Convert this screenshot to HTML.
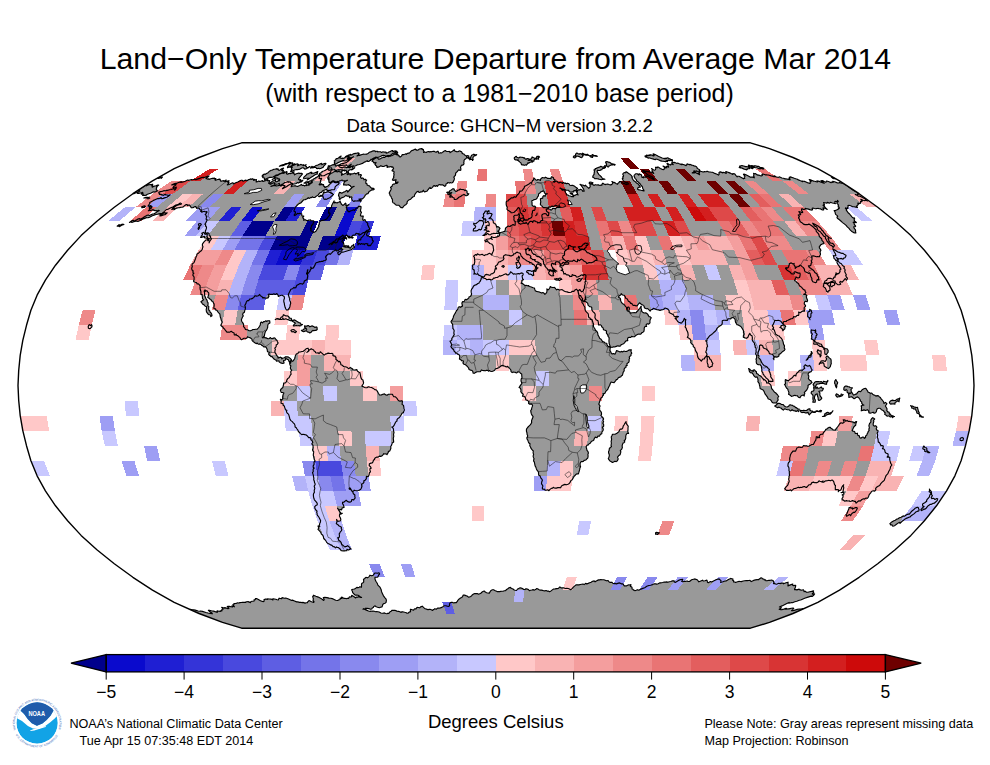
<!DOCTYPE html>
<html><head><meta charset="utf-8"><title>Land-Only Temperature Departure from Average Mar 2014</title>
<style>
html,body{margin:0;padding:0;background:#fff}
body{width:990px;height:765px;position:relative;overflow:hidden;font-family:"Liberation Sans",sans-serif;color:#000}
.t{position:absolute;white-space:nowrap;line-height:1}
.c{left:0;width:990px;text-align:center}
.cl{position:absolute;top:684.2px;width:60px;text-align:center;font-size:17.5px;line-height:1;white-space:nowrap}
</style></head><body>
<svg width="990" height="765" viewBox="0 0 990 765" style="position:absolute;left:0;top:0">
<rect width="990" height="765" fill="#fff"/>
<defs><clipPath id="c"><path d="M241.6,628.2 222.5,622.4 199,613.5 174.2,602.4 152.5,590.2 132.9,577.3 114.3,563.8 96.9,549.8 81.1,535.4 67.6,520.7 55.5,505.8 45.4,490.8 37.1,475.8 30.9,460.7 26.5,445.7 22.8,430.6 20.2,415.6 18.7,400.5 18,385.5 18.7,370.5 20.2,355.4 22.8,340.4 26.5,325.3 30.9,310.3 37.1,295.2 45.4,280.2 55.5,265.2 67.6,250.3 81.1,235.6 96.9,221.2 114.3,207.2 132.9,193.7 152.5,180.8 174.2,168.6 199,157.5 222.5,148.6 241.6,142.8 750.4,142.8 769.5,148.6 793,157.5 817.8,168.6 839.5,180.8 859.1,193.7 877.7,207.2 895.1,221.2 910.9,235.6 924.4,250.3 936.5,265.2 946.6,280.2 954.9,295.2 961.1,310.3 965.5,325.3 969.2,340.4 971.8,355.4 973.3,370.5 974,385.5 973.3,400.5 971.8,415.6 969.2,430.6 965.5,445.7 961.1,460.7 954.9,475.8 946.6,490.8 936.5,505.8 924.4,520.7 910.9,535.4 895.1,549.8 877.7,563.8 859.1,577.3 839.5,590.2 817.8,602.4 793,613.5 769.5,622.4 750.4,628.2Z"/></clipPath></defs>
<g clip-path="url(#c)">
<path d="M159,192.1 160.5,191.6 161.5,191.5 162.8,191.1 164.4,190.5 164.6,190.8 165.1,191 166.5,190.4 167.3,190.4 169.5,189.7 171.1,189.5 172.9,189 174.4,188.8 174.9,189.4 174.7,190.3 175.3,189.4 176.1,188.4 175.7,188.1 176.4,187.1 174.5,187.8 173.1,188.2 173.1,187.6 173.7,186.6 175.2,185.6 176.1,184.6 176,184.2 175.4,184.1 173.3,184.7 171.6,185 173.1,184.3 174.7,183.6 175.9,183.3 176.8,183.3 178.5,182.5 179.9,182.1 181.3,181.7 180.8,182.5 182.2,182.1 183.1,182 185.2,181.2 187.7,180 188.2,180.4 189.9,180 191.5,179.6 192.3,179.8 193.8,179.5 195,179.4 195.9,179.6 198,178.9 199.7,178.4 201.8,177.5 203.3,177.4 204.3,177.5 206.8,176.5 208.9,175.8 208.8,176.3 207.6,177.2 206,178.3 206.2,178.7 206.7,178.8 207.2,178.9 207.6,179.1 208.7,178.8 208.9,179.4 210.8,178.7 212.4,178.2 213,178.4 214.5,178.1 214.8,178.6 215.9,178.6 214.9,179.8 215.5,180.3 217.7,179.5 219.4,179.1 220.2,179.4 220.2,180.2 220.9,180.6 220.7,181.2 221.3,181.3 222.2,181 223.4,180.5 223.7,181.3 226.2,180.1 224.9,181.5 225.7,181.8 227.6,181 229,180.7 227.7,182.2 229.1,182.1 228.5,183.4 227.3,184.9 229.1,184.5 231.5,183.3 232.7,182.8 233.2,183 233.4,183.4 233.4,183.9 235.7,182.8 237.8,182 239.7,180.9 241.4,180.2 242.3,180.3 242.6,180.8 243.1,181.2 244.8,180.4 246.1,180.1 246,180.8 247,180.7 248.7,179.5 249.6,179.4 250.9,178.9 251.1,179.4 252.8,178.7 252.9,179.2 253.2,179.5 254.3,179.4 253.7,180.4 255.2,179.8 256.4,179.5 256.4,180.1 256.1,180.8 256.4,181.2 256.1,182 257.3,181.7 258.9,180.9 259.3,181.4 260,181.5 261.3,181 262.6,180.6 262.7,181.3 263.6,181.3 265.5,180.6 267.8,179.4 267.5,180.1 267.3,180.8 268.1,180.7 268.9,180.6 269.9,180.9 269,182.3 268.7,183.4 269.8,183.6 270.1,184.1 271,184.1 272.5,183.2 273.8,182.8 274.7,182.8 274.9,183.4 274.5,184.3 273.9,185.4 272.4,185.9 270.9,186.4 272.5,186 274.2,185.5 275.4,185.6 276.3,185.9 277.7,185.7 279.2,185.4 280.5,185.3 281,186.1 282.9,184.9 283.5,185.5 284.4,185.5 285.1,185.9 283.6,187.3 282.5,188.7 284.4,187.8 286.4,186.8 288.4,185.2 290.4,184.3 292.2,183.6 292.2,184.8 291.3,185.9 291.2,186.6 292.3,186.2 293.2,186 294.5,185.8 295.6,185.8 296.3,186.3 297.3,186.4 298.4,186.1 299.7,185.5 301.4,184.4 301.8,185.1 302.4,185.4 303.5,185.2 304,185.6 304.6,185.9 305.6,185.3 306.7,184.6 306.5,185.6 307.9,184.9 308.4,185.1 309.2,185.1 310,183.6 311.7,182 312.9,180.5 312.9,179.5 314,178.7 315,178.3 316,177.5 317,177.1 318.9,175.8 320,175.8 319.3,177.3 319,178.5 320.1,178.6 321.6,178.3 321.3,179.4 320.4,180.8 320.8,181.2 320.4,182 320.3,183.1 319.1,184.6 320.1,184.9 321.8,183.8 322,184.9 323.5,184.5 323.7,185.4 323.8,186.4 324.9,186.5 324.8,187.7 326.4,186.8 328.1,185.9 329.7,184.2 331.5,182.5 333.1,181.6 334.4,181.3 335.3,181.6 336.3,181.9 337.3,181.4 338,181.5 337.9,182.2 338,182.8 339.3,182.9 338.1,184.6 336.4,185.5 335,187.2 335,188.2 334.2,189.7 332.9,189.8 331.7,189.7 330.1,190.4 328.9,190.3 327.7,190.5 326.9,190.2 326.6,189.3 325.3,189.7 324.2,190.3 323.3,190.4 322.2,191.3 321.4,192.4 320.3,192.5 319.1,193.6 318.3,194.9 317,195.8 315.9,196.4 315,197.4 314.2,197.5 313.4,197.5 312.8,197.3 312.6,196.8 311.5,197.6 310.8,197.4 309,198.4 308.3,197.7 306.7,199 305.1,199.6 303.6,199.8 302.1,201.5 300.7,203 299.1,203.6 298.1,204.4 297.1,205.4 296.2,206.4 295.2,207.2 294.8,208.8 294,210.5 294.2,211.7 295.5,211.8 295.4,213.2 294.1,215 294.8,215.6 296.3,214.5 297.6,213.3 298.5,213.7 299.8,213.4 300.8,213.5 301.7,213.8 301.8,214.8 301.8,215.8 302.7,216.1 303.8,216.1 302.7,217.8 303.6,218.4 303.9,219.1 303.5,220.2 304.5,219.9 305.4,219.8 306.5,220.5 308,220.4 308.9,220.1 309.7,220 310.6,219.9 310.8,220.7 312.2,220.8 313.7,220.9 314,221.8 313.2,223.2 312.8,224.5 311.5,225.5 311.5,226.4 311,227.4 310.5,228.6 311.3,228.9 310.5,230.2 311.1,230.9 311.9,231 312.2,231.8 313,232.1 313.7,232.5 314.8,231.9 315.9,231.3 316.8,229.8 317.7,228.4 318.2,227.3 318.9,226.2 318.5,225.3 319.4,224.1 319.3,223.1 319.3,222.1 320.7,220.8 322.2,220.4 323.5,220.2 324.9,219.8 326.7,218.9 328.1,217 329.2,215.6 330,214.2 329.8,212.9 328.4,213.2 328.7,211.9 328.6,210.8 329,209.8 329.8,208.8 330.7,208 331.6,207.2 331.5,206 332.2,204.5 333.1,202.7 334.2,200.9 334,202.1 334.3,202.9 335.5,202.4 336.3,202.7 337.1,202.9 338.2,202.3 339.2,202 340.3,201.2 340.1,202.3 340.7,202.8 341.2,203.4 341.3,204.3 342.2,204.8 342.8,205.5 344.2,204.5 345.5,203.1 346.1,204.1 345.9,205.6 347.4,205.2 349,204.5 347.3,205.9 346.2,207.7 346.9,208.7 347.2,210 347.7,210.4 347.8,211.2 348.5,211.3 348.9,211.9 350.4,211 351.9,210.5 353.5,209.8 354.5,210.5 355.3,209.3 356.3,208.1 357.6,207.9 358.5,206.4 359.7,206.1 361,206.5 361,208.1 360.6,209.8 360.5,211.4 361.5,212.2 360.7,214.1 360.4,215.8 361.7,216.1 363.3,216 362.9,217.9 362.7,219.4 363.3,220.4 364.9,219.6 365.5,220.8 366.1,221.8 366.9,222.6 367.5,223 367.8,223.8 367.6,224.8 368,225.5 368.5,226.4 368.8,227.4 369.5,228.1 369.7,229.2 368.8,229.7 367.9,230.2 366.9,230.4 366,231.3 364.6,232.4 363.1,232.6 361.7,233.7 360.3,234.7 359,235.1 359.1,233.5 358,234 357.2,233.6 356.1,233.3 355.2,234.8 354.2,235.2 353.3,235 351.8,236.4 350.1,237.4 349,236.7 347.7,236.1 346.8,235 345.1,236.1 343.6,236.1 342.9,235 341.4,236.5 339.7,237.6 338.1,239 336.6,238.9 335.7,239.8 335.5,240.9 334.6,241 333.6,241.5 332.5,242.4 331.4,243.3 330.2,243.8 329,244.7 330.7,243.4 331.7,244.5 333,243 334.5,242.3 335.8,242.9 337.5,241.9 337.7,240.8 338.5,239.9 339.4,238.9 340.3,239.1 342,238.8 343.6,237.5 345.2,237.6 346.5,237.9 346.6,239.1 345.6,238.4 344.2,238.5 343,239.9 341.8,241.5 342.3,242.1 343.1,242.3 343.4,243.1 343.8,243.8 343.9,245.2 343.6,246.7 344.8,246.9 345.8,247.3 347.1,247.1 348.3,247.1 349.2,247.8 350.3,248.2 351,247.1 351.7,245.9 352.8,245.4 353.8,244.4 353.8,246.1 354.5,247.3 353.6,247.9 352.8,248.5 351.9,249.2 351,249.7 349.4,250.3 347.7,250.7 346.1,251.2 344.4,251.8 342.9,252.1 341.5,252 340.4,253.8 338.7,254.7 338,253.9 337.7,252.7 339,251.7 340.3,251.2 341.6,250.7 342.8,249.4 342,248.9 341.2,248.3 340,248.8 339,250 337.7,250.8 336.4,250.9 335.8,249.7 334.4,250.8 333.2,251.2 332.3,252.4 331.2,253.3 330.2,254.4 329.4,253.7 328.1,254.1 326.6,255.4 325.5,257.1 326.1,258.3 326.3,259.8 324.9,260.5 323.6,260.7 322.6,261.5 321.6,261.3 320.6,261.7 319.7,261.6 317.9,262.2 316.1,262.8 315.3,264 315,265.1 314.4,266.1 313.4,267.9 311.7,268.5 310.9,268 310.7,267 311.2,267.8 311,269.1 310.2,270 309.9,271.2 308.8,272.5 307.7,273.9 307.6,272.8 307.3,271.9 307.3,270.8 307.9,269.7 307.5,271.6 306.5,273.6 307.3,274.5 307.8,275.9 307.4,277.8 307.1,279.6 305.7,280.2 304.3,281.1 303.9,282.8 302.6,284.1 301.4,283.7 300.1,283.5 298.5,284.4 296.9,285.3 296.3,286.4 295.8,287.7 294.7,287.9 293.9,287.4 292.5,288.8 290.9,289.2 289.9,291.2 289,293.1 288.3,294.5 288.6,295.8 289,296.7 289.2,297.7 289.8,298.5 289.6,299.7 290,300.9 290.5,302 290.7,303.4 290.2,304.8 289.9,306.7 289.1,308.5 287.8,310 286.5,310 285.7,308.7 285.1,307.3 284.8,306.1 284.5,304.8 284.3,303.3 283.8,301.8 283.8,300 284.5,298.2 284.2,296.6 283,295.8 282.3,295.3 281.3,295.2 279.8,295.8 278.3,296.4 278.1,295.3 277.6,294.5 276.9,293.6 275.7,294.3 274.7,294.3 273.9,293.8 272.9,294.3 271.9,294.3 271,294.3 270.1,294.4 269.2,294 268.2,294.6 269,296.1 268,297.9 266.2,298.3 264.6,297.9 263.8,297.6 262.7,297.9 262.3,297.1 261.7,296.4 260.4,295.8 259.7,294.4 258.3,295.8 256.6,296.1 255.1,295.7 253.8,297.3 252.6,298.4 251.2,298.9 249.7,299 248.7,300.6 247.7,300.6 246.8,301.2 246.2,302.3 246,303.3 245.4,304.4 244.8,305.5 245.2,306.5 245.4,307.6 245.3,309.1 244.7,310.6 244.4,312.3 243,313.3 242.6,314.8 243.3,315.9 242.5,317 241.9,318.4 241.4,319.7 241.6,321 242.2,322 242.8,322.9 243.4,323.9 243.7,325.2 243.5,326.7 244.5,327.4 245,328.4 245.5,329.4 246.5,329.7 247.6,329.8 248.4,330.4 249.3,330.7 250.5,330.8 251.7,330.2 252.9,329.5 254.2,329.5 255.8,329.2 257.3,329.2 258.3,328 259.2,326.8 260.3,325 260.5,322.9 261.4,322 262.6,322.9 263.6,321.5 264.7,321.6 265.8,320.8 266.7,321.4 267.7,320.8 268.7,320.7 269.7,320.8 269.8,321.8 269.9,322.9 269,323.4 268.2,324.1 267.8,325.1 267.7,326.2 267.7,327.3 267.3,328.4 266.8,329.4 266.3,330.4 265.4,331.5 265,332.8 264.6,334.3 264.4,335.8 263.5,336.7 262.6,337.6 263.5,337.3 264.5,337.2 265.3,337.8 266.2,337.8 267.1,338.4 268.1,338.8 269.3,338.5 270.2,337.6 271.1,338.2 272,338.6 273.1,338.4 274.1,337.8 275,338.2 275.6,339 276.2,339.8 277,340.4 277.4,341.7 278.1,342.9 277.4,344.3 276.1,344.9 276.3,346 275.8,347.1 274.8,348.2 275.4,349.4 274.9,350.9 274.9,352.4 275.9,353.8 276.6,355.4 277.8,356.5 278.6,358.1 279.5,357.5 280.5,357.1 281.5,357.8 281.7,359 282.9,358 284.4,357.8 285.6,356.8 287.1,356.8 288.6,357.1 289.9,358.1 290.7,358.9 291.4,359.6 290.8,360.7 290.9,361.9 290.6,363.1 289.7,363.8 289.7,362.5 289,361.4 288.3,359.6 286.9,359.1 285.7,358.4 285.2,360.3 283.5,360.5 283.7,361.8 284.1,362.9 282.8,363.5 281.5,363.1 280.2,362.6 279.2,362 279,360.8 277.8,361 276.6,361.1 275.9,360.1 274.8,359.6 274,359.1 273.4,358.2 272.7,357.6 272.3,356.6 271,356.6 270.4,355.8 269.5,355.4 268.6,354 269.4,352.4 268.5,352 267.5,351.7 267.3,350.5 267.2,349.4 266.5,347.9 265.4,346.7 263.8,346.9 262.8,345.8 261.8,345.4 261.1,344.5 260.1,344.2 259,344.3 258,344 257.3,343.1 256.1,343.6 255.2,343.1 254.2,342.3 253.2,341.6 252.2,340.6 251.9,339.1 250.8,338.3 249.7,337.6 248.5,337.3 247.5,336.7 246.9,337.9 245.9,338.5 244.9,338.2 243.9,338.3 242.7,339 241.5,339.7 240.5,338.9 240,337.6 238.8,336.6 237.5,335.5 236.4,335.3 236.2,334.1 235.4,335 234.3,334.9 234.1,333 232.5,332.3 231.2,331.3 229.5,332.2 228.2,332 226.9,332.2 226.1,331.1 225.3,330.1 224.4,328.9 223.3,328 223,327 222.1,326.6 221.5,326 220.8,325.3 221.6,323.5 222.2,322 221.5,320.8 221.1,319.6 220.8,318.2 220.3,317.1 220.1,315.7 219.8,313.9 218.7,312.8 217.7,311.6 216.9,310.3 215.8,310.1 215.6,308.9 214.5,308.8 213.8,308.2 214,306.6 214.2,305.1 214.1,303.9 213.5,303.1 213.2,302 212.3,301.5 211.5,300.7 210.9,299.6 209.8,299.1 209.1,298.2 207.8,297.6 208.3,295.7 208.8,294.2 208.7,292.8 207.7,291.8 206.8,290.7 205.3,291.3 205.1,289.8 204.1,291.1 204.5,292.2 204.6,293.8 204.6,295.5 205.2,296.8 205.8,298.2 206.2,299.1 206.8,299.8 207.2,300.8 207.3,301.8 208,302.7 208.1,304.1 207.7,305.7 208.8,306.4 208.7,307.7 208.6,309 208.9,310.2 209.8,310.9 210,312 210.8,312.7 211.7,314 212,315.7 210.8,316.6 210.7,315.5 210.1,314.8 208.8,314.6 207.8,313.7 207,312.7 206.4,311.5 206.2,309.7 206.6,307.9 206.4,306.6 205.4,306.3 204.7,305.6 204,304.8 203,304.4 202.2,303.6 201.8,302.6 200.9,301.8 202.2,300.8 203.5,299.7 202.5,298.5 202.4,296.7 202.1,295.7 202.2,294.5 201,294.4 200.9,293.1 200.9,291.3 200.3,289.8 200.1,288.8 200,287.7 200.2,285.9 199.4,284.8 198.4,283.8 197,283.9 196.6,282.6 195.1,282.3 193.7,281.7 193.6,280.7 194.1,279.6 194.1,278.3 194.1,277 193.5,276.2 192.9,275.4 193,274.2 193.9,273.2 193.1,272.9 192.9,272.1 193.2,270.9 192.3,270.6 192.1,269.7 191.7,268.9 191.8,267.8 192.3,266.7 192,265.4 192.2,264 194,262.6 194.7,260.7 195.5,258.7 196.1,256.8 196.8,255.4 197,254.1 198.5,253.2 199.8,251.8 201.3,250.8 202.3,249.3 202.5,248.1 203,246.7 202.4,245.6 202.4,244.1 203.8,242.2 205.5,240.3 207,239.7 208.7,238.7 208.5,240 209,240.9 209.3,241.7 209.1,242.9 209.9,241 211.3,239.1 211.3,238.2 210.5,237.9 210.4,237.1 210.6,236 209.8,235.9 209.1,235.6 209.1,234.3 208.9,233.2 207.7,232.9 206.1,233.3 205.4,232.5 205.3,231.3 205.9,229.8 206.4,228.4 206.5,227.3 206.2,226.6 205.4,226.1 205.8,224.9 204.9,224.3 205.9,222.6 206.7,221.1 207.2,219.8 206.2,219.5 206.2,218.4 206.5,217.5 206.8,216.5 206.1,216.3 206.1,215.6 205.8,214.9 205.2,214.6 206.2,213.4 207,212.2 206.9,211.5 205.7,211.9 205.1,211.7 204.6,211.4 203.4,211.5 201.7,212.2 201.7,211.3 200.7,211.4 201.7,210 200.6,210 199.9,209.6 199.6,209 199.4,208.3 198.7,208 197.7,208.1 196.5,208.3 196.5,207.5 195.9,207.2 195.9,206.6 195.2,206.5 194,207.1 192.8,207.6 191.3,207.8 190.9,206.9 190.3,206.5 190,205.8 189.8,205.1 188.7,205 187.3,205.6 187.2,205 187,204.5 186.2,204.5 184.5,205.7 183.3,206.9 182.2,207.1 181.1,207.2 179.6,207.6 178.4,207.8 176.5,208.1 174,209.7 173.9,209.2 174.3,208.3 172.8,209.1 171.7,209.4 173.7,207.5 176.2,205.8 178.2,204.4 180.3,203 181.1,203.4 181.5,203.9 180.2,204.5 179,204.8 177.6,205.3 177.8,204.5 175.8,205 173.2,206.7 170.8,207.7 168.3,209.1 167.2,209.5 166.5,209.4 165.4,210.4 164.4,211.4 162.2,213.2 160.4,213.6 159,213.9 157.5,214.2 155.9,214.5 154,215.3 152.3,215.8 150.1,217 149,217.4 147.9,217.7 147.1,217.7 146.4,217.6 144.1,218.6 141.6,219.8 139.6,220.8 137.9,221.4 136.9,221.2 135.7,221.2 133.8,221.8 131.8,222.5 131.3,221.8 129.4,222.4 131.4,221.1 133.3,220.2 133.7,220.9 135.2,220.6 137.3,219.4 139.4,218.5 139.8,219.3 142,218.4 144.4,216.8 146.8,215.4 148.7,215 149.4,215.6 151,214.8 152.7,214 153.8,214 155.8,212.8 157.5,211.4 159.3,210.5 158.6,210.4 157.7,210.6 156.7,210.7 156.1,210.5 155,210.7 154.6,210.4 154,210.2 153.2,210.3 153.1,209.4 150.8,210.5 149.7,210.5 148.3,210.8 149.7,209.3 151.8,207.8 150.7,208 149.3,208.4 149.4,207.8 149.3,207.2 151.4,206.2 152,206.7 150.9,206.5 150.9,205.5 149.7,205.9 148.5,206.2 148,206 148.7,205 149.8,203.5 149.7,202.6 151.6,201.4 153.4,200.4 155,199.7 156.6,199 158.3,198.4 158.9,198.7 161.2,197.6 161,198.5 161.8,198.7 163.2,198.4 165.2,197.6 166.8,197.2 168.7,196 170.2,194.8 168.8,195.2 167.9,195.3 167.3,195 166.4,195 165.8,195 165.8,194.4 164.7,194.6 163.1,195.6 162.8,194.9 161.4,195 161.4,194.5 160.9,194.2 159.8,194.5 159.4,194.2 159.5,193.6 159.1,193.2 158.7,192.9Z M371.9,161.3 372.6,160.3 373.9,159.3 375.1,158.4 376.3,157.8 377.2,157.7 377.6,158 378,158.4 378.4,158.7 378.4,159.2 379.1,159.2 379.9,158.9 380.6,158.8 381.6,157.9 382.4,157.8 383.2,157.5 383.8,157.5 384.7,157.4 385.8,156.5 386.8,155.8 387.7,155.6 388.4,155.5 389,155.6 389.8,155.5 390.6,155.2 391.8,154.1 393.1,153.2 394.1,153.1 395.5,152.3 395.8,152.9 396.7,152.9 397,153.4 396.2,154.6 396.9,154.8 397.9,154.5 398.2,155.1 398.2,155.8 399.1,155.7 399.3,156.3 399.6,156.8 400.1,157.1 400.9,156.6 401.7,155.9 401.8,155.3 402.3,154.6 403.3,154.6 404.7,154.2 406,153.7 406.3,154.4 407.5,153.4 408.7,153.1 409.6,152.9 410.3,152 410.9,151.3 411.7,150.6 412.4,150.4 413.2,150.3 413.9,149.7 414.8,149.3 415.6,149.1 415.5,149.8 416.2,149.7 416.5,150.1 417.1,150.1 417.8,150.2 418.6,149.6 419.5,149 420.1,148.9 420.8,148.8 421.5,148.5 422,148.6 422.4,148.9 422.1,149.5 422.9,149.4 423.4,149.5 423.5,149.9 423.4,150.4 423.4,151 423.9,151.1 423.9,151.7 423.5,152.5 424.6,151.9 425.1,152.2 425.8,152.2 426.2,152.4 427,151.9 427.7,151.8 428.5,151.5 429,151.7 429.5,151.9 430.2,151.6 430.7,151.8 431.3,151.8 432,151.5 432.7,151.4 433.4,151.2 433.9,151.4 434.5,151.4 434.9,151.7 435.5,152 436.1,152.3 437,151.6 437.9,151.2 438.3,151.6 438.4,152.3 438.6,152.8 438.9,153.3 439.7,153 440.5,152.7 441,153 441.8,152.9 442.5,152.4 443.2,151.8 444,151.2 444.7,150.8 445.7,150.6 446,151.3 446.7,151.5 447.5,151.5 448.4,151.5 449.3,151.4 450,151.8 450,152.7 451.1,151.9 452.3,151.3 453.4,150.6 454.2,149.5 454.4,150.5 455,151.1 455.9,151.4 456.8,151.8 457.4,151.7 458,151.6 458.6,151.5 459.1,150.9 459.7,151 460.3,151 460.5,151.4 461.1,151.5 461.5,151.8 461.8,152.2 462.1,152.6 462.1,153.2 462.5,153.5 462.9,153.8 463.4,153.9 464,154 464.4,154.8 465.1,155.3 466,155.5 466.4,156.4 467,155.9 467.7,155.5 468.1,156 468.8,155.9 468.7,156.6 469,157.2 469.1,157.8 469.3,158.5 470.4,158 471,156.6 471.6,155.3 472.7,154.8 473.8,154.2 474.7,154.6 475.6,155 476.7,154.6 476.1,155.3 475.3,155.6 474.3,155.4 473.8,156.6 473,157.3 472.8,158.4 473.2,159.4 472.6,160.5 472.3,159.5 471.4,159.5 470.7,159 469.8,159.8 469.5,159 468.8,158.7 468.3,158.2 468,157.5 467.2,157.9 466.8,157.4 466.3,158.1 465.8,158.7 464.7,159.4 463.9,160.7 464.1,161.4 463.7,162.4 464,163.1 463.9,164 462.9,165.1 461.8,165 461,166.1 460.5,167.5 460.9,168.7 460.8,170.3 460,170.4 459.4,170 458.7,169.9 458,170.6 457.4,171.4 456.8,172 456.1,172.6 455.6,173.4 455.6,174.4 455.3,175.5 454.6,176.2 453.8,177.1 454.4,178.2 454.2,179.8 453.6,180.9 453.1,182 452.2,182.8 451.2,183 450.4,182.6 449.5,183.1 448.7,182.7 447.9,182.5 447,183.5 446,184 445.8,185.5 444.8,186.4 444,185.8 443.3,185.3 442.6,184.8 441.6,184.8 440.5,184.9 439.5,184.5 438.3,185.1 437.4,186.3 436.5,185.5 435.3,186.4 434.6,185.6 433.5,185.9 432.5,187.3 431.3,188.4 430.3,188.4 430.1,187.4 429.2,188.1 428.6,189.2 427.7,190.2 426.8,191.3 425.8,191.5 424.7,191.9 423.8,191.3 423.3,190.2 422.3,191.8 420.9,191.8 420.1,192.3 419.3,192.3 418.6,192.1 418.3,191.3 417.4,191.6 416.6,192 416,192.9 415.3,193.7 414.5,195.1 414.3,196.5 413.1,196.8 412,197.7 410.7,199.2 409.2,199.8 408.4,200.4 407.6,201.1 407,202.2 407.2,203.1 406.1,204.4 404.8,205.2 403.6,206.3 402.7,207.8 401.9,207.5 401,207.6 400.4,207 399.8,206.4 399,205.3 397.6,205.2 396.2,205.1 395.2,204.5 394.5,203.3 393.3,203 392.5,202 392.5,200.4 392.3,199.2 391.7,198.4 391.3,197.4 391,196.4 390.1,195.6 389.8,194.2 389.4,193.7 389.2,193 389.7,192 390.2,191.1 390.9,189.8 391.3,188.6 390.8,188.1 390.5,187.2 391.4,186.8 392.2,186 392.4,184.9 393.3,184.1 394.4,184.1 395.7,183.1 396.8,183.5 398.1,182 396.9,182.2 395.6,182.5 395.6,181.2 396.1,179.7 395.1,179.8 394,180.4 393.1,180.3 392.4,180 393.1,178.5 393.9,177.1 393.6,176.4 394,175.3 394.1,174.4 393.7,173.9 394.1,172.3 393.8,171.2 393.3,171 392.6,171.1 392,170.8 392.5,169.8 393.6,168.6 393.2,168 393.2,167.2 392.6,166.9 391.8,167.1 391.3,166.9 390.9,166.5 390,166.8 389.3,166.8 388.7,166.8 387.8,167.3 387.1,167.4 386.9,166.9 387.5,165.9 387.1,165.6 386.7,165.3 385.3,165.7 383.7,166.5 382.6,166.4 381.7,166.1 380.8,165.7 379.2,166.9 378.2,167.1 376.9,167.5 376.8,166.7 376.5,166 375.9,165.6 375.4,165.1 375.4,164.5 374.9,164.4 375.3,163.6 376.2,162.7 375.2,162.6 373.9,162.9 373.6,162.3 373.2,161.8 372.7,161.4Z M446.8,192.4 448,192.1 449.2,192 450,190.5 451.3,190 452,189.4 452.8,188.8 453.5,188.8 454.2,189.1 454.3,190.1 455,190.5 455.4,191.1 456,191.6 457.1,191 458,190.1 459.2,190 460.2,189 461.1,189.5 462.2,189.5 463.2,189.6 464.2,189.7 464.8,190.7 465.8,190.1 466.4,190.6 467.1,191.1 466.9,192.1 467.3,193 467.9,193.8 468.8,193.7 468.2,194.7 467.3,195.4 466.4,195.7 465.5,195.6 464.7,194.8 463.8,194.4 462.8,195.1 461.7,195.6 460.9,196.4 459.9,196.7 458.9,197.2 458.1,198 457,199 455.7,199.5 455,199.5 454.3,199.5 454.2,198.5 454,197.7 452.8,197.5 452,196.4 450.8,197.2 449.6,196.9 450.5,195.9 451.4,195 450.4,194.8 449.3,194.9 448.5,194.2 447.5,194 448.5,194.6 449.7,193.6 450.8,193.5 451.8,192.6 450.5,192.7 449.3,192.5 447.9,193.1Z M291.4,359.6 291.7,360.7 292.4,361.4 293.3,360.7 294,359.7 294.6,358.7 295,357.5 295.4,355.5 296.5,353.9 297.9,353.6 298.5,352.1 300.2,352 301.9,351.5 303.2,351.4 304.2,350.5 305.2,349.7 306.1,348.8 307,348.5 308,348.2 308.6,349.4 309,350.7 307.9,351.5 306.9,352.4 308.2,351.5 308.7,349.9 310.1,349.6 311.3,348.8 312.3,349.5 313.5,349.7 314,350.9 315.1,351.5 315.7,352.7 316.9,353 318.1,352.8 319,353.6 319.7,352.8 320.3,351.8 321.1,352.5 321.9,353.1 323,354.2 324.2,355.1 325.4,354.1 326.9,353.6 328.2,353.1 329.6,353.4 330.9,353.5 332.2,353.3 333,354.1 332.9,355.4 333.7,355.9 334.7,356 336,357.5 335.9,359.6 336.9,360.1 337.8,360.8 338.6,361.8 339.8,361.4 340.6,363 340.9,364.7 342.4,365.3 343.6,366.5 345.3,366.8 346.9,367.3 347.7,367.9 348.5,368.6 349.5,368.2 350.2,367.4 351.8,368.4 353.2,369.8 355,370 356.8,369.5 357.2,370.7 357.9,371.6 358.9,372.2 359.9,372.6 360.3,374.3 360.6,376.1 361,377.9 361.9,379.5 363,380.1 363.2,381.5 363.6,382.7 363.2,384 362.4,385 361.9,386.1 363.2,386.6 364.4,387.5 365.8,387.7 367.2,387.6 368.5,386.8 369.9,387.3 371.6,387.5 373.3,388.4 374.8,389.6 376.5,390 377.5,391.6 378.4,393.3 379.5,395 381.4,394.9 382.9,394.3 384.5,393.9 385.7,394.9 387.1,395.2 388.4,394.3 389.8,394.2 391.1,394.2 392.4,394.2 393,395.5 393.8,396.6 395.2,396.7 396.2,397.7 397.2,398.7 397.9,399.9 398.8,400.8 400,401.3 401.2,400.7 402.4,401.1 402.3,402.8 402.1,404.4 403.5,405.4 403.8,407.2 403.9,408.6 404.4,410 403.8,411.2 403.4,412.6 402,413.2 401.3,414.7 400.5,415.9 399.6,417.1 398.8,418.1 397.8,418.6 397,419.6 397,421 396.1,421.6 395.4,422.5 395,423.6 394.5,424.6 394,425.4 393.5,426.3 392.7,426.7 391.8,427 392.5,427.7 393.3,428.5 393.5,429.5 393.5,430.6 394,432.5 393.5,434.4 393.8,436.3 393.3,438.2 393.5,440.1 393.7,442.1 392.2,443.1 391.6,445.1 390.7,446.5 390.9,448.2 390.3,449.7 389.7,451.1 388.4,451.3 388.2,452.7 387.5,453.6 387,454.7 386.1,453.8 385,454 383.8,453.7 383.1,454.7 382.1,455.8 380.8,456.4 379.3,456.1 378.1,457.1 376.9,457 375.9,457.5 374.8,458.2 374.5,459.5 373.4,460.3 373,461.8 372.2,462.9 370.9,463.1 369.4,463.7 369.2,465.6 370.5,466.7 371.2,468.3 369.9,468.7 370,470.3 370.5,471.9 369.4,472.8 369.1,474.6 368.5,476.3 367.5,476.6 366.4,476.3 366.3,477.5 366.4,478.8 365.6,479.5 365,480.4 363.8,480.9 363.9,482.4 362.9,483.5 361.6,484.3 362,486.2 361.5,487.8 361,488.8 360.3,489.6 359.4,490.1 358.5,490.5 356.9,490.8 355.3,490.5 354.2,490.2 353.6,491 352.9,491.3 352,491.4 351.7,490.3 350.9,489.5 350.4,488.3 349.5,487.8 349.1,488.7 350.1,489.5 351.1,489.8 351.9,490.8 352.7,491.7 353.4,493.7 354.9,495 354.8,496.5 355.2,498.1 354.3,498.9 353.7,500.1 352.6,499.5 351.6,499.9 351.5,501.2 350.7,501.9 349.6,502.1 348.4,501.9 347.3,501.2 346.2,500.3 345.3,500.9 344.5,501.4 343.8,502.3 342.6,502.2 342.5,503.6 343.4,504.8 343.7,506.1 344.2,507.3 343.2,507.6 342.3,507.8 341.9,508.8 341.6,509.9 340.5,509.5 339.6,509.9 338.4,509.5 337.6,508.2 338.6,509.9 339.5,511.5 340.8,513 342.4,513.3 341.6,513.5 341,514.1 340,513.9 339.5,514.8 339.5,516.3 340.3,517.8 340.8,519.3 340.6,520.7 339.6,521 338.7,521.3 337.4,520.9 336.6,519.4 336.8,520.6 337,521.8 336.6,522.7 336.3,523.7 337.7,524.4 338.8,525.8 340.2,526.5 341.5,527.2 341.2,528.2 341.8,529.5 341.4,530.9 340.4,531.6 339.9,532.9 339.2,533.9 339.5,535.8 339.2,537.3 338.4,537.6 337.5,537.7 338.5,538.9 338.4,540 339.8,540.9 341.1,542.3 341.6,544.1 342.4,545.1 343.3,545.6 344.2,546.4 345.1,546.9 345.7,546.5 346.5,546.5 347.1,546.1 347.7,545.7 348.6,546.7 349.6,547 350,548.2 351.1,548.9 349.8,549.3 348.7,550.1 347,549.2 346.8,550.7 345.7,550.7 344.6,550.9 343.8,550.9 343,551 342,550.7 341.2,550.6 339.9,548.8 338.2,547.5 337.4,547.5 336.4,546.9 336,547.4 335.4,547.8 334.2,546.6 333.1,546.7 332,545.4 330.7,544.9 329.7,544.3 328.6,543.7 327.5,543.2 326.5,542.1 326,541 325.3,540 324.4,539.3 323.7,538.3 323.4,536.8 322.8,535.3 321.4,534.1 320.8,532.5 319.5,530.8 318,529.3 318.8,528 318,526 318.9,526 319.8,526.5 319.2,525.3 319.6,524.5 319.8,523.2 320.4,522.2 320.6,520.6 319.7,518.7 318.8,517 317.5,515.4 317,514.2 317.1,513.2 316.6,512 317.1,511.2 315.8,510 314.9,508.4 314.7,506.7 315.6,505.8 316.2,505.3 317,505 317.3,504.2 317.1,503.1 315.8,501.4 314.4,499.8 313.9,498.5 313.6,497.1 313.4,495.7 313.4,494.4 313.7,493.3 314.4,492.3 314.2,490.3 314.8,488.6 314.6,487.5 314.2,486.4 314.5,485.5 315.1,484.8 315.1,483.7 314.5,482.5 314.4,481.4 313.9,480.3 313.7,479.1 313.9,478.1 313.5,476.9 313.5,475.8 313,474.2 312.5,472.6 313.3,471.5 313.1,469.8 313.5,468.6 314.3,468.1 313.2,467.3 313.2,465.9 314.1,464.3 314,462.2 315.1,461 314.2,459.3 313.9,457.7 313.5,456.2 313.3,455.1 313.4,453.9 313.6,452.9 313.7,451.7 312.8,450.8 312.6,449.5 312.9,448.4 313.1,447.2 313,445.3 311.8,443.9 312.8,442.5 312.1,440.6 310.9,439.8 310.9,438.3 309.8,437.5 308.7,437.6 307.5,436.2 306.3,435 304.7,434.6 303.1,434.3 301.7,434.6 300.5,433.6 299.5,432.5 298.4,431.5 297.9,430.1 297,429 296.3,427.8 295.1,427 295,425.4 294.4,423.9 293.3,422.8 292.3,421.6 290.9,420.6 289.9,419.1 289.5,417.3 289,415.6 288.5,414.1 287.3,413.2 286.4,411.8 286.9,410.2 285.5,409.9 285.1,408.5 284.6,407.2 284.3,406 283.1,405.3 283.1,403.9 282.1,403.5 281,403.3 281.2,401.2 280.4,399.3 281.8,400 282.8,398.6 282.7,397.2 282.9,395.7 283.2,394.3 283.9,393 282.6,392.5 281.2,392.4 280.8,391.4 280.4,390.3 280.9,389.2 281.7,388.5 282.9,387.3 283.3,385.5 283.7,384.3 283.6,383.1 285.3,383 286.5,381.6 286.8,380.1 287.7,378.6 289,377.7 289.5,376.7 290,375.8 290.5,374.9 291.2,374.1 290.8,372.8 290.8,371.5 291.7,370.1 290.5,368.9 290.4,367.4 290.9,365.9 290.1,365.1 289.7,363.8 289.7,362.6 289.9,361.4 290.9,360.7Z M374.2,189.2 373.3,189.9 372.5,190 371.7,190 370.9,190.4 370,191 369,191.6 368.6,192.7 367.9,193.7 366.7,193.9 365.4,195.1 364.6,196.6 363.5,197.9 362.2,199 361.1,198.9 359.9,199.4 359,199 359.3,199.8 359.8,200.5 361.2,200.2 360.8,201.7 360.6,200.9 359.8,200.8 358.9,200.9 358.1,200.9 357.4,200.9 356.5,201 355.7,201 355,200.9 353.7,201.4 353,200.9 352.4,200.4 351.9,199.7 351.6,198.7 351.9,197.3 351,196.8 349.5,197.7 349.4,196.9 349.4,196.2 348.7,196 347.8,196.3 346.7,195.9 345.8,195.3 344.3,196.7 342.8,197.4 341.2,198 339.7,199.6 339.2,198.7 339.4,197.4 339,196.4 338.5,195.6 338.8,194 339.5,192.4 340.5,192.5 341.1,193.1 342.3,192.9 343.7,192.1 345.2,191.5 346.7,190.4 347.5,191 347.7,192.1 349.1,190.5 350.5,189 351.5,188.2 352.3,187.3 353.3,186.5 354.1,186.4 352.6,187.1 351.3,187.2 350.7,186.4 350.3,185.5 349.2,185.4 348.8,184.5 347.3,185 346.1,185.1 345,184.8 343.6,185 343.7,183.7 344.4,182 346,180.9 347.5,180.3 346.3,180.6 345.2,180.8 344.4,180.7 343.2,181 342.8,180.4 342,180 340.6,180.7 339.5,180.8 338.4,181.9 337.2,182.4 336,182.8 335.2,182.7 334.5,182.5 334,182.2 333.6,181.7 333.8,180.8 332.9,180.8 331.7,181.4 330.3,182.6 329.4,182.4 328.8,182.1 329,181.1 328.7,180.6 329.1,179.5 328.1,179.4 329.2,177.9 327.9,178.5 327.7,177.8 328.5,176.2 329.5,174.6 330.5,173.8 331.6,173 332.6,172.7 333.7,171.9 335.2,171.3 335.8,171.6 336.9,171.5 337.4,171.9 338.9,171.2 339.5,171.6 340.2,171.9 341.4,171.5 342.9,170.8 344.4,170 344.5,170.9 346.1,170.3 346.4,170.9 346.5,171.7 347.7,171.5 348.5,171.7 348.2,172.5 348.6,172.8 347.8,173.7 347.1,174.6 348.5,174.2 350.1,173.6 350.4,174.1 350.1,175 351.4,173.8 352.2,173.9 353.3,173.8 354.7,173.1 355.2,173.6 355.9,173.9 357.5,172.9 358.9,172.6 358.7,173.7 358.5,174.9 359.5,174.8 360.6,174.6 361.4,175.1 360.5,176.6 360.7,177.7 361.4,178.4 362.4,177.9 362.9,178.2 363.4,178.3 363.7,178.8 364,179.8 365.4,179.2 365.8,179.9 366.7,180 366.1,180.9 365.8,181.8 365.9,182.5 365.7,183.3 366.3,183.5 367,183.8 367,184.6 367.3,185.3 368.1,185.4 368.6,185.7 369.4,185.8 369.8,186.4 370.4,187.3 371.2,187.9 372,188 371.9,189 372.9,188.3 373.6,188.4Z M270.1,182.8 270.5,183.3 270.6,183.9 272,183.5 273.5,182.8 274.7,182.9 274.6,184.1 275.7,184.2 276.8,184.3 278,184 279.4,183.3 278.9,184.3 279.5,184.6 279.8,185.1 280.4,185.2 281.8,184.4 282.9,184.1 284.8,182.5 286.3,182.2 288.1,181.5 288.3,182.3 290,181.7 290.4,182.4 291.1,182.7 291.1,183.6 292.5,183.4 292.9,184.3 294.3,184 295.7,183.8 297.7,182.5 298.4,183.1 300,182.2 301.2,182 302.1,181.2 302.8,180.3 301.4,180.8 300,181.4 299.9,180.7 300.7,179.5 299.7,179.7 299.1,179.6 298.5,179.4 298.5,178.8 299.3,177.9 299.8,177.1 301.3,175.4 302.5,173.9 301.8,173.4 300.8,173.3 299.3,173.5 298.9,172.9 297.8,173.4 297,173.5 295.8,174 294.6,174.9 294.6,174.4 294.5,173.9 294,173.8 293.5,173.6 293,173.2 294.2,171.9 292.6,172.6 291,173.4 290,173.6 289.6,173.4 288.7,173.6 287.5,174.1 286.6,173.9 286.4,173.3 287.1,172.2 286.8,171.6 284.9,172.6 283.1,173.4 282.4,173 280.7,173.6 279,174.6 277.5,175.5 277.4,174.9 276.2,175.1 274.7,176.1 273.3,176.8 274.3,176.6 274.4,177.1 274.3,177.7 275.3,177.5 273.7,178.8 272.2,179.5 273.5,178.8 274.7,178.4 276.1,177.8 276.5,178.1 277.3,178.1 278,178.2 277.7,179 278.1,179.3 279.3,178.9 279.7,179.4 279.6,180.1 279.2,181 278.7,180.5 276.8,181.8 276,181.7 275.5,181.3 275.6,180.4 276,179.3 274,180.6 272.5,181 271.4,182.2Z M262,176.1 263.3,175.9 262.7,177 262.8,177.7 263.7,177.8 264.4,178 264.3,178.6 264.6,179.1 264.4,179.8 265.9,179 267.4,178.2 268.5,177.9 269.9,177.3 271.1,177.4 272.4,177.3 274.2,176.7 276.3,175.8 277.6,175.2 278.8,174.3 280.1,173.6 281.1,173.3 282.3,172.8 282.7,173.1 284,172.5 284.3,172.9 284.7,171.8 283,172.3 282.7,171.7 283.5,170.5 282.9,170.2 281.6,170.4 282.6,169.3 283.6,168.1 281.6,168.8 279.4,170.4 278.7,170.2 278.1,169.8 278.3,169.1 277.7,168.9 276.7,169.1 276.4,168.7 275,169.2 273.9,169.3 272.3,170.1 271.2,170.3 269.1,171.5 268.1,172.7 266.5,173.5 265,174.5 264.8,174 263.2,174.6Z M288.7,167.2 289.5,167.2 291.3,166.4 290.7,167.3 292.2,166.8 292.3,167.3 291.6,168.1 291.4,168.8 291.3,169.3 292,169.6 291,170.8 290.6,171.7 291.8,171.5 293.6,170.5 295.2,169.8 296.5,169.5 297.3,169.6 298.6,169.4 300,169.1 302.3,167.7 303.5,167.7 303.7,168.3 304.5,168.5 304.7,169.2 306.5,168.6 308.2,167.7 309.9,166.5 308.3,167.2 307.1,167.5 306.5,167.3 306.5,166.6 305.9,166.4 305.7,166 305.4,165.6 306.1,164.7 304.6,165.2 303.1,165.7 303.6,164.7 302.2,165 301.7,164.7 301.1,164.4 299.5,165 297.6,165.8 297.9,165.1 298.4,164.3 297.6,164.2 297.4,163.8 296,164.2 294.2,165.1 293.1,165.3 292.4,165.1 290.6,166.4Z M338.5,165.4 339.6,165.4 340.7,165.3 341.6,165.5 343.1,165.2 344.1,165.2 345.2,165.2 346.7,164.9 347,165.6 347.5,166.1 348,166.6 349.6,165.2 351.3,164.2 350.4,165.2 350.1,166 349.7,166.9 349.3,167.8 350.4,167.3 351.4,166.3 352.2,166.1 352.9,166.1 353.7,165.9 353.9,166.3 354.6,166.2 355.6,165.8 357.1,164.9 358.2,164.8 359.4,164.5 360.8,164 362.4,163.4 364.2,162.2 365.7,161.6 367.4,160.7 367.4,161.2 367.8,161.4 368.4,161.5 369.3,161.1 370.8,160.1 370.8,159.3 371.5,159.6 372.9,158.5 374,157.9 374.8,157.8 376,157 376.6,157.2 376.7,157.7 377.7,157.3 378.5,157.2 379.4,156.9 380.4,156.5 381.4,155.9 382.4,155.5 383.3,155.2 383.3,155.9 384.4,155.5 385,155.6 385.3,155.9 385.6,156.2 386,156.5 386.9,156.3 387.4,156.5 388,156.5 388.6,156.6 389.6,156.2 390.2,156.3 391.2,155.8 392.1,155.6 393.1,155.1 394.1,154.3 394.9,154.1 395.7,153.9 396.8,153.1 397.6,153.1 397.7,152.5 397.2,152.3 397.1,151.9 397,151.5 396.6,151.1 395.4,151.6 395.3,151.2 395.2,150.7 394.1,151.3 393,151.6 392.7,151.2 392.9,150.5 392.2,150.6 391.1,151.1 390.2,151.5 389.3,151.8 387.7,152.7 386.2,153.2 386.3,152.3 385.4,152.1 384.5,152.1 383.8,152 383,151.8 381.5,152.5 381,152.1 380.7,151.7 379.8,151.7 378.8,151.7 377.7,151.9 377.6,151.2 376.7,151.2 375.4,151.7 375.3,151 374.5,150.8 373.3,150.9 371.8,151.4 370.7,152 370.1,151.9 369,152.5 368.4,153.2 367.5,153.8 366.5,154.3 366.1,154.1 365.4,154.2 364.5,154.2 363.5,154.1 362.2,154.5 360.8,154.9 359.4,155.5 359.4,154.9 358.3,155.4 357,156 358,155.2 358.7,154.4 358.5,154 359.2,153.3 358.3,153.2 358.1,152.7 356.7,153.2 355.4,153.4 354.1,153.6 352.2,154.6 350.6,155.1 350.6,154.4 349.2,155 347.7,156 346.7,156.1 345.5,156.5 346.7,156.4 347,156.9 348.5,156.6 349.3,156.8 348.4,157.7 348.9,157.8 349.6,157.7 350.2,157.7 350.4,158 349.8,158.7 351,158.2 351.3,158.5 349.7,159.9 348.1,161.3 346.2,162.6 344.7,163 343.1,163.6 342.2,163.5 340.6,164Z M331.7,169.3 332.3,169.5 332.5,169.9 333.1,170 334.3,169.4 334.7,169.7 335.1,170 335.4,170.3 334.7,171.3 335.6,171 336.6,170.5 337.7,170 338.6,169.7 338.9,170.1 339.7,169.9 340.5,169.8 340.9,170 342.1,169.9 342.8,170.2 341.3,171.6 341.1,172.7 341.7,172.9 342.2,173.3 341.6,174.4 341.6,175.3 342.9,174.4 344,174.1 345.1,173.6 346.3,173 347.6,171.8 348.7,170.5 350.1,169.7 351.3,169.6 351.6,169.9 352.8,169.2 353.8,168.5 354.7,167.7 353.8,168 352.8,168.5 352.6,168 352.7,167.4 352.7,166.4 351.4,166.5 350.3,167 349.8,166.8 348.6,167.5 347.9,167.4 347.1,167.5 346.3,167.6 346,167.3 345.6,167 344.6,167.2 344.3,166.9 343.3,167.2 342.1,167.9 341.8,167.5 340.9,167.7 340.8,167.2 340.1,167.2 339.5,166.9 339,166.5 339,165.8 339.1,165 338,165.1 336.3,165.9 335.3,165.9 335.2,165.1 335.2,164.6 334.6,164.3 333.2,164.9 332.6,164.7 331.1,165.4 329.4,166.4 329.4,165.7 328.3,165.8 328.3,166.4 327.9,167.2 327.9,167.8 327.5,168.7 328.9,167.9 329.6,168.1 330.5,168 331.4,167.9 331.8,168.5Z M334.5,161.3 334.9,161.8 334.3,162.9 334.4,163.5 334.7,164 336.1,163.9 338.1,162.6 339.6,162 341.3,161.3 342.4,160.9 343.4,160.6 343.9,160.7 344.4,160.9 345,161 346.1,160.6 347.2,160.1 348.4,159.6 350,158.7 350.9,157.6 351.6,157.9 353.4,156.7 352.4,157.4 351.3,158.1 350.3,158.5 349.2,159.1 349.2,158.6 348.4,158.8 347.6,158.9 347.2,158.8 348.2,158 348.9,157.2 348.8,156.9 348.2,156.8 348.9,155.8 348.8,155.1 347.6,155.6 346.7,155.8 346.2,156.5 344.9,157.5 343.8,158.2 342.7,158.6 342.9,158 341.7,158.4 340.8,158.3 340.1,158 339.7,157.9 339.6,157.5 340.8,156.7 341.1,156.1 339.5,157 338.5,158 337,158.7 336.3,158.5 335.8,159.3 335.8,159.7 334.2,160.9Z M318.4,175.6 319.3,175.2 320.4,174.6 321,174.7 321.2,175.1 321.4,176 322.8,175.8 323.6,175.7 324.2,175.7 325.3,175.1 326.3,174.5 328.2,173.6 329.6,173.4 330.5,172.1 331,171 331.6,169.8 330.6,169.7 328.9,170.4 328.7,169.7 328,169.3 327.4,168.9 325.5,170.2 323.7,171 322.8,171.3 321.6,172.1 320.6,172.9 319.5,173.4 319.6,174.2Z M304.4,176.6 303.4,178 303.9,178.7 305.1,178.5 306.5,178.2 307.3,178.2 308.2,178.1 307.9,179 307.1,180 309.1,178.7 311.2,177.3 312.9,176.3 314.6,175 316.3,174.2 317.6,173.9 317.1,173.6 317.1,173 317.6,172.1 317.8,171.5 316.6,172.1 315.5,172.5 314.3,173 313.3,173.3 312.8,173 311.5,173.5 311.1,173.1 311.6,172.2 310.6,172.4 309.2,173.2 307.8,174 307.1,173.9 306.1,175.2Z M304.1,183.1 305,183 305.7,183.1 306.6,183.3 308.1,182.1 308.8,182.2 308.4,183.2 309.3,183.3 308.8,184.3 310.4,183.9 312.3,182.5 312,181.8 311.5,181.3 311,181 311.7,180 310.7,180.7 309.7,181 308.5,181.7 307.7,181.8 307,181.7 306.2,181.8 305.1,182.5Z M318.6,196.4 319.7,196.1 320.9,195.3 321.1,196.1 322,196.2 323.1,196 323,197 323.4,197.5 323.5,198.2 323.9,198.8 324.3,199.3 325.4,199 326,199.4 327,199 328.1,198.4 329.1,198 330.2,197.4 331.8,195.9 333.5,194.5 332.7,194 332.3,193.3 330.9,193.3 331.1,192 329.7,192.5 328.9,192 328.1,191.6 326.6,192.1 325.6,192.4 324.8,192.6 324.4,192 323.8,191.8 323.3,193.3 322.8,194.8 321.6,195.4 320.5,196.2 319.3,196.7Z M310.6,168.2 312.8,167 312.7,168 314,167.5 314.9,167.5 315.8,167.5 316.3,167.9 316.5,168.5 317.2,168.6 318.7,168.3 319.6,168.7 321.2,168.2 323.2,167.2 323.7,166.2 325,164.9 326,163.6 325.2,163.4 323.8,163.7 321.8,164.7 321.8,164 321.6,163.3 319.8,164.1 317.8,165.1 317,165.2 316.1,165.5 314.9,166.2 313.9,166.7 312.4,166.9 312,166.3 310.8,167.4Z M279.4,166.3 280.5,166 281.7,165.6 282.2,165.8 283.5,165.4 284.9,164.8 286.5,164.1 288.1,163.2 289.7,162.3 290.2,162.5 290.5,162.7 290.4,163.2 289.3,164.2 289.1,164.7 288.8,165.3 288.1,166.1 287.6,166.8 287.5,167.3 287.5,167.7 288.7,167.3 289.9,166.8 292.3,165.7 294.5,164.9 295,164.2 294.8,163.9 294.4,163.8 293.2,164.3 292.2,164.1 292.7,163.1 292.1,162.8 290.4,163.4 290,162.9 288.1,163.6 287.2,163.5 286.1,163.6 284.2,164.3 282.6,164.7 281.1,165.2Z M357.1,242.6 358.1,243.4 357.8,245 359.3,243.4 360.3,244.4 361.5,243.6 362.4,244.1 363.6,243.8 364.3,244.7 365.1,243.7 366.2,243.6 367,243.8 367.9,243.8 367.6,245.3 368.6,245.8 369.6,245.4 370.6,245.6 371.4,244 372.6,242.6 373.4,241 372.3,240.3 372.3,239 372,237.9 371.2,236.8 369.7,236.8 368.7,235.9 367.3,235.9 366.5,234.9 367,233.2 368.1,231.9 369.5,231.3 368.6,231.3 367.6,231.8 366.8,231.7 365.9,231.8 364.9,233.1 364.5,234.6 363.4,235.6 362.4,236.8 361,238.1 360.7,239.9 359.4,239.8 358,240.6 358.1,241.7Z M201.8,233.3 202.3,233.9 202.5,234.7 201.3,236.1 200.6,237.4 201.6,237.5 203,236.7 204.5,236.3 204.2,237.6 205.5,238 206.8,238.3 207.9,239 207.8,240.6 208.9,239.6 209.4,238.5 207.9,238.5 207.6,237.2 206.8,236.4 207.4,234.7 206.7,234 205.2,234.3 204.5,233.7 204.2,232.7 203.3,232.4Z M198.7,223.8 198.4,224.8 198.9,225.4 199.2,226 199.2,226.9 199.6,227.8 198.5,229.5 198.1,228.7 198.5,227.5 199.9,226.1 201.3,224.6 200.9,223.9 200.2,223.5Z M160.1,214.7 160,215.9 161.5,215.7 163.5,214.9 164.9,214.7 166.1,213.7 167.2,212.8 165.2,213.5 165.1,212.5 163.8,213.1 162.4,214 161,214.7Z M143.8,198 145.6,197.7 146.8,197.9 147.1,198.6 148.3,198.8 149.8,198 148.9,197.9 149,197.3 147.7,197.5 147.4,197.2 146,197.2Z M141.7,206.7 141.7,207.3 142,207.8 143.4,207.4 144.3,207.5 145.4,206.4 144.9,205.9 143.6,206.1Z M347.2,235.9 348.1,237.1 349.1,238.1 350.1,237.5 351,237.2 351.7,237.6 352.2,238.2 353.1,237.6 352.2,237.1 350.9,237.6 349.9,237.2 349.4,236.2 348.1,236.6Z M344.2,245.6 345.7,245.7 347.1,245.9 347.8,247.3 349.3,247.3 348.7,246.8 348.6,245.9 347.4,246.1 346.3,246 345.2,245.9Z M275.3,319.6 276.5,318.9 277.8,318.5 279,319 280.3,318.7 281.1,317.2 282.7,316.6 283.4,314.7 284.6,315.3 285.9,316 287.1,315.8 288.1,316.3 289,317 289.5,318.1 291.2,318.2 291.6,320 293,320.4 294.5,319.9 295.6,320.6 296.7,321.3 297.8,321.9 298.9,322.6 300.1,322.7 300.5,324 301.5,324.2 302.5,324.6 301.5,324.7 300.9,325.8 299.9,325.9 299,325.6 297.6,325.8 296.2,325.5 294.7,325.8 293.3,325.8 294.2,324.3 295.4,323.2 294.5,322.6 293.6,321.9 292.7,321.4 291.8,320.8 290.5,320.6 289.2,320.3 288,319.6 286.8,319.3 285.8,318.8 284.8,319.1 283.5,319.4 283,318.1 282.1,319.5 280.7,319.5 279.4,319.4 278.2,319.3 276.8,318.7Z M301.4,330.3 302.4,331.3 303.6,331.7 305,331.1 306.3,330.7 307.4,331.9 308.8,332.2 309.8,333 311.1,332.3 311.9,331.2 312.9,330.4 314,330.7 315.1,330.3 316.2,330.3 317.2,329.5 317.1,328.4 317,327.3 316,326.9 315,327.4 313.6,326.5 312.1,325.9 311,326.2 309.9,326.8 309.1,326.1 308.2,325.6 307.2,325.9 306.3,326.3 305.4,326.1 304.5,325.9 304.8,327.6 306.1,328.3 306.7,329.5 305.7,328.3 304.1,328.9 302.9,330Z M290.9,330.4 291.4,331.3 292,332 293,331.5 293.9,331.9 295.2,332.7 296.5,331.6 295.4,331.1 294.6,330 293.4,329.6 292,329.8Z M88.4,328.3 89.3,328.6 90.3,328.5 91.1,327.7 91.9,326.8 92,325.6 91.6,324.6 90.4,325.6 89.5,324.6 88.7,325.3 88.2,326.4 88.3,327.3Z M117.1,226.1 119,224.7 120,224.9 119.4,225.9 119.3,226.7 121.7,225.3 123.9,224.4 122.5,224.8 122.4,224.1 120.9,225.1 119.4,226.1 118.3,226.1Z M481.3,277.8 482.8,277.5 484.1,278.3 485.6,278.6 486.9,279.8 488.5,279.3 489.9,279.3 491.2,280 492.6,279.5 493.5,278.1 494.8,278.1 496,277.5 497,277.5 498,277.1 498.9,276.4 499.7,275.7 500.7,276.1 501.7,275.6 502.6,275.3 503.5,274.8 504.7,274.3 505.9,273.8 507,274.8 508.4,274.8 509.8,273.6 510.6,271.8 512.1,272.9 513.4,274.2 514.6,273.8 515.9,274.2 517.1,273.7 518.3,273.6 519.5,273.9 520.5,273.3 522,272.9 523.3,273.9 522.9,275.1 522.1,276 522.4,277.8 522.7,278.9 523.5,279.6 522.5,279.9 521.9,280.9 521.9,282.3 521.1,283.2 522.5,283.6 523.7,284.4 525,285.6 526.1,285.3 527.2,285.8 528.4,285.5 529.3,286.5 530.6,286.7 531.9,287.2 533.1,287.7 534.4,288 534.8,289.4 535.3,290.7 536.6,291.4 537.9,291.7 539.2,291.9 540.5,292.5 541.7,293.1 542.9,292.5 544,293.2 544.9,294.3 546,293.4 546.8,292.2 547,290.6 546.9,288.9 548.1,289.9 549.2,288.8 549.8,287.7 550.3,286.5 551.2,287.2 552.3,287.4 553.3,287.5 554.4,287.4 555.5,288.5 556.5,289.8 557.9,289.2 559.4,290.1 560.7,289.7 562.1,289.6 563.3,290.5 564.5,291.3 565.8,291.7 567.1,291.9 568.4,292.4 569.7,292.5 571.1,292.2 572.2,291.3 573.5,291.4 574.6,290.7 575.3,289.7 576.4,289.2 577.3,290.1 578,291.3 578.6,293.3 579,295.4 579,296.9 579.6,298.2 580.8,299.7 581.9,301.2 582,302.6 582.9,303.6 583.8,305.5 584.9,307.3 584.9,309.1 585.5,310.8 586.6,312.1 587.9,313.3 588.4,314.7 588.4,316.3 588.9,317.5 590,318 590.6,319.5 591.9,319.3 592.3,320.8 592.9,322.3 593.2,323.3 593.6,324.4 593.4,325.4 593.4,326.5 594.2,327.8 595,329 595.5,330.5 596.8,331.3 597.7,333.1 598,335.1 599,336.7 599.8,338.6 600.9,339.1 601.8,340.3 602.5,341.6 603.9,341.9 605.1,343 606.7,343.2 607,344.9 608,346.4 609.3,346.6 610.2,347.6 610.1,349.1 609.8,350.6 610.6,351.3 610.9,352.3 611.3,353.4 612.3,353.9 613.6,353.6 614.9,354.2 615.8,352.4 616.6,350.6 618.4,351.3 620.1,352.1 621.4,351.4 622.8,351.9 624,351 625.4,351.5 627,351.4 628.3,350.4 629.8,349.9 631.4,349.8 630.9,350.9 631.2,352 631.8,353.2 631,354.2 631,355.5 630,356.2 629.2,357.1 629.6,358.4 629,359.6 629.2,360.9 628.8,362.2 627.9,362.9 626.8,363.9 627.2,365.4 626,365.9 625.9,367.4 624.7,368 624.1,369.3 624.2,370.8 623.3,372 623,373 622.7,374.1 622.4,375.3 621.4,375.7 620.9,376.8 619.9,377.1 618.9,377.4 618.1,378 617.5,379.2 616.3,379.5 615.8,380.7 614.9,381.6 614.1,382.6 612.8,382.5 611.1,382 610.2,383.8 609.7,385.3 608.9,386.7 608.3,387.9 607.9,389.1 607.1,390.1 606.2,390.9 605.5,391.9 605.1,393.1 604.1,393.7 603,393.6 603.5,395 602.5,396 602.2,397.3 601.1,397.8 600.5,399.2 600,400.5 599.4,402.4 598.8,404.2 599.5,405.1 600.1,406 599.5,407.2 599.6,408.6 599.6,410.1 600.5,411.1 601.2,412 601.5,413.2 601.5,414.5 600.9,415.6 601.9,416.7 603,417.7 603.6,419.1 602.9,420.4 603.6,421.8 602.8,423.1 603.6,424.4 603.7,426 602.4,427.5 603.3,429.1 603,430.6 601.9,432 601.8,433.8 600.3,434.4 599.6,436.1 597.9,436 597,437.7 595.3,437.1 594.2,438.8 593.8,440 592.8,440.8 591.7,441.2 590.9,442.1 590.2,443.2 589.1,443.7 588.3,445 587.1,445.1 586.1,446.8 586.6,448.7 587,450.4 588,451.7 588.4,453 587.9,454.4 588.1,455.8 588,457.1 587.6,458.2 586.8,458.9 586.2,459.8 585.2,460.1 584.1,460.4 583.3,461.5 582.3,461.6 581.2,461.6 580.5,462.5 580.1,463.4 580.1,465.2 580.6,466.8 579.9,468 579.7,469.4 579.3,470.8 578.9,472.2 578.4,473.8 577,473.8 575.9,474.4 575.1,475.5 574.1,476.2 573.5,477.5 572.8,478.6 572.2,479.7 570.9,480.6 570.2,482.2 569.3,483.5 568,484.2 566.4,484.8 564.8,484.4 563.1,485.1 561.5,485.9 560.6,487.8 559.2,487.6 557.8,487.6 556.4,488.1 555,488.1 554.1,487.8 553.2,487.3 552.4,488.3 551.3,488.4 550,489.4 548.9,490.7 547.7,489.8 546.1,490.2 545.1,490.1 544.4,489.2 543.4,489.3 542.4,488.9 542.4,487.4 542.9,486.1 542.3,484.9 541.5,483.9 541.7,482 542.4,480.3 541.9,479.1 541,478.3 540.5,477.1 540.1,475.8 538.9,475.4 538.5,474.1 538.6,472.8 538.2,471.6 537.2,470.4 536.4,468.9 535.9,467.3 535.1,465.9 534.7,463.8 534.3,461.8 533.6,461 533.7,459.8 534.1,458.7 533.5,457.7 533.1,456.1 533.6,454.4 533.1,452.8 533.3,451 532.2,449.9 531.2,448.7 530.6,447.2 529.8,445.8 530,443.8 528.7,442.7 528.2,441.4 527.8,440.1 527,439 526.9,437.6 527.6,436.6 527.6,435.3 527,434.3 527,433 526.4,431.1 526.5,429.1 527.6,427.5 528.9,426.1 530.2,424.9 531.3,423.4 531.7,422.2 531.5,420.9 531.9,419.7 532.4,418.6 533.1,416.7 532,415.2 531.3,413.7 530.9,412 530.7,410.5 531.6,409.4 531.7,408.1 532.2,406.9 532.6,405.1 531.3,403.9 529.9,404.3 528.6,403.6 528.8,401.8 527.8,400.5 526.8,400.1 525.7,399.7 525.6,398.4 525.2,397.2 524,396.2 522.5,396.1 523.3,394.2 521.7,393 520.8,391.7 521,390 520.5,388.3 519.1,387.6 520.1,385.9 521.2,384.3 521.9,383.3 521.5,382.2 521,381.1 521.1,380 521.2,378.8 522,378 521.8,376 521.7,374.1 520.4,373.3 519.6,372 518,371.7 517.3,372.4 516.4,372.9 515.5,372.4 514.6,372.3 513.3,372.1 512.2,372.6 511.1,371.6 510.9,370.1 510.1,369 509.3,368 508.3,367.4 507.7,366.4 506.3,367 505,366.2 503.7,365.9 502.4,365.4 501.1,365.9 500,366.8 498.7,367.7 497.1,368.4 495.5,368.8 494.7,370.3 493.3,371 491.9,371.5 490.4,371.2 489.4,370.6 488.5,371.2 487.7,370.4 486.7,370.2 485.4,370.8 484,370.6 482.7,370.5 481.4,369.9 480.5,371.6 478.7,371.7 477.1,371.8 475.6,372.4 474.5,373.3 473.1,373.1 472.9,371.7 472.1,370.5 470.6,370.1 469.1,369.5 468.5,367.8 467.4,366.5 466.5,365.6 465.5,364.7 464,364.3 462.9,362.9 463.5,361.8 463,360.7 461.8,360.8 461.1,359.9 459.4,359 459.8,356.9 459.5,355.6 458.9,354.4 457.6,354.3 456.9,353 455.7,353.1 455,351.9 454.1,351.2 453.8,350 452.9,349 452,348.2 450.9,346.6 451.7,344.9 451.2,343.4 450.6,342.3 450,341.3 451,340.6 451.9,339.8 451.8,338.4 452.7,337.3 453.4,335.9 454.3,334.6 453.8,333 454.1,331.3 454.1,330.2 453.5,329.2 452.8,328.3 452.9,327.1 452.7,326 452.7,324.8 452.3,323.8 451.6,322.9 451,321.7 451.6,320.5 452.5,319.7 452.8,318.4 453.3,317.4 453.5,316.2 454,315.2 454.5,314.2 455.2,313.4 455.5,312.3 456.1,311.5 456.5,310.5 457.3,309.9 457.8,308.9 458.1,307.8 458.6,307 459.7,306.7 460.7,307.3 461.5,306.4 462.5,306.1 462.3,304.9 461.9,303.7 462.1,302.4 462.9,301.5 464.5,301.2 465.1,299.3 466.5,299.8 467.9,298.8 468.7,298.1 469.1,296.9 470.1,296.5 471,295.8 471.6,294 471.2,292.4 471.1,290.7 471.7,289.1 472.7,287.9 473.4,286.3 474.6,285.3 475.7,284.9 476.9,284.4 477.8,283.5 478.9,283.2 479.3,282.1 480.1,281.5 480.5,280.5 481,279.6Z M626.1,421.6 626.1,423 626.7,424.2 627.4,425.2 628.2,426.1 628,428 628,429.8 627.8,431.7 628.6,433.4 627.7,433.3 626.7,433.7 626,435 625.7,436.6 625.8,438.1 625.3,439.7 624.2,440.7 624.8,441.9 624,442.7 623,443.1 622.6,444.1 622.3,445.1 622.1,446.2 622.4,447.2 621.7,449.2 620.3,450.7 620.8,451.6 620.7,452.7 620.4,453.7 620,454.7 618.6,455.8 617.5,457.1 618.2,458.9 617.4,460.7 616.2,461.6 614.8,461.3 613.6,462 612.4,462.5 611,461.6 609.7,460.7 608.9,459.7 608.3,458.5 608.9,457.2 609.3,455.8 609.3,454.7 608.9,453.8 608.6,452.8 608.5,451.7 609.2,450.3 609.3,448.6 610.3,447.5 611.5,446.6 611,445.3 611.3,443.9 611.3,442.5 611.1,441.2 611.5,440.1 611.6,438.9 611.3,437.8 611.3,436.7 612,435.5 612.5,434.3 613.9,434.2 615.2,434.2 616.4,433.6 617.6,432.7 618.7,431.9 619.4,430.4 620.3,429.1 621.8,429.1 622.8,427.8 623.2,426.1 624,425 624.6,423.8 625.3,422.7Z M482.7,276.9 481.5,276.4 480.3,275.7 478.7,275.1 477.6,273.6 476.8,274.2 475.8,274.1 474.9,273.6 473.9,274.2 474.2,273.1 474.4,272.1 474.1,271.1 474.3,270 473.3,269.6 472.6,268.8 472.8,267.4 472.5,266.2 472.9,264.7 474.2,264.6 474.5,263.1 474.8,261.6 474.6,260.2 474.5,258.9 474.4,257.4 473.6,256.2 474.5,255.4 475.4,254.6 476.7,255.1 477.5,253.8 478.6,254.4 479.7,254.9 480.9,254.7 482.1,254.3 483.2,255 484.4,255.6 485.5,254.7 486.9,254.7 488.1,254 489.4,253.3 490.7,253.9 491.7,255 492.3,253.2 493.1,251.5 493.7,250 493.4,248.5 493.2,246.7 493,245.6 492.4,244.8 491.7,244 490.8,243.8 489.8,243.5 489,242.6 488,242 487.6,240.7 486.6,241.3 485.7,242 485.3,241.1 484.8,240.3 485.9,240 486.9,239.2 487.9,239 489,239 490,238.8 490.8,238.2 491.6,238.8 492.3,239.5 491.3,238.3 491.5,236.5 492.3,237 493.2,237.4 494.7,237.5 496.2,237.1 497.2,236.9 497.7,235.8 498.7,236.4 499.5,235.3 499.5,234.1 499.9,233 500.7,232.5 501.6,232.2 502.4,232 503.3,231.7 504.7,231.4 505.3,229.8 505.5,228.1 506.6,227.2 507.5,226.6 508.4,226.1 509.2,226.5 510.1,226.5 510.8,225.7 511.7,225.8 512.3,224.8 513.2,224.5 514.1,225.2 515.1,225.2 515.2,224.1 515.2,222.8 515.3,221.5 514.3,220.9 513.9,219.5 514.1,218 513.7,216.4 514.7,215.3 515.9,215.2 517.1,215.3 518.2,214.7 519,213.5 519.5,215.3 519,217 519.9,217.5 519,217.9 518.5,218.9 518.2,220.1 517.7,221.2 518.5,222.9 519.5,223.4 520.4,224.2 521.7,223.8 523,223.5 523.8,222.8 524.7,223.5 525.6,223.2 526,222.2 526.9,223.4 528,224.4 528.8,222.9 529.8,221.7 530.5,221.3 531.3,221.4 532.2,221.5 532.7,222.5 533.2,220.8 534.6,220.8 535.8,221.6 537.1,221.8 537.7,223.1 538.7,222.6 539.9,222.8 540.4,221.4 541.4,220.5 542.7,220.4 542.5,219.2 542.1,217.4 541.8,215.6 542.1,214.7 542.7,214.2 543.8,213.7 545,213.6 546.4,214 547.2,215.6 548.5,215.6 548.7,214.2 548.7,212.8 547.5,212.1 546.5,211.1 546.2,209.4 547.4,208.9 548.7,208.7 549.9,209.2 550.9,210.2 552,209.6 552.4,208.3 553.2,208.4 554,208.3 554.8,208.6 555.7,208.6 556.4,207.5 557.7,207.5 558.8,207.2 560.1,207.5 559.3,206.6 558.4,205.9 557.5,206.2 556.5,205.6 555.3,205.5 554.3,206.1 553.2,206.4 552,206.1 551.3,206.5 550.7,207.1 549.8,207.1 548.9,206.8 548.4,208.1 547,207.7 546,207.8 544.8,207.6 543.9,207.8 542.9,207.2 542.2,206.3 541.3,205.6 540.4,204.5 540.5,203.1 540.8,201.8 540.5,200.4 540.4,198.8 541.6,198.4 542.7,198.1 542.9,196.5 543.8,195.6 545.2,196.2 545.5,194.5 546.4,194.3 547.2,193.7 546.4,194 545.5,193.6 544.4,193 544.2,191.6 543.1,190.8 542.2,191.4 541.3,191.7 540.5,192.1 540,192.8 539.5,193.3 538.7,193.7 538.5,194.8 538.3,196.1 537.5,196.9 537.1,198.2 536.3,199 535.3,199.5 534.2,199.6 533.1,200.2 531.8,200.7 531.9,201.8 532.1,203 532,204.1 532.2,205.3 533,206.1 533.9,206.6 534.8,206 535.7,207.2 535,208 535.1,209.1 534.7,210.1 534,210.4 533.1,210.4 532.5,211.1 532.4,212.8 531.8,214.2 532.1,215.5 531.9,216.7 531.4,217.5 530.7,218.1 529.8,218.6 528.8,218.5 528.2,219.5 527.4,220.1 526,219.9 524.7,220.1 523.9,218.4 523.2,217.2 523.3,215.8 522.2,215 521.8,213.6 520.9,213.2 520.2,212.4 520.1,211.3 520,210.3 519.6,208.7 518.7,207.5 518,208 517.5,208.8 516.8,209.4 516.4,210.3 515.6,210.9 514.9,211.5 514.2,212.3 513.3,212.5 512.2,212.7 511.1,212.8 510.6,211.7 509.6,211.4 508.9,210.7 508,210.3 507.1,209.6 507,208.3 507.3,207 506.6,206.1 506.2,204.6 506.2,203.1 506.2,202.1 506.6,201.2 507.4,201 508.2,200.9 508.5,199.8 509.4,199.6 510.3,198.8 511.2,197.9 512.3,197.9 513.4,197.7 514.3,196.7 515.4,197.2 516.3,196.7 516.8,195.6 517.4,194.8 518.2,194.2 518.9,193.4 519.5,192.5 519.8,191.1 521,191.1 522.1,190.8 522.8,189.7 523.6,188.6 524.3,187.7 524.4,186.7 524.9,186.1 525.7,186 526.2,185.4 527.2,185.1 528.1,184.6 529,184.1 529.8,183.3 530.6,182.6 531.7,183.4 531.7,182.1 532.3,181.3 532.7,180.2 533.6,180.1 533.6,179 533.8,178 534.6,178.5 535.3,179.4 536.1,179.9 536.9,180.3 537.8,179.5 539,179.8 539.7,180 540.4,180.5 540.4,179.6 540.8,179 541.5,178.2 542.4,177.6 543.5,177.7 544.6,178 545.4,177.2 546.6,177.7 547.7,178.5 548.8,178.3 549.9,178.5 551,178.8 551,177.6 551.6,176.7 552.6,177.2 553.5,177.8 553.8,179.4 555.1,179.8 554.6,181.1 553.5,181.5 554.4,182.2 555,181.6 555.7,181.3 556.4,181.1 557.3,181.6 558,182.5 559,183 559.7,182.5 560.3,182.3 561.1,182.5 561.9,182.9 562.7,183.4 562.9,182.4 563.8,182.6 564.7,183.4 565.4,183.1 566.7,183.8 567.6,183.3 568.9,183.7 569.9,185.2 571,185.5 572,185.3 573,185.4 574.2,186.1 575,186.6 575.9,187.3 576.7,187.8 577.6,188.4 577.1,188.9 576.5,189.2 576.6,190.4 575.6,190.3 574.8,190.6 573.8,190.6 573.8,192 572.6,191.9 571.7,192.1 570.6,192 569.4,191.8 568.6,190.3 567.3,190.2 566.1,190.2 564.7,189.3 563.4,189.2 562.5,189.1 561.6,189 560.8,188.4 559.9,188.1 560.6,188.1 561.4,188.8 561.8,189.8 562.7,190.3 563.3,190 563.7,189.4 564.2,190.3 564.9,191 565.5,192.4 566.2,193.7 566.6,195 567.8,194.9 569,195.8 570.3,196 571.5,196.6 572.6,196.4 573.7,196.6 572.7,195.1 572.6,193.5 571.4,193.5 570.2,193.4 571.2,194 572.3,194.6 573.3,195 574.4,195.4 575.3,195.3 576,194.7 576.9,194.3 578.1,194.9 577.4,194 577.4,193 576.7,192.3 576,191.6 577.2,191.7 577.6,190.6 578.2,189.7 579.5,190 580.4,189.3 581.7,189.7 582.9,191.3 584.2,191.1 583.7,190 583.7,189 583,188.1 582.4,187.2 581.3,185.6 580,184.3 581.4,184.8 582.8,185 583.7,185.6 584.5,186 585.1,185.6 585.5,185.1 586.4,186.4 587.7,187.3 588.8,188.4 589.4,187.6 590.2,186.9 590.1,185.7 589.9,184.5 590.6,184.1 591.2,183.5 592.4,183.9 593.4,185.2 594.4,185.3 595.1,184.8 595.8,184.7 596.7,185 597.4,185 598,184.7 598.9,185.1 599.7,185.3 600.4,185.3 601.1,185.1 602,185.1 602,184.1 602.4,183.6 602.9,183.1 603.9,184.1 605,184.6 605.7,184.4 606.6,184.3 607.6,184 609.1,184.5 610.5,184.9 611.5,184.6 612.2,184 612.8,183.3 612.6,182.4 611.9,181.5 613,182.1 614,182.4 615.2,182.9 616.3,183.8 617.6,184.3 617.9,183.4 618.5,182.9 619.1,182.5 619.5,181.5 620.7,181.6 622.1,182.8 623.6,183.6 624.7,183.6 626.1,184.6 626.7,184.4 627.4,184.3 628.1,184.1 628.4,183.6 627.1,182.4 626.5,183 625.5,182.5 624.5,181.8 623.5,180.8 622.6,179.5 622.3,178.3 623.3,178.2 622.7,176.8 623.3,176.5 623.6,175.8 622.8,174.5 623,173.6 623.5,173 624.2,172.7 624.7,172.5 625.6,172.8 625.8,172.3 626,171.7 626.9,172.1 627.8,172.8 628.7,173.4 629.6,173.9 631.2,175.4 632.4,177.1 631.9,177.5 632.4,178.6 633.1,179.7 633.8,180.8 635.4,181.8 636.9,183.3 638.1,183.9 638.9,185 639.9,186.1 640.3,187.2 639.3,187.2 638.3,187.4 637.8,188.1 637.6,189.2 639,189.9 640.1,190 641.1,190.3 642,190.5 642.9,190.6 644,191 643.9,190 642.9,188.8 642.6,187.8 642.5,186.9 641.7,186 640.9,185.1 640.4,184.1 639.5,183.3 638.2,181.9 636.7,181.1 636.3,179.7 635,178.3 634.4,177.1 634.1,176 634.2,175.1 634.8,174.6 635.3,174.1 636.1,173.7 637.2,173.7 638.8,175.1 638.8,174.3 639.1,173.7 640.3,174.4 641.4,174.8 641.8,176.3 642,177.5 642.5,177.3 643.6,177.8 643.3,176.9 644,176.7 645,177.2 645.9,177.3 646.2,176.8 645.9,175.8 647.2,176.2 648.6,176.7 650.2,177.8 651.6,178.3 653,179.3 654.4,180 653.8,179.1 653.9,178.5 653,177.7 652.3,176.8 651.3,176.6 650.3,176.1 649.2,175.6 648.1,175.1 646.6,173.9 645.3,172.6 643.9,172.1 643,172.2 643,171.3 642.7,170.2 644.1,170.7 645.6,171.6 646.2,171.3 647.2,171.5 648.1,171.7 648.7,171.5 650.1,172.1 651,172 652.3,172.7 653.7,173.4 653,172.2 652.1,171 652.1,170.2 652.7,169.8 651.5,168.6 653,169.6 654.3,170.2 655,170 655.5,169.6 655.6,169.1 655.8,168.6 655.8,168 655.5,167.2 656.3,167.3 657.4,167.7 657.3,167.1 658,167 659.1,167.6 660.3,168.5 661.4,168.9 662.5,169.5 663.2,169.6 663.7,169.4 664.4,169.3 664.2,168.7 664.8,168.5 664.8,167.9 664.1,167 663,166.1 664.3,166.6 665.7,167.6 666.8,167.8 666,166.7 666.8,166.3 668.7,167.1 668.5,166.5 668.1,165.8 668.1,165.4 667.9,164.8 666.9,163.7 667.7,163.5 669.2,164.4 670.7,165.1 670.7,164.4 671.7,164.3 672,164.1 673.3,164.6 672.6,163.8 671.5,162.9 672.6,162.9 672.7,162.3 674.1,162.6 674.8,162.4 676,163 677,163.4 677.4,163.1 678.3,163.3 679.3,163.7 680.4,164.1 681.8,164.7 681.5,164 682.9,164.4 684.1,164.7 686.2,165.6 686.4,165 686.9,164.7 686.9,164.1 687.6,163.9 689.5,164.8 689.8,164.3 691.7,165.1 692.7,165.3 694.1,165.9 695.1,166.1 696.5,166.8 697.1,167.5 697,168 698.2,168.9 699.5,169.8 700.2,171 699.1,170.9 699.6,171.9 699.5,172.6 699.4,173.1 698.7,173.1 699.1,173.9 699.6,174.7 698.5,174.1 697.3,173.4 696.2,172.9 695,172.2 693.8,172 693.3,172.3 692.7,172.5 692.2,172.9 692.9,172.9 693.6,172.9 694.4,172.9 693.8,172 693.8,171.4 693.9,170.9 694.9,171.1 695.8,171.2 696.1,170.9 697.5,171.5 698.3,171.7 699,171.7 699.1,171.3 699.5,171 700.5,171.2 701.5,171.5 703,172 703.9,171.9 704.4,171.6 705.6,171.7 706.5,171.6 707.1,171.2 708.9,172 710.1,172 711.3,172.2 712.4,172.2 713.5,172.7 714.7,173.4 716.5,174 718.5,175.1 718.9,174.5 719.2,173.9 718.9,173 719.1,172.5 719.5,172.1 720.3,171.9 721.7,172.4 723,172.9 723,172.2 724.2,172.5 726.2,173.4 726.1,172.7 725.7,171.8 726,171.5 727.9,172.2 729,172.6 730.2,173.1 731.5,173.8 732.8,174.4 732.7,173.9 732.9,173.5 733.9,173.8 734.7,173.9 735.8,175.3 737.2,176.8 737.6,176.2 739,176.3 741.3,177.5 743.6,178.8 743.9,178.3 744.8,178.3 744.4,177.5 744.2,176.9 744.6,176.6 745.1,176.1 743.5,174.5 744,174 745.9,174.7 748.3,175.9 750.6,177.3 751.5,177 752.7,177.1 754.3,177.8 754.2,177.1 753.9,176.5 753.6,175.9 753.8,175.2 753.8,174.4 754,174.1 753.5,173.4 754.6,173.7 755.2,173.6 756.7,174.6 758.1,175.1 758.8,175 760.3,175.7 761.3,175.9 761.8,175.8 762.1,175.5 762.5,175.3 761.9,174.2 762.9,174 765.2,174.8 766.5,174.8 767.6,175 768.4,175 769.9,175.5 771.1,175.9 772.4,176.1 773.9,176.6 775,176.8 774.4,175.8 775.9,176.7 777.1,177.1 778.7,177.3 779.2,176.8 781.9,178 783.5,178.3 785.1,178.9 785.9,178.8 787.4,179.3 788,179.1 789.9,179.8 790.1,179.3 789.2,178.3 789.8,178 789.3,177.3 790.1,177.3 790.1,176.8 791.8,177.4 793,177.7 794.3,178.2 795.7,178.7 796.9,179 798.4,179.9 799.9,180.5 801.1,180.9 802.7,181.7 802.3,181 803.4,181.2 804.5,181.4 806,182 807.4,182.6 808.6,183 809.8,183.4 810.4,183.3 810.2,182.4 810.1,181.5 811.2,181.7 810.2,180.6 809.2,179.6 810.5,179.9 812.1,180.5 813.6,181.1 814.8,181.3 816.2,181.8 817.3,182 817.8,181.8 816.9,180.9 817.9,181 819.3,181.4 821.1,182.2 822.5,182.6 824.2,183.3 821.9,181.7 821,180.5 823.1,181.4 822.5,180.6 824.2,181.5 825.9,182.3 826.3,181.7 826.5,181 827.6,181.3 829,181.7 831.1,182.7 831.1,182.1 832,182.2 833.1,182.4 832.9,181.8 832.7,181.3 834.6,181.7 837.4,182.9 838.9,183 839.4,182.5 840.6,182.9 841.7,183.1 842.4,183 843.9,183.6 846.2,185.1 848.2,186.3 848.9,187.1 850.8,188.6 852.9,189.9 854.9,191.2 857.1,192.3 859.1,193.7 857.8,193.6 858.3,194.5 857.5,194.5 857.2,194.8 856.3,194.8 855.2,194.5 856.8,195.1 858.4,196.2 859,196.1 859.7,196 862.5,197.6 865.3,199 866.1,199.9 867.6,200.9 865.6,200.3 864.8,200.6 863.1,200.2 860.8,199.3 862.3,200.8 861.9,201.4 860.5,201.3 860.7,202.3 860.7,203.1 859.9,203.6 858.8,203.3 857.8,203.1 858.3,203.9 858.3,204.5 857.7,205 857.2,205.5 856.6,206.1 857.5,207.5 855.8,207.1 854.1,206.7 852.7,206.7 850.6,205.8 848.9,205.3 847.9,205.5 848.1,206.4 848,207.2 847.7,207.6 848,208.4 846.7,208.1 845.5,207.8 845.4,208.4 846.7,209.7 846.3,210.2 847.2,211.4 848.1,212.8 849.6,214 850.5,215.2 851.5,216.4 852.4,217.5 853.9,218.3 854.2,217.8 854.7,218.9 854.2,219.3 854.2,220.1 854.8,221.2 856.4,222.4 856,222.7 854.6,222.1 853.7,222.1 853.2,222.3 854.2,223.4 854.2,224.1 854.7,225 855.7,226.1 855,226.8 853.7,226.9 854.1,228.2 855.5,229.8 855.6,230.8 855.5,231.6 855.9,232.9 854.8,233 853.2,232.4 851.5,231.2 850.1,229.8 849,228.4 847.3,226.9 846.1,225.4 844.3,223.9 842.5,222.6 841.1,221.2 839.4,219.8 837.4,218.2 836.9,217 837.6,216.7 837.6,215.9 835.6,214.4 835.3,213.3 835.1,212.1 834.2,210.6 835.6,210.5 836.4,210 837.1,209.8 837.5,209.5 838.2,209.3 838.6,208.9 838.2,208 839.4,208.1 839,207.2 838,206.1 838.3,205.6 838.5,205.2 837.8,204.2 836.7,203.1 836.9,202.4 837.7,202.1 838.3,201.6 837.5,200.4 837.6,200.9 837.8,201.5 837.2,201.7 836,201.3 834.8,201.5 835,202.6 835.4,203.7 833.8,203.3 832.3,203 830.5,202.3 830.1,202.8 829.4,203.1 827.2,202.4 826.9,203.2 825,202.7 823.5,202.6 824.2,203.9 824.5,205.2 823.3,204.9 823.1,205.5 824.7,206.7 825.3,207.8 827.2,209.4 825.7,208.5 824.6,208.2 823.5,207.9 822.8,208 823.6,209 823.7,209.7 823.3,210 822.4,210 820.7,208.9 819.4,208.7 818,208.4 817.2,208.5 816.4,208.6 815.6,208.8 814.3,208.5 812.9,208 812.2,208.3 812.2,208.9 812.6,209.8 812,210.1 811,210 809.8,209.6 808.5,209.1 807.4,208.9 806.6,208.9 805.4,208.4 805.4,209 804.6,209.1 804.3,209.5 803.4,209.4 802.1,208.7 801.5,209 801.6,209.8 801.6,210.5 802.4,211.5 802.7,212.4 802,212.6 800.5,212 798.9,211.5 799.5,212.8 800.6,214 800.6,214.7 799.7,214.7 798.9,214.8 798.2,215 799.2,216.2 799.4,217 798.7,217.1 798.6,218 799.5,219.4 799.8,220.5 800.3,221.8 801.9,222.7 803.4,224.1 805,224.6 806,224.5 807.2,224.6 808.2,224.4 809,224.1 810.9,225.2 812.7,226.5 814.4,228.2 816.2,229.8 816.1,230.6 816.4,231.7 817.7,232.9 818.7,234.2 819.1,235.2 819.2,236.2 820.2,237.5 821.6,238.5 821.8,239.5 821.9,240.4 823.1,241.6 823.8,242.8 823.8,243.7 822.8,243.7 822.2,244.1 821.6,244.4 820.8,244.5 820.6,245.3 820.2,245.9 819.5,246.1 819.3,246.9 819.4,247.9 820.3,249.1 820.9,250.3 820.6,250.9 820.2,251.5 820.1,252.3 820.4,253.3 820.4,254.7 819.8,255.6 819.3,256.8 817.6,256.5 816.4,256.8 814.9,256.3 813.4,255.9 811.8,256 811.9,257.7 812,258.3 812,259.9 811.2,260.7 811.9,262.5 811.1,263.4 811,265 810,265.8 808.4,265.8 809.3,267.6 811.1,268.6 813,270 814.1,271.1 814.8,272.5 816,273.2 817.2,274.2 817.3,275.7 818.6,277.2 818.5,278.4 819.1,279.9 817.4,279.6 816.7,280.8 816.6,282.1 815.6,282.7 814.2,282.2 812.8,281.7 811.8,279.9 811.9,278.4 811,276.7 810.4,275.1 810.3,274 809.6,272.8 808.9,273.4 807.6,272.8 806.4,272.2 805.2,271.8 804.5,270.5 804.5,269.4 803.4,267.6 801.8,266.4 800.5,265.2 799.5,265.3 799.4,266.3 798.6,266.4 797.8,266.7 796.9,266.8 796.4,267.4 795.6,267.7 795.2,268.5 795.3,266.9 794.1,265.2 794,264.2 794.1,263.4 792.9,264 790.9,262.8 790.3,263.4 789.4,263.6 789.3,264.7 788.9,265.5 788.6,266.5 788.2,267.5 787.3,268.1 785.9,267.6 785.6,268.5 787.1,270.2 788.8,271.2 790.6,272.4 791.1,273.6 792.5,273.9 793.5,274 794.4,273.7 793.9,272.4 794.5,271.8 795.5,271.8 796.5,272.4 798.4,273.1 800,273 800.2,274.5 800,276 799.5,277.5 798.7,277.7 798,278 797,277.5 796,276.9 795.8,277.8 795.4,278.5 795,279.4 794.7,280.2 794.6,280.8 795.8,281 796.6,282.3 797.6,282.9 798.6,283.8 799,284.9 799.6,286 800.6,286.4 801.5,287.4 802.4,288.2 803.1,289.2 804,289.9 805,290.1 805.1,291.3 805.9,292.5 805,293.7 803.7,294.3 805.2,294.3 806.9,295.5 806.3,296.5 806.6,297.8 807,299.1 807.6,300.3 807.1,301.7 805.5,301.2 804.5,302.2 804.2,303.8 805,304.8 805.6,305.9 805.2,306.8 804.3,307.3 804.1,309.1 804.6,311.1 802.9,310.9 801.5,311.8 800.3,312.7 798.6,312 798.9,313.8 798.6,315.4 797.7,315.3 796.8,315.5 796.3,316.3 795.6,316.9 794.6,316.9 793.6,316.6 793.3,317.6 792.7,318.4 791.8,318.7 790.9,318.7 790,319.4 788.9,319.8 788,320.3 786.8,320.5 786.3,321.5 785.3,321.5 784.3,321.5 783.4,321.7 783.2,323.1 783.3,324.6 782.4,323.5 781.6,322.3 780.9,321.3 779.8,320.8 778.3,320.3 776.9,320.5 775.8,320.5 774.7,320.5 774.4,321.7 773.9,322.8 773.2,324.4 772.3,325.9 773.1,326.8 773.6,327.8 773,328.6 772.3,329.2 773.5,329.2 774.4,330.4 774.8,331.6 775.2,332.8 775.4,334.1 776.5,334.7 777.3,335.4 778.3,335.8 779.3,336.1 780,337.1 781.5,338.5 782.6,340.4 783.2,342.2 783.5,344.1 784.5,345.9 784.2,347.9 785,349.3 784.2,350.6 782.8,351.4 781.5,352.7 780.4,353.8 779,354.4 778.9,356.1 777.6,356.9 776.2,357.1 774.8,356.6 773.8,357.9 773.9,359.6 773.3,358.4 774,357.5 773.8,356.4 773.3,355.4 772.1,354.2 770.8,354 769.4,353.6 768.9,351.9 767.9,350.6 766.9,349.7 765.9,348.8 764.3,348.5 763.1,347.3 762.8,346 761.8,345.2 760.7,344.9 759.5,345.8 759.5,347.6 759.6,349.3 758.8,350.7 758.1,352.2 758.1,353.9 757.9,355.3 759.1,355.8 758.9,356.8 758.7,357.8 759.8,358.9 760.7,360.2 761.4,362.1 762.5,363.8 763.2,364.6 763.9,365.4 764.8,365.9 765.8,366.2 767,367 768.2,368.3 769.4,369.5 768.9,370.7 769.5,371.9 770.1,372.9 770.3,374.1 770.9,375.2 770.6,376.3 771,377.4 771.7,378.3 772.8,379.6 772.9,381.4 772,381.3 771.1,381.6 769.8,381.1 768.5,381.6 768.4,380 767.4,378.9 766.1,378 765.1,376.5 764.3,375.9 763.8,374.8 763,374 762.9,372.9 761.8,371.2 761.9,369.2 761.5,367.8 761.3,366.2 760.1,364.7 758.8,364.8 757.5,364.4 756.5,363.3 756.2,361.7 756.4,360.5 756,359.3 756.7,357.5 756.6,355.5 755.9,354.5 755.6,353.2 756.2,352.2 756,350.9 756.2,349.5 756,348 755.1,347 755.2,345.6 754.5,344.4 754.5,343.1 753.1,341.7 752.2,339.8 752.4,337.9 752,335.8 750.6,335 749.9,333.4 749.1,334.4 748.6,335.5 747.9,337.3 746.6,338.3 744.9,337.9 743.3,337.3 743.4,336.2 743.5,335.1 744.1,334.1 743.5,332.8 743.5,330.8 742.5,328.9 741.4,327.2 740,325.9 738.2,324.9 737,324.7 736.3,323.5 735.6,322.3 735.3,321.1 735.2,319.7 734.5,318.4 733,317.6 731.5,317.8 730.7,318.9 729.4,318.7 728,318.8 727.5,320.2 726.2,320.4 724.9,320.2 723.5,320.3 722.3,320.8 722.2,321.8 722.3,322.9 722,324.4 721,325.3 719.9,325.9 718.8,326.8 717.7,327.6 716.8,328.7 716.2,330.2 715.2,331.3 714.1,332.2 712.9,333.4 711.6,334.5 710.1,335.4 709,336.7 708.1,338 707,338.9 707,340.5 705.6,340.9 706.8,341.8 706.9,343.4 707.1,344.8 707.6,346.1 706.7,347.7 706.7,349.7 706.2,350.9 705.7,352.1 706.6,353.1 707,354.5 706.3,356.3 704.9,357.5 704.3,359 702.8,359 702,360.1 701.3,361.2 700.1,359.8 698.7,358.7 697.8,357.1 697.4,355.4 697.2,353.4 696.1,351.6 695.4,350.4 695.1,348.9 694.6,347.4 693.3,346.7 693.1,344.9 691.8,344 690.7,342.7 690.9,341 690.5,339.8 689.9,338.9 688.6,338.1 687.3,337.3 688.1,336 688.1,334.3 687.9,332.8 687.3,331.3 686.5,329.9 686.2,328.3 685.1,326.9 685.6,325.3 685.5,323.6 685.5,321.8 685.3,320.6 685.9,319.8 685,319.3 684.3,318.4 683.7,320 683.3,321.1 682.4,321.7 681.9,322.7 681,323.2 679.9,322.6 678.8,322.2 677.7,321.5 677,320.3 676.2,319.3 675.1,318.5 676,318.1 676.9,317.9 677.3,316.7 678.4,316.6 676.7,316.3 675.1,316.9 674,316.1 673.5,314.8 672,314.1 670.5,313.3 669.1,312.6 669.2,310.9 668.6,310 667.9,309.1 666.5,308.5 665.1,308 664.1,309.1 662.8,309.7 661.4,309.9 660,310.4 658.5,309.9 656.9,309.8 655.8,309.3 654.7,308.8 653.3,308.3 652.5,309.4 651,309.7 650.1,311.1 649,309.8 647.7,308.6 646.4,308.8 645.1,308.3 644.3,307.5 644.2,306.3 643.4,305.6 642.7,304.8 641.6,304.5 640.7,303.8 639.5,302.8 638.6,303.8 638,304.7 637.3,305.6 636.1,305.9 634.8,305.2 633.6,305.5 632.4,304.8 631.9,303.4 630.7,303.5 630.2,302.5 629.5,301.7 628.4,301.2 627.8,300 627.1,298.8 625.9,298.5 625.2,296.7 624,295.2 622.5,295 621.2,293.7 620.7,294.9 619.7,295.4 619,296.1 618.5,297 619.3,297.8 620.2,298.2 620.6,299.3 620.5,300.3 621.3,302.1 622.3,303.4 623.7,304.2 624.6,305 625.3,306.1 626.5,307.5 626.7,309.4 627.3,310.9 627.3,309 627.5,307.3 628.7,307 629.4,308.1 629.2,309.4 629,310.5 628.7,311.5 629.8,312.1 630.6,313.3 631.9,312.8 633.2,312.7 634.1,312.6 635.1,312.8 636.1,312.6 636.7,311.8 637.9,310.8 638.8,309.4 639.8,308.3 640.6,307 641.3,306.2 641,308.1 641.6,310 641.7,311.4 642.8,312.2 644.1,313 645.5,312.9 646.8,313.4 647.9,314.5 648.4,315.7 649.1,316.7 650.3,316.8 651.3,317.8 650.4,319.2 649.9,320.9 650,322.8 648.7,324.1 647.7,323.7 646.7,324 646,325.1 646.6,326.4 645,326.5 644.2,328 644.2,329.7 643.9,331.3 643,332.2 641.9,332.6 641.2,333.7 640.2,334.3 639,334.1 637.8,334.3 636.6,334.9 635.5,335.8 634.4,336.7 633,336.7 631.6,336.4 630.7,337.5 629.4,337.3 628.2,337.6 627.5,339.1 627.8,340.8 626.3,340.7 625.2,341.7 624.5,342.9 623.5,343.7 622.3,344.3 621.1,344.6 620.8,345.7 619.8,346.1 618.8,346.1 617.9,345.8 616.3,346.4 614.6,347 613.6,346.8 612.6,347.3 611.6,347.2 610.6,347.4 609.9,345.5 609.5,344.4 609.1,343.3 609.1,342.1 608.9,341 609.1,339.3 609.1,337.6 608.1,336.3 607.6,334.6 606.4,333.1 606.5,331.1 605.1,330.2 603.5,329.8 603.1,327.9 601.7,326.8 601.5,325.6 600.5,324.9 599.5,324.8 598.5,324.9 598.4,322.8 598,320.8 597,320.3 596,319.8 595.5,318.7 594.9,317.6 595,316.4 595.2,315.3 595.1,314 594.5,313 593.2,311.8 592.1,310.3 591.7,309 591.9,307.8 591.1,306.8 589.9,306.7 589.1,306.1 588.2,305.4 587.9,304.3 587.7,303.2 586.3,302.1 584.7,301.2 585,299.9 586.1,299.3 585.2,298.2 585.4,296.7 585.7,298.3 585,299.6 584.1,300.5 583.9,302 583.1,301 582.1,300.5 582.7,298.7 581.4,297.3 580.6,295.6 579,295.4 578.4,293.3 578,291.3 578.9,290.3 579.9,289.5 580.6,290.9 581.8,291.8 582.7,291.3 583.4,290.7 583.5,289.6 584.1,288.8 584.5,287.9 584.4,286.8 584.8,285.1 585.3,283.5 584.9,282 585.9,281.2 585.6,279.9 585.3,278.7 585.9,277.1 585.9,275.4 585,274.6 583.9,274.6 583.1,275.7 582,274.8 580.9,275.3 579.9,276 578.8,276.5 577.8,277 576.4,277 575.6,275.5 573.9,275.4 572.2,274.5 571.9,276.3 570.9,276.3 569.9,276.6 569.2,275.4 568.2,274.9 567.2,274.9 566.2,274.6 565.2,273.4 564,274.1 563.6,272.9 563.4,271.6 562.2,270.6 560.9,270.3 561.9,270.1 562.8,270 562.2,268.6 561.6,267.3 560,266.7 560.1,265 561.3,265.5 562.6,266 563.6,265.3 564.3,264.1 565.6,264.3 566.8,264 568.2,264.2 568.9,262.9 567.8,262.1 566.6,262.2 566.9,261.6 568,260.5 569.6,261.2 570.9,261 572.3,261.3 573,260.7 573.7,260.1 574.6,260.5 575.4,261.3 576.5,261.7 577.5,261.6 577.6,260.5 577.7,259.3 578.6,260.2 579.7,260.6 580.3,259.7 581.1,259.1 582.8,259.9 584.2,261.3 585.8,262 586.9,263.6 588.2,262.9 589.5,262.5 591.2,262.8 592.7,262.2 593.8,261.8 594.7,260.9 595.7,260.2 597,260.4 596.8,258.8 596,257.2 594.7,256.2 593.9,255.6 593,255.3 592.2,254.5 591.3,254.4 589.9,253.8 588.7,252.9 587.2,252.6 586.1,251.2 584.8,249.8 583.2,249.7 584.1,249 584.9,248.2 585.6,247.7 586.3,247 586.1,245.3 587.6,245.3 588.3,243.9 587.3,243.8 586.4,243.4 585.5,243 584.6,243.2 584.1,244.1 583.1,244.1 582.7,245.1 581.8,246.1 580.7,246.7 579.5,246.6 578.2,246.8 579.2,248.1 580.1,249.4 581.3,249.1 582.7,249.1 581.5,249.7 580.2,250.3 578.8,250.9 577.5,251.8 575.9,251.6 574.5,250.5 573.2,249.3 573.2,248 573.8,247.1 574.7,246.9 575.7,247 574.8,246.9 574,247.1 573.2,246.9 572.3,246.7 571.2,246.5 570.2,245.6 569.2,245.3 568.5,246 568.6,247.4 568.6,248.8 567.5,249 566.6,249.8 565.9,250.3 565.2,250.8 564.6,251.6 564.5,252.7 564.6,254 564.4,255.2 563.1,255.6 562.8,256.7 562.4,257.7 563.2,258.6 564,259.5 565.3,260.6 566.8,261.6 566.5,262.2 565.5,262.4 564.9,263.2 563.9,262.6 563,262.3 562.3,263.5 561.1,264 560.1,265 560.2,263.9 559.5,262.9 558.6,262 557.4,261.7 556.3,261.8 555.4,262.5 555.3,263.6 555.7,264.7 554.8,263.8 553.7,264.2 552.9,263.3 551.9,263.4 551.3,265.2 551.8,266.2 552.3,267.1 553.4,268.8 554.4,270.5 555.4,272.2 554.3,271.3 552.9,271.5 553.5,273.3 553,274.5 553.7,275.8 552.8,275.7 552,276 550.9,275.5 549.9,274.8 548.8,273.7 548.7,272.1 549.4,271.5 549.7,270.4 551.2,271.1 552.8,270.9 551.6,270.4 550.5,269.7 549.2,269.9 548.1,270.1 547,268.3 546,267.3 545,266.1 544.6,264.7 543.6,263.8 543.7,262.5 543.3,261.3 543,259.6 541.8,259.1 540.8,258 539.7,257.3 538.6,256.5 537.4,256.6 536.3,255.9 535.5,254.7 534.6,254.2 533.7,254.5 533.1,253.6 532.4,253 531.8,251.7 531.5,250.3 530.2,249.4 529.8,250.3 529,250.7 529.3,249.5 528.6,248.4 527.7,248.2 526.9,248.9 526.2,249.8 525.2,249.1 525.8,250.4 526,251.8 526,253.1 527,254.6 528.4,254.4 529.3,254.9 530.2,255.5 530.9,256.7 530.3,257.9 531.6,258.5 532.6,259.7 533.9,259.6 535.3,259.5 534.6,260.4 535.7,261.5 537.1,261.9 538.5,262.4 539.9,263.2 540.8,263.6 541.2,264.7 541,265.8 540,265 539,264.4 538,263.8 536.6,264.9 536.4,266.1 536.7,267.6 538,267.9 536.9,268.8 536.3,270.1 535.7,271.4 534.7,270.9 535,269.3 535.9,268.5 535.3,266.5 534.2,265 533.4,264.3 532.4,264.4 532,263.2 530.7,262.6 529.6,262.9 529,261.6 527.8,261.3 526.6,260.8 525.6,259.9 524.2,258.9 522.8,258 522.3,256.9 521.3,256.4 520.7,254.6 520.3,253.5 519.5,253 518.3,252.8 517.3,252.1 516.1,252.6 515.2,253.6 513.7,254 513.2,255.1 512.2,255.4 511.3,255.9 510.3,255.9 508.9,255.3 507.8,255.2 506.8,255 505.4,254.7 504.4,255.4 503.5,255.9 503.5,257.7 504,258.3 503.5,259.6 502.5,260.5 501.3,261 500.3,261.7 499,261.9 498.1,263 497.4,264.7 496,265.5 495.3,266.8 496.1,267.7 496.6,269 495.2,268.6 494.8,270.3 494.3,272.3 493.4,273.1 492.4,273.7 491.2,273.8 490.5,275 489.5,275.3 488.5,274.9 487.7,274.7 486.8,274.4 485.9,274.6 485.1,275.1 484.3,276.8Z M148.1,183.6 147.6,184.5 146.3,185.8 148.8,184.8 150.4,184.6 151.3,184.5 152.7,184.2 152.6,184.7 151.7,185.7 152.7,185.5 152.8,186 152.1,186.8 152.3,187.2 154.4,186.1 155.9,185.8 157.8,185 158.7,185 157.2,186.3 156.5,187.2 156.8,187.6 156.4,188.4 156.2,189.3 156.7,189.8 156.9,190.4 157.6,190.8 155.7,191.6 154.2,192.1 153.4,191.8 150.7,193.2 148.9,193.8 146.9,194.5 146.2,195.3 145,195.4 144.2,195.3 142.6,195.5 143.1,194.5 143.2,193.7 141.2,194.2 142.4,193.1 142.8,192.4 141.3,192.9 140.2,193 138.8,193.4 137.8,193.5 137.4,193.2 137.7,192.5 139.2,191.3 139.5,190.5 139.8,191 137.8,192.4 136.5,192.7 135.4,192.9 133.8,193.7 132.9,193.7 135,192.2 136.3,191.3 138.5,189.9 140.4,188.6 142.6,187.1 144.8,185.6 147.2,184.1Z M482.9,235.5 483.8,235.3 484.7,235.4 485.4,234.6 486.3,234.6 487.1,233.5 488.2,233.9 488.9,234.6 489.8,234.8 490.7,234.7 491.4,233.9 492.6,233.8 493.7,233.4 495.2,233.5 496.7,233.4 498.2,233.6 499.2,232.3 498.3,231.5 497.6,231.3 499,230.4 499.4,229.3 500,228.4 498.9,227.2 497.8,226.5 496.7,227.2 496.2,225.5 495.6,224.1 494.3,223.5 493.3,222.4 493.2,220.9 492.5,219.8 491.4,218.7 490.2,218.7 489,218.4 489.7,217.8 490.5,217.5 491,216.6 491.4,215.6 492.1,214.2 491.3,213.5 490.3,213.4 489.3,213 488.4,213.6 487.1,213.9 487.2,212.7 487.7,211.7 488.4,210.7 489.3,211.1 488.3,211.4 487.3,211.5 486.3,211 485.3,211.1 484.8,212 484.5,213 483.6,213.5 483.4,214.7 483.8,215.8 483.5,217 482.4,217.5 483.5,218.5 483.8,220.1 484.4,218.8 485.4,218.7 485.9,220.2 485.1,221.5 485.6,222.7 486.7,222.2 487.4,221.6 488.2,221.5 488.9,222.7 489.3,224.1 489,225.8 488.3,225.2 487.4,225.2 486.7,225.9 485.9,226.1 486.8,227.2 486,228 485.2,227.5 486.1,228 486.9,228.9 485.5,229.1 484.2,230.1 485,229.6 485.9,229.9 486.4,230.8 487.3,231 488.3,230.9 489.2,231.5 487.7,231.2 486.4,232.1 485.5,233.3 484.5,234.4 483.8,235.1Z M473.2,231 474.2,231 475.2,230.9 476.1,230.9 477.1,230.7 478.2,230 479.2,229.3 480.3,230 481.5,229.2 481.9,227.6 482.5,226.1 483.3,224.4 483.8,222.6 483.1,221.6 482.3,220.6 480.9,220.6 479.6,220.4 478.4,221.6 477.1,222.6 476.3,223.4 475.4,223.8 474.5,223.5 473.7,223.2 473.8,224.4 474.4,225.1 475.1,225.7 475.7,226.4 475,228.1 473.6,228.7 473.4,229.8Z M514.2,158.1 514.6,157.4 515.2,157.1 515.6,156.5 516.3,156.4 516.8,157.3 517.7,157.5 518.4,157.9 519.1,157.7 520,157.1 521.1,157.3 522.2,157.4 523.2,157.5 523.9,158.1 524.6,157.8 524.9,158.6 525.5,159.2 526.1,159.1 526.7,159.2 527,158.6 527.6,158.5 528.4,158.7 529.1,159.1 530,159.6 530.7,159.3 531,158.7 531.4,158.1 532.1,157.8 532.1,156.9 533.2,157.5 534.3,158 535.4,158.4 536.5,159.1 536.3,158.2 536.3,157.4 536.7,157 536.9,156.3 537.6,156.5 538.1,156.2 538.9,156.3 539.6,157.1 538.7,156.9 538.3,157.4 538.4,158.3 538.6,159.2 537.8,158.7 537.3,159 536.6,158.7 536.1,159.2 535.5,158.9 534.8,158.7 534.6,159.4 534.1,159.7 534,160.4 533.9,161.1 533.2,161 532.6,161.1 531.4,160.3 530.2,160 529.3,160.5 528.1,160.5 528.6,160.1 528.9,159.6 529.6,159.5 530.3,160 530.9,160.1 531.6,160.5 531.8,161.6 532.7,161.8 532.1,162.2 531.4,161.8 530.8,162 530.2,162.2 529.7,162.6 529.1,162.8 528.6,163.2 527.8,162.9 527.7,163.8 527,164.3 526.6,165.1 525.7,164.9 525.1,165 524.5,165.3 523.9,165.1 523.2,164.8 522.4,164.8 521.7,164.8 521.2,163.9 520.9,162.9 519.9,162.1 519,161.3 518.3,160.8 518.2,159.9 517.6,159.8 517.2,160.3 516.2,159.8 515.3,159.8 514.5,159.2Z M592.5,177.1 593.8,177.7 595,178.8 596,178.6 597.1,178.8 598.1,178.9 599.2,179.3 600.3,179.5 601.4,179.8 602.1,179.4 603.1,179.5 603.8,179 604.9,179.3 603.7,178.9 602.4,178.5 601.5,177 600.3,175.8 599.5,175.1 598.7,174.4 598.3,173.5 597.6,172.7 597.1,171.2 597.5,170.2 598.8,170.5 600,170.5 600.7,169.9 601.8,169.7 602.3,168.8 602.9,168.2 604.3,168.5 604.2,167.5 605.5,167.7 605.3,166.6 605.8,166.1 606.5,165.8 608.1,167.1 608.9,166.5 609.1,165.7 610,165.5 610.7,165.2 611.5,164.9 612.7,165 613.1,164.4 614.7,165.2 615.1,164.5 614.4,164.3 613.5,164.1 612.8,163.9 612.2,164 611.2,163.5 610.3,162.8 609.2,162.2 608.6,162.3 607.6,161.7 606.8,161.5 606.3,161.7 605.7,161.8 605.6,162.3 606.4,163.3 606.1,163.8 606.5,164.6 606.6,165.3 606.5,166 605.5,165.7 604.7,165.6 605,166.8 603.9,166.8 603.1,167 602.3,167 600.9,166.4 600.1,166.5 599.8,167.2 598.8,167.2 597.9,167.6 597,167.9 596.3,168.5 595.2,168.6 595.2,169.8 594.1,169.7 594.2,170.7 594.5,171.9 594.2,172.5 594.2,173.2 594.1,173.9 594.1,174.6 593.5,175 593.1,175.6 593,176.5Z M655.4,159.6 655.8,159.1 657.1,159.3 658.9,160 660.8,160.9 661.9,161.1 663.1,161.2 664.5,161.5 665.7,161.8 665.8,161.1 667.6,161.7 666.9,160.6 668,160.6 668.3,160.1 669.9,160.6 670.6,160.3 672.5,161.1 672.4,160.4 672.2,159.6 670.8,159.3 668.9,158.4 667.2,157.8 666.8,158.1 666.3,158.2 666.4,158.7 664.9,158.1 665.1,158.8 664.4,158.7 663.2,158.3 662.2,158 661,157.5 659.4,156.8 657.8,156 656.1,155.1 654.5,154.2 653.1,153.8 653.3,154.5 654.3,155.6 653.9,155.9 652.6,155.6 650.8,154.7 649.7,154.7 650.1,155.5 648.7,155.1 648.7,155.6 647.4,155.3 646.4,155.1 647.1,156.1 645.7,155.9 644.9,156 645.4,156.9 646.7,157.2 648.5,158.2 648.9,157.8 650.5,158.3 651.9,158.8 652.8,158.9 654.3,159.4Z M573.3,157.1 574.1,157.7 574.9,157.9 575.2,157.5 575.5,157.2 576.1,157 575.6,156.1 576.4,156.4 576.8,156.1 578,156.3 579.2,156.6 580.7,157.5 581.9,157.7 581.9,157 582.6,156.8 582.8,156.3 582.7,155.6 582.5,154.7 582,153.7 582.6,153.2 584.1,154.1 585,154.3 585.9,154.5 586.7,154.5 587.2,154.2 588.3,154.9 589.4,155.7 590.3,156.7 591.5,157.3 592.6,157.4 592.3,156.4 593,156.2 593.7,156 594.5,156 595.5,156.2 596.5,156.3 597.3,156.3 595.9,155.6 595,155.6 594,155.6 592.5,154.6 592.1,154.7 592,155.2 591.8,155.6 591.3,155.8 590.4,155.5 590.1,155.9 589.1,155.5 588.5,155.5 587.8,155.3 587,155.2 586.5,155.3 585.8,155.2 585,154.8 584.2,154.7 583.8,154.9 583.3,155.1 582.4,154.6 581.5,154.2 580.6,153.8 579.8,153.5 579.6,154.2 578.8,154.1 577.8,153.6 576.8,153 576.3,153.2 576.1,153.7 575.7,154 575.5,154.5 575.6,155.2 575.5,155.8 574.8,155.8 574.1,155.9 573.7,156.4Z M739.1,167.5 740.5,167.9 741.1,167.8 742.6,168.4 744.2,169.1 745.5,169.5 746.8,169.9 746.5,169.3 747.4,169.3 747.6,169 747.8,168.6 748.7,168.7 749.4,168.6 749.7,168.1 748,166.8 750.2,167.7 752.5,168.6 753,168.5 752.8,167.9 751.9,167.2 750.7,166.3 752.3,166.9 753.8,167.5 754.5,167.5 755.5,167.7 756.7,167.8 759,168.8 760.2,168.9 759.8,168.1 761.2,168.5 762.8,168.9 763.8,168.9 763.8,168.4 761.9,167.6 761.6,167.8 760,167.2 758.4,166.3 757.4,166.4 755.2,165.7 754,165.7 754.3,166.4 751.8,165.6 751.2,165.9 750.4,165.9 748.6,165.1 748.3,165.2 748.8,165.8 748.6,166.1 749.6,166.9 749.7,167.3 750,167.8 748.7,167.3 747.3,166.8 746.2,166.5 745.7,166.6 743.6,166 741.9,165.6 740.9,165.7 740.4,166.1 739.6,166.1 739.7,166.7 740.6,167.7Z M832.6,178.3 833.7,178.6 834.7,178.7 835.4,178.7 835.8,178.5 833.3,177.1 831.8,176.7 831.4,177.1 832.3,177.8Z M156.2,178.5 158.6,177.8 160.4,177.4 161.8,177 162.1,177.2 161.6,177.8 161.3,178.3 161.9,177.7 162.5,177.1 160.2,177.9 158.4,178.4 157.7,178.1 158.7,177.1Z M589.1,183.3 590.6,184.1 591.9,184.1 592.4,183.4 592.9,182.8 591.4,182.2 590.1,182 589.4,182.5Z M812.7,223.2 814.8,224.3 817,225.5 818.5,226.3 819.8,227.5 821.2,228.8 821.5,229.8 823.2,231.3 823.9,232.7 825.4,234.2 826,235.6 827.4,236 828.7,237.4 830.1,238.1 831.3,238.5 830,237.9 828.9,237.7 828.1,238 828.1,238.8 828.8,240 828.8,240.8 829.5,241.8 830.2,242.9 831.3,243.2 832.3,243.3 833.6,244.3 834.4,245.6 833.9,246.5 833.1,247.3 831.8,245.6 830,245 828.9,243.7 828.2,242.5 826.9,241.1 826.6,240 825.4,238.3 825.5,237.1 823.5,235.9 822.3,234.2 821.2,233 820.4,231.8 819,231.1 817.8,229.8 817.3,228.8 817.3,228 816.3,226.7 814.8,226.1 813.6,224.6Z M835.9,260.7 837,260 838.3,259.8 837.4,258.7 836.5,257.7 838.4,258.8 839.8,258.7 841.1,258.4 843,259.2 843.7,258.1 845,257.7 845.7,256.7 846,255.3 844.5,254.6 843.1,253.3 841.5,253.3 840.4,252.9 839.3,252.3 838.3,252.2 837.1,251.5 836,250.7 834.9,250 833.8,249.4 832.7,248.8 833.5,250.3 834.2,251.8 835.4,253.8 835.9,255.6 834.7,255.8 833.4,255.6 833.8,257 834,258.3 835.2,259.4Z M838.1,260.7 839.4,262.7 841.4,263.7 842.5,265.5 844.4,266.7 844.3,267.5 843.8,268.1 844.8,269.1 845.2,270.3 844.8,270.9 844.8,271.8 845.5,273.3 846.3,274.8 845.7,275.6 846.5,277.2 847.5,278.1 847.1,279.2 846.5,280.2 845.3,278.7 844.5,279.3 844,280.2 843.1,281.1 842.2,282.2 840.3,281.4 839.7,282.3 840.7,284.3 839.2,284.7 837.7,284.7 836.5,283.6 835.3,282.6 835.1,281.1 833.3,280.7 832,281.4 830.9,281.8 829.9,282.3 828.9,282.6 828.4,283.5 826.7,282.9 825.3,283.2 824.5,282 825.2,280.8 826.6,280.5 827,279.5 827.5,278.7 828.9,278.2 830.6,278.4 831.7,278.8 832.7,279.2 833.4,278.8 833.7,278.1 834,277.1 835.1,277.2 835.2,275.8 835.6,274.8 835.9,273.7 836.1,272.7 836.2,273.7 836.4,274.8 837.1,274.3 837.5,273.5 838.6,273.6 839.2,273 839.5,272.2 840.1,271.7 839.9,270.6 839.9,269.7 840.9,269.5 840.6,268.1 839.6,267 839,265.8 838.1,264.6 837.3,263.4 836.9,262.3 837.2,261.6Z M830,285.6 831.8,286.8 832.8,285.7 834.2,285.3 834.6,284.6 834.8,283.8 834,282.7 832.9,282.3 831.4,282.5 830.3,283.2 830.6,284.6Z M823.7,284.4 823.9,283.1 825.4,283.5 827.1,283.9 828.5,285.6 829.7,286.9 829.9,288.3 830.1,289.7 829.6,290.7 828.3,290.9 828.1,292.2 826.5,291.3 826,289.5 825.1,287.7 824.1,287.2 823.2,286.2 823.7,285.4Z M809.7,309.4 811.2,310.3 811.5,311.6 812,312.8 811,313.5 810.9,314.8 810.9,316.1 810.6,317.3 809.3,317.9 810,319.6 809.1,317.7 807.6,316.3 807.7,315.1 807.7,313.9 807.8,312.8 808.2,311.8 809.8,311.4Z M779.9,327.4 780.9,327.8 781.8,328.5 782.7,329.5 782.7,330.7 783.7,329.8 784.8,328.9 784.9,327.5 785.7,326.5 784.4,325 782.8,325.2 781.1,325.6 780.9,326.9Z M811.4,329.8 812.4,330.2 813.5,330.3 814.8,330.7 815.5,329.8 815.8,331.3 815.1,332.4 816.2,333.3 817.1,334.3 816.7,335.3 815.9,335.9 816.2,337.3 815.3,338 815.1,339.2 814.6,340.3 815.1,341.6 816.2,342.5 817.4,342.9 818.5,343 819.5,343.9 820.7,344 821.6,344.6 822,345.7 822.7,346.6 823.2,347.6 822.2,346.7 821,346.4 819.9,346.5 818.9,345.6 817.9,345 817.2,344 816.3,344.1 815.4,344.1 814.5,344.2 813.6,344 814,342.7 814,341.3 813,339.5 811.3,338.9 811.9,337.4 811.5,335.5 812.4,334.2 811.3,332.7 811.1,331.2Z M819.2,364.4 819.6,363 821,363.2 822,362.9 823,362.6 823.8,363.5 824.1,364.8 824.2,366 825.2,366.8 826.8,367.8 828.4,368.6 829.5,367.6 830.4,366.5 830.7,364.9 831.3,363.5 831.1,362.2 831.2,360.8 830.9,359.3 829.9,358.4 828.7,357.3 827.5,356 826.5,356.5 825.9,357.5 826.6,358.7 826.3,359.9 825.2,361.5 823.4,360.8 822.2,360.8 821.1,361.1 820.3,362.9Z M823.8,347.9 825.4,348.6 827.1,348.8 828.2,350.5 828,352.4 827.1,353.5 826.4,354.8 825,354.1 824.8,352.4 824.8,351.2 824.9,350 823.9,349.2Z M817.9,349.7 819.3,351 821,350.9 821.1,352 821.1,353.2 820.8,354.3 821.1,355.4 820.2,356.9 820,355.3 819.1,353.9 818.1,353.9 817.9,352.7 817.1,351.7 817.5,350.7Z M806.2,360.2 807,359.4 807.6,358.3 808.5,357.5 809.7,357.2 810.9,357 811,355.5 811.5,354.4 812.2,353.6 812,352.4 811.2,351.5 811.5,352.9 810.8,353.9 810.6,355.4 809.2,355.4 808.7,356.8 808.2,358.2 807.5,359.6Z M785.4,379.5 787,380.5 788.9,380.4 790.1,379.2 791.5,378.3 792.6,377.5 793.3,376.2 794.5,375.3 795.9,375.9 796,374.6 796.6,373.5 797.4,372.6 798.4,372 799,370.9 800,370.2 801.2,370 802.3,370.5 803.4,369.2 804.8,368.3 804.2,367.4 803.9,366.3 804.7,365.7 805.2,364.7 806.5,365.6 807.9,366.2 809.5,365.4 810.7,366.9 811.2,368.5 812.1,369.9 811.2,371.6 809.5,372.3 808.3,373.3 808.1,375 808.8,375.9 808.7,377.2 808.4,378.4 809,379.5 809.8,380.3 810.8,380.6 811.4,381.6 812,382.5 811,383.3 810.1,384.2 809,384.6 808,385.5 808.1,387.1 807.5,388.5 806.6,390.2 805.3,391.5 804.3,392.4 804.8,393.8 804.2,394.8 804.3,396 803.2,395 801.8,395.5 800.6,396.4 800,397.8 798.4,397.2 797.2,395.7 796,395.8 794.9,395.3 793.8,395.6 792.7,396 791.4,396.4 790.5,395.4 789.5,394.8 788.5,394.2 789,392.9 788.6,391.6 788.1,390.4 787.8,389.1 786.5,388 785.7,386.4 785.2,385.4 784.5,384.5 785.5,383.8 785.4,382.5 785.2,381Z M748.6,368.6 750.1,369.6 751.4,370.8 752.4,370.7 753.3,371.5 753.2,370 754.5,369.9 755.3,371 756.4,371.8 756.6,373.4 757.9,374.1 758.9,375.2 760.2,375.8 761.4,376.7 762.2,378 763.2,378.7 763.4,380 764.5,379.6 765.5,380.4 766.4,381.6 766.8,383.2 768.2,382.8 769.5,383.7 770.4,384.6 771.1,385.8 771.4,387.1 771.6,388.5 772.8,389.8 773.7,391.2 774.5,392.2 775.6,392.7 776.4,393.8 777.3,394.5 778,395.5 778.7,396.4 777.9,397.5 777.8,398.8 778.2,399.9 777.5,400.9 776.8,401.8 776.7,403 775,402.8 773.3,403 772.1,402.2 771.4,400.9 770.5,399.8 769.2,399.3 768.1,398.7 767.6,397.4 766.9,396.4 766.2,395.4 765.2,394.2 764.6,392.8 764,391.3 763.1,390 761.6,389.3 760.1,388.5 759.9,386.7 759.4,384.9 759.3,383.7 758.6,382.7 757.9,381.7 758.1,380.4 757.8,378.6 757.1,376.9 755.3,377.2 754,375.9 753.2,374.3 752.1,372.9 750.3,372.7 749.3,371.1 749.1,369.8Z M774.7,406 776.3,405.1 777.5,403.6 778.9,403.2 780.3,403.6 781.5,404.5 783,404.5 784.1,405.7 785.5,406.8 787.1,407 788.7,406.3 789.2,405.2 790.1,404.8 791.3,405.1 792.4,405.2 793.4,406.1 794.6,406.3 795.4,407.4 796.7,407.9 797.7,409 799.2,409 799.1,410.4 798.7,411.7 797.6,410.6 796.2,411.4 795,410.9 793.7,410.8 792.8,410.4 792.1,409.7 791.3,410.5 790.3,410.9 789,409.7 787.2,409.6 785.9,409.3 784.6,408.8 783.3,410.1 781.9,409 781.1,408.1 780,407.8 779,407.1 777.8,407.8 776.2,407Z M814.1,383.1 815.2,381.8 816.8,381.6 818.3,381.6 819.8,381.7 821.4,381.6 822.6,382.8 823.6,381.2 825.3,381.7 826.9,381.8 827.9,380.4 827.7,381.5 826.9,382.2 826.6,383.2 826.6,384.3 825.6,384.1 824.6,383.9 823.7,383.5 822.6,383.4 821.6,383.5 820.6,383.4 819.6,383.6 818.6,384 817.2,384 816.1,385.2 815.5,386.5 814.9,387.9 816.3,388.3 817,386.9 817.7,388.1 818.9,388.2 820.1,387.7 821.2,386.9 822,388.2 823.4,388.2 823,389.7 822,390.9 820.4,391 818.8,391.2 819.9,392.9 819.8,395 820.7,396.7 821.8,398.1 821.1,399.3 820.1,399.9 819,400.5 818.2,399.6 818.2,398.5 818,397.4 817.4,395.7 817.2,393.9 815.5,394.5 814.7,396.3 814.3,398.3 815.3,400 815.2,402.1 814,402.3 812.8,402.1 813.3,400.5 812.9,399 812.9,397.5 813.1,396 812.5,394.6 811.3,393.6 811.2,392.3 811.9,391.3 813,391.2 813.9,390.4 814,389.3 813.7,388.2 813.7,387.1 814.1,386.1 813.1,384.6Z M843.9,387.9 844.5,386.8 845.6,386.1 846.8,386 847.9,386.7 849.1,386.7 850.1,387.5 851.2,387.8 852.4,387.9 851.6,388.8 850.9,389.7 851.2,390.8 851.3,392 852,392.7 852.6,393.5 853,394.4 853.7,395.1 855.2,394.4 856.7,393.9 857.6,392.4 858.9,391.3 860.7,391.6 861.9,390 863,389.2 864.3,388.5 865.8,388.4 866.7,389.7 867.5,390.8 868,392.1 869.2,392.5 870.3,393.3 871.7,393 872.6,394.2 873.6,394.9 874.8,395.3 875.9,396.1 877.2,395.6 878.5,395.9 879.4,396.9 880.5,397.6 881,398.8 881.9,399.6 882.6,400.5 883.6,401.8 883.9,403.5 885.5,402.4 886.9,403.6 886.2,404.8 885.4,406 886.3,407.5 887.1,409.1 886.7,410.2 887.2,411.2 887.9,412 888.9,412 889.3,413 889.4,414.1 890.6,414.1 890.9,415.4 891.8,415.8 892.8,415.7 893.6,416.2 894.5,416.5 893.5,416.7 892.6,417.6 892,416.4 890.7,417 889.8,416.6 889.2,415.8 888.2,416 887.1,416.2 886.4,415.5 885.6,414.9 884.7,414.2 885.2,412.8 884.5,412.2 883.9,411.4 883.3,410.6 882.5,410.2 881.2,409.4 880.2,408.3 878.7,408.2 877.3,408.7 876.7,410 876.4,411.5 875.6,412.8 874.2,413.2 873.1,412.2 871.7,412.7 870.3,413.1 869,412.9 868.6,410.9 867.4,409.7 865.6,410.5 864,409.9 862.6,410.4 861.2,410.8 861.5,409.6 861.4,408.3 861.6,407 861.1,406 862.4,405.2 863.8,405.1 862.7,404.4 861.8,403.5 861.7,402 860.6,401.1 860.2,400 859.7,399 859,398.1 858.2,397.3 857.1,396.9 856,397.4 855.1,398.2 854.1,398.7 852.9,397.8 851.8,396.7 850.3,397 848.9,397.5 848.8,395.7 848.5,393.9 850.3,393.4 851.7,392.1 850.7,393.2 849.3,393 848,393 847,392.1 847.2,390.6 846.3,389.5 845.1,390.6 843.8,389.7Z M822.4,416.5 824.1,416.5 824.6,414.6 825.6,413.6 826.7,412.6 827.8,412.3 828.7,412.7 829.3,413.7 830.2,414.3 830.6,413.2 831.4,412.4 832.3,411.8 832.9,410.8 832.1,411.9 831.5,413.1 830.1,412.9 829.2,414.1 828.1,414.4 827,414.7 826,415.4 825,416.2 823.7,416.3Z M800.4,410.2 801.5,410.5 802.6,410.5 803.8,410.2 804.9,410.5 806.6,410.5 808.1,409.2 809,408.9 810,408.9 809.9,410.2 810.9,410.8 812.5,411.1 813.5,412.4 815.2,412.5 816.2,410.8 817.5,411.4 818.9,411.4 820.1,410.4 821.6,410.5 820.9,412 820,411.5 819,411.6 818,411.4 817.3,410.8 816.4,411.4 815.4,411.8 814.4,411.8 813.5,412.3 812.2,412 811.2,412.9 810.2,413.7 809.4,414.8 808.5,413.8 808.1,412.4 806.8,412.9 805.5,412.9 804.4,412.4 803.2,412.2 801.9,412.6 800.8,412Z M834.6,383.1 834.8,381.1 835.8,379.5 836.6,381.1 837.7,382.5 837.3,383.8 836.7,385.1 836.8,386.5 836.4,387.9 835.9,386.7 835.4,385.5 835.2,384.2Z M835.7,395.1 836.5,393.8 837.7,394.5 838.6,395.1 839.4,395.7 840.9,395.6 841.1,394 842.1,394.3 843.2,394.5 842.2,395.7 841,396.3 839.7,396.6 838.5,396.8 837.2,397.1 836.2,396Z M889.4,402.4 890.2,401.2 891.3,400.5 892.6,400.1 893.8,400.5 895.4,400.5 896.8,399.4 898.3,398.9 899.8,398.1 899.3,399.9 899,401.8 897.8,400.7 896.5,401.8 895.1,402.5 894.9,404.2 893.9,403.7 892.9,404 891.9,403.7 890.9,404.2 889.9,403.6Z M707.3,356.3 708.3,356.6 709.3,357.2 709.6,358.4 710.2,359.4 711.2,359.9 711.8,361.9 712.9,363.5 712.2,364.7 712.2,366.2 710.8,366.6 709.6,367.6 708,366.5 708,364.7 707.3,362.9 707.1,361.3 707.4,359.6 707.1,358Z M526.6,271.2 527.8,270.5 529.1,270.6 530.5,270.8 531.9,271.5 533.1,270.8 534.5,270.4 533.7,271.6 533.4,273.3 533.8,275.1 532.5,275.6 531.5,274.5 530.3,274.1 529,274.2 528.2,272.9 526.9,272.4Z M516,262.5 517.3,262.6 518.4,261.6 519.2,262.5 519.9,263.7 520.4,264.7 520.7,265.8 519.9,266.5 519.6,267.6 518.6,267.5 517.9,268.5 516.6,267.6 517.1,266.4 516.6,265.2 516.2,263.9Z M516.8,258 518.2,257.8 518.6,256.2 519.5,257.4 519.1,258.9 518.8,260 518.4,261 517.1,260.1 516.7,259.1Z M554.7,278.7 555.7,279 556.6,278.6 557.5,278.7 558.5,279 559.2,278.2 560.1,278 561.1,278.5 561.8,279.4 560.6,279.3 559.8,280.3 558.9,280.3 558,279.7 557.1,280.2 556.1,279.9 554.8,279.4Z M576.8,280 577.6,279.5 578.5,279.1 579.4,278.5 580.5,279 581.6,278.9 582.4,278.2 581.6,279.2 580.9,280.2 580,281.3 578.7,281.4 577.7,280.9Z M520.2,219.2 520.9,218.5 521.8,218.2 522.7,218 523.7,218.1 523.9,219.3 523.6,220.4 523.1,221 522.7,221.8 521.8,221 520.8,220.6Z M517.6,219.8 518.6,219.9 519.6,219.8 519.7,221.2 518.9,221.5 518.2,220.9Z M535.7,215.6 536.8,214.7 537.1,213 536.9,214.7Z M501.9,266.4 502.6,265.7 503.6,265.5 504.3,266.4 503.4,267.3Z M552.6,268.5 553.2,269.6 553.7,270.7 554.7,270.3 555.7,270.6 556.8,271.2 555.3,270.4 554.1,269.1Z M791.3,453.2 792.2,452.2 792.9,451.1 794.3,451 795.6,451.1 796.2,449.6 796.8,448.1 797.9,447.6 798.9,447.1 799.9,447.2 800.9,447.5 802.5,447.2 803.5,445.5 804.9,445.9 806.4,445.7 807.6,446.3 809.1,446.1 810.5,445.3 811.8,444.5 813.3,444.5 814.2,442.9 814.8,441.5 815.7,440.3 816.1,438.5 816.3,436.7 817.4,436.8 817.6,438 818.6,437.2 819.6,437.6 819.2,436 820.3,434.6 821.6,434.2 822.7,434.3 823.4,432.7 824.5,431.5 825.2,430.6 825.7,429.4 826.8,429.2 827.6,428.2 828.9,427.4 830.4,427.3 830.9,428.2 831.8,428.7 832.6,429.2 833.1,430 834.2,430 835.2,430.3 836.2,428.6 837.5,427 838.6,425.6 839.5,424 841,422.8 842.6,423.3 844.2,422.2 843.8,421 843.2,419.8 844.2,419.8 845.1,420.1 845.8,421.3 847.1,420.4 848.1,421.4 849.5,421.3 850.8,421.8 852.2,421.9 853.4,422.1 854.3,423 855.4,421.9 856.7,421.6 855.9,423.4 855.7,425.2 854.7,426 853.8,427 853,428.8 852.2,430.6 853.1,431.3 854.2,431.4 854.9,432.2 855.2,433.4 856.3,433.5 857.4,433.2 857.5,434.4 858,435.5 859.1,435.5 859.4,436.8 859.9,437.8 860.9,438.2 861.8,437.6 862.8,437.1 864,437.2 864.2,438.5 865.5,437.6 865.6,436 866.8,435.1 867.2,433.7 867.9,432.6 868.2,431.5 869.2,430.4 868.8,429.1 869.4,428 869.2,426.9 868.9,425.8 869.2,424.6 869.6,423.3 870.6,422.6 870.9,421.3 870.8,420.1 871.6,418.7 872.7,417.7 873.7,418.3 874.7,419 873.6,420.1 873.8,421.6 873.4,422.9 873.1,424.1 873.4,425.4 874.2,426.1 875.4,425.7 876.3,426.2 876.9,427.3 876.2,428.5 876.7,430 878,430.6 877.9,431.9 877.2,433 877.4,434.1 877.7,435.2 877.4,436.4 877.3,437.6 877.9,438.5 878.1,439.7 878.2,440.9 878.3,442.1 879.4,442.4 879.9,443.6 880.6,444.6 880.9,445.8 882.1,445.6 883.3,446 883.1,447.4 882.4,448.8 883.6,448.9 884.5,449.6 884.9,450.8 885.1,452.2 885.9,453 887,453.5 887.9,453.9 888.2,454.9 887.9,456.1 887.1,457.1 888.7,456.9 889.8,457.6 889.7,459.3 890,460.7 890.4,462.3 890.9,463.7 891.9,465 890.6,466.7 890.3,468.2 889.7,469.8 888.6,471.7 887.9,473.6 886.2,475.3 885.4,477.3 884.8,478.7 884.4,480.1 883.2,481.3 881.9,482.4 880.6,483.9 879.7,485.5 878.1,486.2 876.6,487.2 875.6,488.6 875.9,489.6 874.7,491.1 873.5,490.8 871.8,491.2 870.5,493.1 869.2,494.6 868.7,496.2 868.2,497.3 867.3,498.3 866.1,498.1 864.5,499.1 863.5,498.8 861.9,499.5 860.2,501.1 859,500.7 857.5,501.8 856.1,503.1 855.7,502.4 855.5,501.4 854.5,501.4 853.6,501 852.6,500.6 851,501.3 850,501.5 849.4,500.9 848.4,501 847.5,501 846.4,500.6 844.8,501.2 843.9,500.6 843.2,499.8 842.1,499.8 842,498.7 842.9,497.4 843.1,496.2 842.9,495.3 842.2,494.9 843.6,494 843.9,492.6 842.7,492.2 841.1,492.6 842.2,492.4 843.2,491.3 843.2,490.4 843.4,489.3 843.7,488.1 843.7,487 843.1,486.2 843.7,484.8 842.4,486.2 841.6,487.8 841.3,489 840.5,490.2 839.3,490.5 838.3,491.7 838.7,489.7 837,489.6 835.3,489.6 835.3,488.3 835.3,487 835.5,485.5 834.6,484.8 834.2,483.5 833.9,482.1 833.2,480.9 832.1,480 830.3,480.8 828.8,480.3 827.3,480.7 825.8,480.9 824.8,481.2 823.9,482.2 822.7,482.2 823,480.9 821.8,481.9 820.8,481.5 819.9,481.3 819,480.9 818.1,482.1 816.8,482.8 815.9,482.5 814.7,482.7 813.5,482.1 811.9,482.6 810.7,484.6 808.9,484.8 807.7,486.2 806.5,487.5 805.4,487.1 804.4,486.5 803,486.9 801.5,487.5 800.5,487.4 799.3,487.7 798.4,487.2 797.1,487.8 795.6,488.4 794.2,488.5 792.8,489.6 791.4,490.8 790.6,489.8 789,490.5 787.9,490.2 786.5,490.5 785.7,489.5 784.7,488.7 785.9,487.1 787.3,485.7 788,484.6 788.3,483.5 788.9,482.3 789.2,481.2 789,480.1 788.6,479.1 789.1,477.8 788.9,476.7 789.6,475.3 789.4,474.1 789.3,472.9 789.4,471.6 789,470.8 789,469.7 789,468.6 788.9,467.7 788.5,466.8 787.9,466.1 788,464.9 788.1,463.7 788.6,462.5 789.6,461.6 789.9,460.3 789.6,459.2 789.8,457.7 790.2,456.2 790.5,454.7Z M848.9,507.9 850.3,507.4 851,508.1 852.4,507.9 852.5,509.1 854,508.2 855.5,507.6 856.9,507.6 857.3,508.5 856.2,510.5 854.7,512.4 853.7,512.2 852.3,513.2 851.2,514.4 850.6,515.7 850.2,514.9 849.4,514.5 848,515.5 846.6,516.3 846.5,515.3 845.8,515 846.8,513.8 847.3,512.7 847.7,511.5 848.2,510.3 848.9,508.9Z M929.4,489 929.8,489.9 930.5,490.6 931.2,491.3 931.4,492.3 931.6,493.3 931.3,494.4 931.9,495 932.4,495.6 931.2,497.5 931.7,498.6 933.2,498.2 934.2,498.7 934.9,499.5 936.7,498.6 937.7,498.9 937.3,500.3 935.9,501.8 934.3,503.2 932.9,503.4 931.4,504.3 930.3,504.3 929,505.2 927.8,506 927,507.1 926.2,508.2 924.7,509.3 923.9,509 922.7,510 921.4,510.6 920.9,509.7 922.4,508 924.1,506.4 923.1,506.4 922.8,505.7 922.5,505 922.6,504 924.7,502.8 926.7,501.3 926.6,500.4 927.4,499.1 928.5,498 929.4,496.8 929.8,495.1 931,493.2 930.2,492.3 929.1,491.7 929.6,490.2Z M917.6,507.3 918.4,507.8 918.6,508.8 919.1,509.6 918.8,510.9 917.2,511.4 915.7,512.1 914.3,513.6 912.6,514.8 911.2,515.7 910.2,516.9 908.9,517.3 907.5,517.9 906.1,518.4 904.7,519.2 903.5,520.3 902.2,521.2 901.1,522.3 900,523.4 900,522.2 898.1,523.1 896.5,524.2 895,525.4 893.8,526 892.8,526.2 892.5,525.7 892.2,525.1 891.5,524.9 890.5,524.9 890.3,524.2 889.9,523.7 891.8,521.9 893.9,520.7 895.3,520.3 896.7,519.1 898,518.7 899.4,517.7 901.1,517.2 903.1,515.9 904.4,516.2 906.6,514.8 908.2,514.1 909.4,514.1 910.6,512.7 911.7,511.2 913.6,509.8 915.2,508.2 916.5,507.6Z M923.7,446 924.5,446.7 925,447.7 926.3,447.7 926.9,448.7 926.7,450.4 927.8,451.3 928.7,452.1 929.8,452.6 928,452.6 927.2,451.6 925.9,451.8 924.6,451.3 924.9,449.6 923.8,449.4 922.8,448.7 923.1,447.4Z M960.4,438.2 962.1,437.4 963.5,438.2 963,440.3 961.5,440.6 960.1,440.3 960.1,439.2Z M655.7,532.5 656.7,532.3 657.6,532.5 658.4,532.9 659.5,532.8 658.4,533.4 657.7,534.5 656.7,534.1 655.5,534.2Z M910.6,405.7 911.7,406 912.8,406.1 913.7,406.8 914.9,407.1 916.1,407.5 917.5,407.4 917.8,408.8 918.2,410.2 918.4,411.5 919.2,412.4 919.1,413.8 919.6,415 919.7,416.7 921.3,416.5 922.4,416.7 923.5,417.1 921.9,417.3 921.1,415.9 920.1,415 919.1,414.1 918,413.5 916.8,413 916.7,411.5 915.9,410.4 915.5,408.8 913.9,409.1 913,408.2 911.8,408.1 911.6,406.6Z M241.6,628.2 234.7,626.3 227,623.9 218.5,621 209.4,617.6 199.8,613.8 190,609.7 190.5,609.4 192.1,609.7 193.6,609.8 195.2,610.1 198.1,611 199.8,611.2 200.4,611 202.4,611.4 205.9,612.5 208.1,613 210.1,613.4 212.3,613.8 212.1,613.2 211.2,612.4 209.2,611.2 208.4,610.3 209.3,610.2 211.4,610.7 213.6,611.1 216.8,612.3 217.5,612.1 217,611.4 217.1,610.9 218.9,611.2 220.4,611.4 220.2,610.9 221.6,611 222.1,610.8 221.5,610 221.9,609.7 222.5,609.5 223.1,609.2 222.5,608.3 221.7,607.4 225,608.3 224.7,607.5 227.9,608.6 228.9,608.4 228.4,607.6 227.3,606.5 227.9,606.3 229.2,606.4 231,606.8 232.5,607 231.8,606 234.4,606.8 233.8,605.9 232.8,604.8 233.6,604.6 234.1,604.3 233.9,603.5 235.1,603.5 236.5,603.4 237.2,602.9 238.8,603 239.9,602.6 241.2,602.5 242.5,602.3 244,602.3 245.7,602.4 246,601.9 247,601.7 248,601.6 250.6,602.6 250.6,602 251,601.5 252,601.3 252.9,601.2 254.2,601 254,599.8 255.3,599.6 255.4,598.6 256.5,598.5 258.4,599.4 260.5,600.7 262.4,601.4 263.5,601.6 264,601.3 264.2,600.8 263.9,600 264.1,599.5 264.8,599.4 265.4,599.1 266.3,599.1 267.6,599.4 267.6,598.7 268.9,599 269.8,599 271,599.1 272.9,600 272.5,599 273.3,598.8 274.4,599 275.8,599.3 277.2,599.8 278.4,600 278.6,599 279.2,598.2 281.6,598.7 282,597.6 284.4,598.3 285.8,598 288.5,599 291.7,600.5 292.4,600.1 294.5,601 296.7,601.9 297.8,601.9 299.5,602.4 300.5,602.2 302.1,602.6 302.9,602.4 305.1,603.1 306.2,602.8 307.4,602.7 307.7,601.9 308.4,601.3 309,600.5 311.5,601.7 313.7,602.4 314,601.7 313,600.3 313.2,599.6 313.4,598.8 313,597.7 312.7,596.5 313.3,596 313.5,595.2 315.9,596.2 318.3,597.1 321,598.4 323.7,600.5 324.2,599.4 323.3,597.5 324.9,597.4 326.9,597.6 329,598.1 330.8,598.2 333.1,598.9 335.7,600.3 337.6,600.5 338.7,599.9 340.1,599.5 340.2,598.1 341.9,598.5 341.7,597.1 343.7,598.3 344.9,598.3 346.4,598.7 347.3,598.3 348.7,598.5 348.9,597.6 349.5,596.9 350.9,597 351.7,596.5 351.7,595.3 353.7,596.5 355.7,598 356.2,597 357.8,597.1 358.3,596.6 359.4,596.9 360.7,597.4 361.6,597.4 359.9,596.5 358.1,595.3 356.6,595 355.4,595.2 354,594 352.7,592.7 352.4,591.3 351.6,589.7 352.9,589.2 354.5,589 355.7,588.2 356.8,587.4 358.1,587.6 359.2,587.3 360,586.7 361.5,587.2 361.5,585.5 361.5,583.8 362.1,583.2 363,582.7 363.7,582 363.7,580.7 363.5,579.3 364.5,578.7 365.2,578 365.9,577.3 367.5,577.8 368.5,577.1 369.3,576.3 369.9,575.2 371.8,575.8 373.2,575.2 374,574.1 375,573 376,573 377.2,573.3 378.1,573 379,572.8 379.6,574.1 378.8,574.8 378.3,575.7 378,576.8 377.1,577.3 376,577.2 375,577.3 375,579.1 375.9,581.3 377.2,583.2 377.9,585.1 379.9,587.1 381.1,589.5 381.6,591.7 382.6,593.9 383.5,595.8 384.8,597.6 386.1,599.1 386.4,600.5 386.2,601.4 386.1,602.4 385,603.2 383.7,603.6 382.8,604.5 382.4,605.9 381.9,606.9 380.6,607.3 379.4,607.7 377.5,607.2 376.2,606.8 374.8,605.8 374.4,606.2 373.7,606.5 373.3,607.6 372.2,608.1 371.8,609 370.7,609.3 368.8,608.6 367.2,608.4 365.6,608.2 366,609.7 363.7,608.6 363,609.2 364.4,609.3 366.4,610.1 368.5,611 370.2,611.4 370.8,611 372.2,611.3 372.9,611 374.3,611.3 375.7,611.7 376.7,611.6 377.9,611.8 379.1,612 380.9,613 382.2,613.2 383.3,613.2 384.1,612.9 385.6,613.5 386.9,613.7 387.6,613.4 388.8,613.5 389.3,612.6 390,611.8 391.1,611.3 391.8,610.4 393.3,610.4 394.9,610.3 396.9,611.1 398.7,611.4 399.9,611.7 401.2,612.4 401.7,611.9 402.5,611.7 403.6,612 404.7,612.3 405.8,612.5 407,613.2 408,613.3 408.3,612.7 409,612.4 409.5,611.9 410.4,611.9 410.6,611.1 410.3,609.9 410.7,609.2 412.1,609.7 413.6,610.2 414,609.4 414.8,608.8 416,608.9 416.5,608.1 417.1,607.4 418.3,607.5 419.7,607.8 420.4,607.1 421.3,606.6 422.3,606.2 423.7,607.6 425.2,608.8 426.6,609.1 428,609.7 429,609.4 430,609.3 431.3,609.7 432.7,610.5 433.2,609.6 434.1,609.3 434.9,608.7 436.3,609.2 437,608.6 437.8,608 439,608.1 440.2,608 441.1,607.6 442,607.2 443,606.8 443.6,605.9 444.7,605.7 446,605.7 447.3,606.2 448.7,606.4 449.6,605.7 449.5,603.9 450.2,602.8 451.3,602.4 452.6,602.4 453.9,603 455,602.5 456.3,602.7 457.1,601.7 457.7,600.6 458.5,599.5 459.5,598.8 460.5,598 461.6,597.5 462.6,596.6 463.1,595.1 464.4,595 465.8,595.6 467.1,596 468.4,597.1 469.6,597 470.6,596.4 471.7,595.7 472.5,594.7 473.6,594 474.7,593.5 476,593.6 477.2,593.5 478.5,594.2 479.7,593.8 480.8,593.2 481.8,592.3 482.9,591.6 484.2,591 485.3,592 486.6,592.7 487.9,593 489.3,593.1 490.1,591.7 491.1,590.4 492.3,589.8 493.6,589.7 494.8,590.4 496,591 497.1,591.6 498.4,591.5 499.6,591.6 500.8,591.4 501.9,591.3 503.1,591.2 504.3,590.7 505.5,590.7 506.6,589.5 507.8,588.8 509,587.8 510.4,587.4 511.4,588.5 512.7,588.8 513.8,589.7 515.1,590.2 516.5,590.5 517.6,589 518.8,588.4 520.1,587.8 521.3,588.1 522.5,588.5 523.5,589.4 524.7,589.7 526,588.7 527.3,589.1 528.5,589.5 529.3,590.7 530.5,590.3 531.8,590 533.1,589.6 534.2,590.2 535.5,589.6 536.8,588.5 538,589 539.1,589.7 540.2,590.1 541.4,590.1 542.5,590.4 543.6,590.7 544.8,590.9 546.1,590.5 547.1,591.1 548.4,591 549.5,591.7 551,590.9 552.3,589.9 553.6,589 555.1,588.9 556.7,588.6 558.4,588.4 559.9,586.9 561,587.9 562.5,587.9 564,587.9 565.3,588.5 566.8,588.3 568.2,588.5 569.4,589 570.6,589.7 572.1,588.7 573.4,587.2 574.8,585.9 576.2,584.8 577.6,584.8 578.9,584.9 580.3,584.5 581.7,584.3 583,584.1 584.1,584.6 585.6,583.4 586.8,583.9 588.2,583.4 589.6,582.8 591.1,582.2 592.6,581.2 594.2,580.9 595.1,581.8 596.2,581 597.4,580.4 598.6,579.9 599.7,579.9 600.9,579.5 601.8,579.8 602.9,579.7 603.9,579.7 605.2,580.2 606.4,580.8 608.1,580.6 608.9,581.8 610.1,582.4 611.8,582.2 612.7,583.2 614,583.6 615.3,583.4 616.3,583.9 617.8,583.4 619.3,582.9 620.3,583.2 621.2,583.8 622.5,583.8 623.4,584.4 623.8,585.1 624.3,585.9 625.3,585.9 626.3,586 627.6,585.2 628.9,584.8 629.8,585 631,584.6 630.4,586.5 631.6,586.9 632.1,587.8 632,589 633.1,589.2 633.4,590.2 634.4,590.3 635,590.7 636.2,590.3 637.5,589.7 638.8,590.2 640.9,589.1 642.8,588.4 644.7,587.7 646.8,586.3 648.9,585.5 650.6,585.2 652.6,584.6 654.3,583.8 655.6,583.8 656.6,584.1 658.2,583.7 659.9,582.8 661.2,582.8 662.7,582.5 664.2,582 665.4,582.1 666.8,581.9 667.7,582.3 669.3,581.8 670.8,581.5 672.4,580.9 674,580.7 674.3,581.8 675.2,582.4 677.3,581.3 679.2,580.1 680.9,579.5 682.7,579.4 681.7,581.5 682.8,581.8 684.6,581.3 685.8,581.3 687.3,581.1 688.2,581.5 689.5,581.5 691.6,579.7 693.5,579.2 695.1,578.9 696,579.4 697.1,579.7 697.8,580.4 698.3,581.1 698.9,581.8 700.8,581 702.6,580.2 703.2,581 704.9,580.7 706.9,580.1 707.3,581.1 707.4,582.2 708.3,582.7 710.4,581.6 711.4,582.1 713.5,581 715.6,579.9 717.4,579.3 719.1,578.9 719.7,579.5 720.4,580.1 721.1,580.9 720.6,582.4 722.3,582 724.3,581.3 726.1,580.9 728.4,579.5 730.7,578.4 731.8,578.7 733,579 732.7,580.4 733.7,580.8 733.5,582 734.8,582 735.6,582.5 737.5,581.7 739.1,581.4 740.2,581.5 741.3,581.6 743.2,581 744.7,580.7 746.2,580.5 747.3,580.6 748.7,580.5 750,580.4 750.6,581 751.3,581.6 753.6,580.4 755.5,579.9 757.2,579.6 758.3,579.8 761.1,577.8 762.2,578.3 762.7,579 764,579 764.2,579.9 765.5,579.9 765.9,580.6 767.1,580.7 768.9,580.3 770.2,580.3 771.7,580 772.5,580.5 773.4,580.8 773.4,581.8 774.1,582.3 773.5,583.6 774.8,583.6 775.5,584 776.6,584.2 778.8,583.3 779.8,583.6 781.7,583.1 783.2,583 783.5,583.8 786,582.8 788.1,582.2 787.9,583.2 788.1,584 788.1,584.9 787.9,585.9 790.4,584.9 792.8,584 792.5,585.1 793.3,585.6 795.1,585.2 795.8,585.7 795.4,586.8 795.3,587.7 794.6,588.9 794.5,589.8 795.9,589.6 796.9,589.9 799.2,589.1 799.4,589.8 800.6,589.9 801.3,590.2 803.3,589.7 803.7,590.3 804.1,590.8 804,591.6 805.7,591.3 805.9,591.9 806.6,592.3 807.9,592.2 809.8,591.7 811.5,591.4 813.6,590.9 813.1,592 813.8,592.4 812.2,593.9 812.7,594.3 814.6,593.9 813.9,595 812.4,596.4 811.2,596.1 808,597.1 804.7,598.2 800.7,600 799.3,600.2 796.8,601.2 794.8,601.8 792.5,602.7 791.8,602.5 790,603 788.8,603.1 789.2,602.4 786.8,603.5 784.4,604.7 782,605.9 779.4,607 780.6,607 781.2,607.3 781.2,607.9 779.2,609.2 779.7,609.4 780.8,609.3 780.6,609.7 781.8,609.6 783.8,609.1 786.3,608.3 785.1,609.2 786,609.2 787.9,608.9 789,608.9 791.3,608.3 793.1,608 793.8,608.2 793.2,609 792.8,609.6 791.5,610.6 792.1,610.8 794.1,610.4 797.2,609.4 799.2,609 800.2,609.1 801.7,608.9 803.9,608.5 802,609.7 792.2,613.8 782.6,617.6 773.5,621 765,623.9 757.3,626.3 750.4,628.2 747.6,628.2 744.7,628.2 741.9,628.2 739.1,628.2 736.3,628.2 733.4,628.2 730.6,628.2 727.8,628.2 725,628.2 722.1,628.2 719.3,628.2 716.5,628.2 713.6,628.2 710.8,628.2 708,628.2 705.2,628.2 702.3,628.2 699.5,628.2 696.7,628.2 693.9,628.2 691,628.2 688.2,628.2 685.4,628.2 682.6,628.2 679.7,628.2 676.9,628.2 674.1,628.2 671.2,628.2 668.4,628.2 665.6,628.2 662.8,628.2 659.9,628.2 657.1,628.2 654.3,628.2 651.5,628.2 648.6,628.2 645.8,628.2 643,628.2 640.2,628.2 637.3,628.2 634.5,628.2 631.7,628.2 628.8,628.2 626,628.2 623.2,628.2 620.4,628.2 617.5,628.2 614.7,628.2 611.9,628.2 609.1,628.2 606.2,628.2 603.4,628.2 600.6,628.2 597.8,628.2 594.9,628.2 592.1,628.2 589.3,628.2 586.5,628.2 583.6,628.2 580.8,628.2 578,628.2 575.1,628.2 572.3,628.2 569.5,628.2 566.7,628.2 563.8,628.2 561,628.2 558.2,628.2 555.4,628.2 552.5,628.2 549.7,628.2 546.9,628.2 544.1,628.2 541.2,628.2 538.4,628.2 535.6,628.2 532.7,628.2 529.9,628.2 527.1,628.2 524.3,628.2 521.4,628.2 518.6,628.2 515.8,628.2 513,628.2 510.1,628.2 507.3,628.2 504.5,628.2 501.7,628.2 498.8,628.2 496,628.2 493.2,628.2 490.3,628.2 487.5,628.2 484.7,628.2 481.9,628.2 479,628.2 476.2,628.2 473.4,628.2 470.6,628.2 467.7,628.2 464.9,628.2 462.1,628.2 459.3,628.2 456.4,628.2 453.6,628.2 450.8,628.2 447.9,628.2 445.1,628.2 442.3,628.2 439.5,628.2 436.6,628.2 433.8,628.2 431,628.2 428.2,628.2 425.3,628.2 422.5,628.2 419.7,628.2 416.9,628.2 414,628.2 411.2,628.2 408.4,628.2 405.5,628.2 402.7,628.2 399.9,628.2 397.1,628.2 394.2,628.2 391.4,628.2 388.6,628.2 385.8,628.2 382.9,628.2 380.1,628.2 377.3,628.2 374.5,628.2 371.6,628.2 368.8,628.2 366,628.2 363.2,628.2 360.3,628.2 357.5,628.2 354.7,628.2 351.8,628.2 349,628.2 346.2,628.2 343.4,628.2 340.5,628.2 337.7,628.2 334.9,628.2 332.1,628.2 329.2,628.2 326.4,628.2 323.6,628.2 320.8,628.2 317.9,628.2 315.1,628.2 312.3,628.2 309.4,628.2 306.6,628.2 303.8,628.2 301,628.2 298.1,628.2 295.3,628.2 292.5,628.2 289.7,628.2 286.8,628.2 284,628.2 281.2,628.2 278.4,628.2 275.5,628.2 272.7,628.2 269.9,628.2 267,628.2 264.2,628.2 261.4,628.2 258.6,628.2 255.7,628.2 252.9,628.2 250.1,628.2 247.3,628.2 244.4,628.2Z" fill="#999"/>
<path d="M611.6,245.9 616,244.7 620.8,245 622.4,249.4 617.9,249.7 617.9,252.4 616.2,252.4 619.9,255.6 623.1,257.1 624.4,261.6 627.1,262.8 625.7,265.2 627.7,267.6 629.6,273 625.2,274.8 620.7,273.3 617.2,271.8 616.3,268.5 617,264.3 618.9,264 615.8,261.3 613.4,259.2 610.4,256.2 609.2,253.3 607.3,251.2 608.8,248.2Z M634.7,250.3 635.3,246.5 637.3,245.3 641,245.9 641.9,250.3 639.8,253.8 637.6,254.4 635.6,253.3Z M732.4,231.3 735.3,231.5 737,228.4 739.1,225.5 739.7,221.8 738,218.9 736.5,219.5 736.9,224.9 734.8,227.5 733.1,230.1Z M670.5,249.1 672,246.7 676.2,245.3 679.1,245.1 682,245 681.9,246.7 678.8,246.7 675.6,246.7 673.1,249.7Z M560,207.2 562.4,207.5 565.6,206.4 564.6,203.9 560.7,202.8 559.1,204.7Z M568,204.5 572.2,204.5 570.3,201.2 567.3,199.8 568.5,202.3Z M522.7,211.4 525.1,211.6 525.9,209.7 524.4,209.1 523.4,210Z M279.3,245.3 282.8,245.3 287.8,244.7 289.6,245.9 292.7,245.7 295.7,245.6 297.3,244.4 297.4,241.5 294.9,239.4 290.9,238.8 286.9,241.5 283.1,243.2Z M283.4,259.2 286.3,259.8 289,254.7 292.5,250.3 294.7,247.9 292.4,247.6 289.6,248.8 286.1,251.5 285.7,254.7Z M295.9,247.3 298.6,247 303.2,247.3 306.2,248.8 305,251.8 302.2,251.2 299.8,254.7 297.6,256.2 298.1,253.6 295,254.1 297.5,250.3 295.7,248.2Z M293.7,260.1 295.6,261 299.6,259.8 305.3,257.4 305.7,256.5 301.7,257.4 297.7,258.6 294.6,258.9Z M304.2,255.3 308.5,255.3 312.9,254.4 313.5,252.7 310.5,253.3 306.2,253.8Z M273.3,234.4 275.2,233.6 276.1,230.7 275.9,228.4 277,224.6 274.7,224.4 272.4,226.9 273.5,228.9 274.2,231.3Z M244.2,193.7 246.5,193.7 248.9,193.7 253.2,192.4 257.2,192.4 261.8,190.3 261.4,188.4 258.1,188.4 253.8,189.7 249.3,190.3 249.4,192.1Z M250.2,204.5 253.2,204.7 258.1,203.9 264.1,201.7 267.3,200.8 270.4,199.8 268.2,199.3 264.9,200.1 261.6,200.9 258.8,200.7 255.2,201.2 252.5,203.1Z M257.3,210.8 261.6,210 265.2,209.4 268.9,208.9 265.9,210 262.8,210.5 259.7,211.1Z M580.2,386.4 582.6,384.9 586.3,384.9 586.8,387 586,390 584.4,392.4 583.1,393 580.9,393 580.2,390Z M573.8,395.7 574.8,399 574.7,403.6 577.1,406.6 578.6,411.7 577,411.1 574.2,406 573.2,400.5Z M585.9,414.1 587.2,417.1 587.3,421.6 589,426.1 588.1,428.5 586.9,426.7 586.2,421.6 585.8,418Z M270.5,217 273.8,216.7 276.1,212.8 273.3,213.6Z" fill="#fff"/>
<g shape-rendering="crispEdges">
<path fill="#f9b3b3" d="M347.5,157.5L355.8,157.5L344,168.6L335.1,168.6ZM326.2,168.6L335.1,168.6L324.3,180.8L314.7,180.8ZM286.1,180.8L295.6,180.8L284.2,193.7L274.1,193.7ZM193.4,193.7L203.5,193.7L188.5,207.2L177.9,207.2ZM778.4,193.7L788.5,193.7L803.5,207.2L792.9,207.2ZM849,193.7L859.1,193.7L877.7,207.2L867.1,207.2ZM167.3,207.2L177.9,207.2L163.4,221.2L152.3,221.2ZM784.3,221.2L795.3,221.2L807.1,235.6L795.6,235.6ZM611.2,235.6L622.8,235.6L626.9,250.3L615,250.3ZM680.4,235.6L691.9,235.6L698.3,250.3L686.4,250.3ZM703.4,235.6L726.5,235.6L734,250.3L710.2,250.3ZM496,250.3L507.9,250.3L508.2,265.2L496,265.2ZM626.9,250.3L638.8,250.3L642.8,265.2L630.6,265.2ZM650.7,250.3L662.6,250.3L667.3,265.2L655.1,265.2ZM686.4,250.3L722.1,250.3L728.5,265.2L691.8,265.2ZM532.7,265.2L544.9,265.2L546.1,280.2L533.6,280.2ZM557.2,265.2L569.4,265.2L571.1,280.2L558.6,280.2ZM679.6,265.2L691.8,265.2L696.3,280.2L683.8,280.2ZM728.5,265.2L740.7,265.2L746.3,280.2L733.8,280.2ZM814.2,265.2L850.9,265.2L859,280.2L821.4,280.2ZM220.6,280.2L233.1,280.2L228.3,295.2L215.6,295.2ZM746.3,280.2L771.4,280.2L776.4,295.2L750.9,295.2ZM821.4,280.2L846.5,280.2L852.9,295.2L827.4,295.2ZM598,295.2L610.7,295.2L612.3,310.3L599.4,310.3ZM750.9,295.2L789.2,295.2L793.1,310.3L754.4,310.3ZM586.4,310.3L599.4,310.3L600.3,325.3L587.3,325.3ZM312,340.4L325.1,340.4L324.2,355.4L311,355.4ZM732.6,340.4L745.8,340.4L747.1,355.4L733.9,355.4ZM758.9,340.4L772,340.4L773.6,355.4L760.3,355.4ZM324.2,355.4L350.6,355.4L350.1,370.5L323.6,370.5ZM694.3,355.4L720.7,355.4L721.4,370.5L694.9,370.5ZM270.6,400.5L283.9,400.5L284.5,415.6L271.3,415.6ZM747.1,415.6L760.3,415.6L758.9,430.6L745.8,430.6ZM574.9,430.6L588,430.6L587.3,445.7L574.2,445.7ZM365.6,445.7L378.6,445.7L379.7,460.7L366.8,460.7ZM870.7,460.7L896.5,460.7L891.1,475.8L865.7,475.8ZM789.2,475.8L814.7,475.8L808.9,490.8L783.9,490.8ZM878.4,475.8L903.9,475.8L896.5,490.8L871.5,490.8ZM853.2,535.4L864.8,535.4L850.8,549.8L839.7,549.8Z"/>
<path fill="#6e0000" d="M619.7,157.5L628,157.5L639,168.6L630.1,168.6ZM639,168.6L648,168.6L658.2,180.8L648.7,180.8ZM674.8,168.6L683.7,168.6L696.4,180.8L686.8,180.8ZM620,180.8L629.6,180.8L637.2,193.7L627.1,193.7ZM658.2,180.8L667.7,180.8L677.6,193.7L667.5,193.7ZM705.9,180.8L715.5,180.8L728,193.7L717.9,193.7ZM725,180.8L734.5,180.8L748.2,193.7L738.1,193.7ZM728,193.7L738.1,193.7L750.5,207.2L739.9,207.2ZM551.4,221.2L562.5,221.2L565.1,235.6L553.6,235.6Z"/>
<path fill="#d31f1f" d="M210,168.6L218.9,168.6L200.2,180.8L190.7,180.8ZM238.4,180.8L247.9,180.8L233.7,193.7L223.6,193.7ZM627.1,193.7L637.2,193.7L644.5,207.2L633.8,207.2ZM647.3,193.7L657.4,193.7L665.7,207.2L655.1,207.2ZM677.6,193.7L687.7,193.7L697.5,207.2L686.9,207.2ZM697.7,193.7L717.9,193.7L729.3,207.2L708.1,207.2ZM570.2,207.2L580.8,207.2L584.7,221.2L573.6,221.2ZM623.2,207.2L655.1,207.2L662.3,221.2L629,221.2ZM665.7,207.2L676.3,207.2L684.5,221.2L673.4,221.2ZM697.5,207.2L708.1,207.2L717.7,221.2L706.7,221.2ZM562.5,221.2L573.6,221.2L576.7,235.6L565.1,235.6ZM662.3,221.2L673.4,221.2L680.4,235.6L668.9,235.6ZM565.1,235.6L588.2,235.6L591.2,250.3L567.4,250.3Z"/>
<path fill="#e97474" d="M478.1,168.6L487.1,168.6L486.5,180.8L476.9,180.8ZM755.2,168.6L764.2,168.6L782.2,180.8L772.7,180.8ZM515.1,180.8L524.6,180.8L526.3,193.7L516.2,193.7ZM455.7,193.7L465.7,193.7L464.2,207.2L453.6,207.2ZM758.3,193.7L768.4,193.7L782.3,207.2L771.7,207.2ZM146.1,207.2L156.7,207.2L141.2,221.2L130.1,221.2ZM750.5,207.2L761.1,207.2L773.2,221.2L762.1,221.2ZM782.3,207.2L803.5,207.2L817.5,221.2L795.3,221.2ZM595.8,221.2L606.9,221.2L611.2,235.6L599.7,235.6ZM717.7,221.2L728.8,221.2L738,235.6L726.5,235.6ZM751,221.2L773.2,221.2L784.1,235.6L761,235.6ZM507.5,235.6L519,235.6L519.8,250.3L507.9,250.3ZM622.8,235.6L634.3,235.6L638.8,250.3L626.9,250.3ZM657.3,235.6L668.9,235.6L674.5,250.3L662.6,250.3ZM738,235.6L749.5,235.6L757.8,250.3L745.9,250.3ZM543.6,250.3L579.3,250.3L581.7,265.2L544.9,265.2ZM781.6,250.3L805.4,250.3L814.2,265.2L789.7,265.2ZM190.1,265.2L202.3,265.2L195.6,280.2L183.1,280.2ZM801.9,265.2L814.2,265.2L821.4,280.2L808.9,280.2ZM623.5,295.2L636.2,295.2L638.1,310.3L625.2,310.3ZM573.5,310.3L586.4,310.3L587.3,325.3L574.2,325.3ZM780.2,310.3L793.1,310.3L796,325.3L782.9,325.3ZM861.2,445.7L874.2,445.7L870.7,460.7L857.7,460.7ZM793.1,460.7L806.1,460.7L801.9,475.8L789.2,475.8Z"/>
<path fill="#ee8989" d="M522.8,168.6L531.8,168.6L534.2,180.8L524.6,180.8ZM549.6,168.6L558.6,168.6L562.8,180.8L553.2,180.8ZM171.6,180.8L181.1,180.8L163.1,193.7L153,193.7ZM457.8,180.8L467.4,180.8L465.7,193.7L455.7,193.7ZM524.6,180.8L534.2,180.8L536.3,193.7L526.3,193.7ZM744.1,180.8L753.6,180.8L768.4,193.7L758.3,193.7ZM782.2,180.8L791.8,180.8L808.7,193.7L798.6,193.7ZM153,193.7L163.1,193.7L146.1,207.2L135.5,207.2ZM445.6,193.7L455.7,193.7L453.6,207.2L443,207.2ZM485.9,193.7L496,193.7L496,207.2L485.4,207.2ZM761.1,207.2L771.7,207.2L784.3,221.2L773.2,221.2ZM618,221.2L629,221.2L634.3,235.6L622.8,235.6ZM739.9,221.2L751,221.2L761,235.6L749.5,235.6ZM795.3,221.2L817.5,221.2L830.2,235.6L807.1,235.6ZM599.7,235.6L611.2,235.6L615,250.3L603.1,250.3ZM761,235.6L784.1,235.6L793.5,250.3L769.7,250.3ZM818.7,235.6L830.2,235.6L841.1,250.3L829.2,250.3ZM222.3,250.3L234.2,250.3L226.8,265.2L214.6,265.2ZM519.8,250.3L531.7,250.3L532.7,265.2L520.5,265.2ZM805.4,250.3L817.3,250.3L826.4,265.2L814.2,265.2ZM202.3,265.2L214.6,265.2L208.1,280.2L195.6,280.2ZM195.6,280.2L208.1,280.2L202.8,295.2L190.1,295.2ZM796.4,280.2L821.4,280.2L827.4,295.2L801.9,295.2ZM215.6,295.2L228.3,295.2L224.7,310.3L211.8,310.3ZM292.1,295.2L304.8,295.2L302.2,310.3L289.3,310.3ZM572.5,295.2L585.2,295.2L586.4,310.3L573.5,310.3ZM789.2,295.2L801.9,295.2L806.1,310.3L793.1,310.3ZM82.6,310.3L95.5,310.3L91.7,325.3L78.7,325.3ZM222.1,325.3L248.2,325.3L246.2,340.4L220,340.4ZM588.9,385.5L602.2,385.5L602.1,400.5L588.8,400.5ZM811.5,430.6L824.6,430.6L822,445.7L809,445.7ZM782.9,445.7L809,445.7L806.1,460.7L780.2,460.7ZM819,460.7L831.9,460.7L827.4,475.8L814.7,475.8ZM844.8,460.7L857.7,460.7L852.9,475.8L840.2,475.8ZM852.9,475.8L865.7,475.8L859,490.8L846.5,490.8ZM850.9,505.8L863.1,505.8L853,520.7L841.1,520.7ZM662.6,520.7L674.5,520.7L668.9,535.4L657.3,535.4Z"/>
<path fill="#de4949" d="M181.1,180.8L190.7,180.8L173.2,193.7L163.1,193.7ZM506.1,193.7L526.3,193.7L527.8,207.2L506.6,207.2ZM527.8,207.2L538.4,207.2L540.3,221.2L529.3,221.2ZM591.4,207.2L602,207.2L606.9,221.2L595.8,221.2ZM708.1,207.2L729.3,207.2L739.9,221.2L717.7,221.2ZM518.2,221.2L540.3,221.2L542.1,235.6L519,235.6ZM606.9,221.2L618,221.2L622.8,235.6L611.2,235.6ZM629,221.2L651.2,221.2L657.3,235.6L634.3,235.6ZM673.4,221.2L684.5,221.2L691.9,235.6L680.4,235.6ZM530.6,235.6L565.1,235.6L567.4,250.3L531.7,250.3ZM749.5,235.6L761,235.6L769.7,250.3L757.8,250.3ZM591.2,250.3L603.1,250.3L606.1,265.2L593.9,265.2ZM757.8,250.3L769.7,250.3L777.4,265.2L765.2,265.2Z"/>
<path fill="#b3b3f9" d="M333.8,180.8L343.3,180.8L334.6,193.7L324.5,193.7ZM124.9,207.2L135.5,207.2L119,221.2L108,221.2ZM474.8,207.2L496,207.2L496,221.2L473.8,221.2ZM246.1,250.3L258,250.3L251.3,265.2L239,265.2ZM341.3,250.3L353.2,250.3L349.2,265.2L336.9,265.2ZM239,265.2L251.3,265.2L245.7,280.2L233.1,280.2ZM471.5,265.2L483.8,265.2L483.5,280.2L471,280.2ZM233.1,280.2L245.7,280.2L241.1,295.2L228.3,295.2ZM658.7,280.2L683.8,280.2L687.2,295.2L661.7,295.2ZM483.3,295.2L508.7,295.2L508.9,310.3L483.1,310.3ZM661.7,295.2L674.5,295.2L676.9,310.3L664,310.3ZM687.2,295.2L712.7,295.2L715.6,310.3L689.8,310.3ZM676.9,310.3L689.8,310.3L691.6,325.3L678.6,325.3ZM715.6,310.3L728.5,310.3L730.7,325.3L717.7,325.3ZM767.3,310.3L780.2,310.3L782.9,325.3L769.9,325.3ZM456.9,325.3L483,325.3L482.9,340.4L456.6,340.4ZM704.7,325.3L717.7,325.3L719.5,340.4L706.3,340.4ZM443.4,340.4L456.6,340.4L456.3,355.4L443.1,355.4ZM469.7,340.4L482.9,340.4L482.8,355.4L469.6,355.4ZM681,355.4L694.3,355.4L694.9,370.5L681.6,370.5ZM760.3,355.4L773.6,355.4L774.4,370.5L761.2,370.5ZM800,355.4L813.2,355.4L814.2,370.5L801,370.5ZM956.1,430.6L969.2,430.6L965.5,445.7L952.5,445.7ZM326.5,445.7L339.5,445.7L341,460.7L328,460.7ZM926.4,445.7L939.4,445.7L935.3,460.7L922.3,460.7ZM547.7,460.7L560.6,460.7L559.7,475.8L547,475.8ZM922.3,460.7L935.3,460.7L929.4,475.8L916.6,475.8ZM292.1,475.8L304.8,475.8L308.2,490.8L295.7,490.8ZM912.1,505.8L936.5,505.8L924.4,520.7L900.6,520.7ZM329.4,520.7L341.3,520.7L346.2,535.4L334.7,535.4ZM334.7,535.4L346.2,535.4L351.9,549.8L340.8,549.8ZM778.4,577.3L788.5,577.3L772.7,590.2L763.2,590.2ZM515.1,590.2L524.6,590.2L522.8,602.4L513.9,602.4Z"/>
<path fill="#d83434" d="M543.7,180.8L562.8,180.8L566.6,193.7L546.4,193.7ZM546.4,193.7L566.6,193.7L570.2,207.2L549,207.2ZM517.2,207.2L527.8,207.2L529.3,221.2L518.2,221.2ZM540.3,221.2L551.4,221.2L553.6,235.6L542.1,235.6ZM573.6,221.2L584.7,221.2L588.2,235.6L576.7,235.6ZM581.7,265.2L606.1,265.2L608.7,280.2L583.6,280.2ZM777.4,265.2L789.7,265.2L796.4,280.2L783.9,280.2Z"/>
<path fill="#9e9ef4" d="M163.1,193.7L173.2,193.7L156.7,207.2L146.1,207.2ZM294.3,193.7L304.3,193.7L294.5,207.2L283.9,207.2ZM199.1,207.2L220.3,207.2L207.7,221.2L185.6,221.2ZM196.7,221.2L207.7,221.2L196.4,235.6L184.9,235.6ZM231,235.6L242.5,235.6L234.2,250.3L222.3,250.3ZM649,295.2L661.7,295.2L664,310.3L651,310.3ZM827.4,295.2L840.2,295.2L844.8,310.3L831.9,310.3ZM852.9,295.2L865.7,295.2L870.7,310.3L857.7,310.3ZM806.1,310.3L831.9,310.3L835.1,325.3L809,325.3ZM883.6,310.3L896.5,310.3L900.3,325.3L887.2,325.3ZM809,325.3L822,325.3L824.6,340.4L811.5,340.4ZM99.5,415.6L112.7,415.6L114.8,430.6L101.6,430.6ZM143.9,445.7L156.9,445.7L160.1,460.7L147.2,460.7ZM121.3,460.7L134.3,460.7L139.1,475.8L126.3,475.8ZM343,475.8L368.5,475.8L370.8,490.8L345.8,490.8ZM534.2,475.8L547,475.8L546.1,490.8L533.6,490.8ZM333.3,490.8L358.3,490.8L361.4,505.8L336.9,505.8ZM400.6,563.8L411.2,563.8L415.3,577.3L405.2,577.3ZM677.6,577.3L687.7,577.3L677.3,590.2L667.7,590.2ZM717.9,577.3L728,577.3L715.5,590.2L705.9,590.2Z"/>
<path fill="#ffc8c8" d="M183.3,193.7L193.4,193.7L177.9,207.2L167.3,207.2ZM484.9,221.2L496,221.2L496,235.6L484.5,235.6ZM207.9,235.6L219.4,235.6L210.4,250.3L198.5,250.3ZM484.5,235.6L496,235.6L496,250.3L484.1,250.3ZM634.3,235.6L645.8,235.6L650.7,250.3L638.8,250.3ZM668.9,235.6L680.4,235.6L686.4,250.3L674.5,250.3ZM234.2,250.3L246.1,250.3L239,265.2L226.8,265.2ZM472.2,250.3L496,250.3L496,265.2L471.5,265.2ZM615,250.3L626.9,250.3L630.6,265.2L618.4,265.2ZM638.8,250.3L650.7,250.3L655.1,265.2L642.8,265.2ZM674.5,250.3L686.4,250.3L691.8,265.2L679.6,265.2ZM226.8,265.2L239,265.2L233.1,280.2L220.6,280.2ZM422.6,265.2L434.8,265.2L433.4,280.2L420.9,280.2ZM483.8,265.2L508.2,265.2L508.5,280.2L483.5,280.2ZM642.8,265.2L655.1,265.2L658.7,280.2L646.2,280.2ZM508.5,280.2L521,280.2L521.5,295.2L508.7,295.2ZM558.6,280.2L571.1,280.2L572.5,295.2L559.7,295.2ZM733.8,280.2L746.3,280.2L750.9,295.2L738.2,295.2ZM725.4,295.2L750.9,295.2L754.4,310.3L728.5,310.3ZM224.7,310.3L237.6,310.3L235.2,325.3L222.1,325.3ZM276.4,310.3L289.3,310.3L287.3,325.3L274.3,325.3ZM664,310.3L676.9,310.3L678.6,325.3L665.5,325.3ZM741.5,310.3L767.3,310.3L769.9,325.3L743.8,325.3ZM793.1,310.3L806.1,310.3L809,325.3L796,325.3ZM78.7,325.3L91.7,325.3L88.5,340.4L75.4,340.4ZM287.3,325.3L300.4,325.3L298.8,340.4L285.7,340.4ZM326.5,325.3L339.5,325.3L338.3,340.4L325.1,340.4ZM678.6,325.3L691.6,325.3L693.2,340.4L680,340.4ZM743.8,325.3L782.9,325.3L785.2,340.4L745.8,340.4ZM272.5,340.4L312,340.4L311,355.4L271.3,355.4ZM325.1,340.4L351.4,340.4L350.6,355.4L324.2,355.4ZM509.1,340.4L535.4,340.4L535.7,355.4L509.2,355.4ZM693.2,340.4L706.3,340.4L707.5,355.4L694.3,355.4ZM811.5,340.4L824.6,340.4L826.4,355.4L813.2,355.4ZM864.1,340.4L877.2,340.4L879.3,355.4L866.1,355.4ZM496,355.4L509.2,355.4L509.3,370.5L496,370.5ZM813.2,355.4L826.4,355.4L827.5,370.5L814.2,370.5ZM839.6,355.4L866.1,355.4L867.3,370.5L840.7,370.5ZM932.2,355.4L945.4,355.4L946.8,370.5L933.6,370.5ZM283.9,370.5L297.1,370.5L296.8,385.5L283.6,385.5ZM350.1,370.5L363.4,370.5L363.2,385.5L349.9,385.5ZM761.2,370.5L774.4,370.5L774.8,385.5L761.6,385.5ZM787.7,370.5L801,370.5L801.4,385.5L788.1,385.5ZM363.2,385.5L376.5,385.5L376.7,400.5L363.4,400.5ZM522.6,385.5L535.8,385.5L535.8,400.5L522.5,400.5ZM642.1,385.5L655.3,385.5L655.1,400.5L641.9,400.5ZM20.2,415.6L46.6,415.6L49.1,430.6L22.8,430.6ZM615,415.6L628.2,415.6L627.5,430.6L614.3,430.6ZM641.4,415.6L654.6,415.6L653.7,430.6L640.6,430.6ZM958.6,415.6L971.8,415.6L969.2,430.6L956.1,430.6ZM338.3,430.6L351.4,430.6L352.5,445.7L339.5,445.7ZM640.6,430.6L653.7,430.6L652.5,445.7L639.5,445.7ZM824.6,430.6L837.8,430.6L835.1,445.7L822,445.7ZM313.4,445.7L326.5,445.7L328,460.7L315.1,460.7ZM639.5,445.7L652.5,445.7L651,460.7L638.1,460.7ZM366.8,460.7L379.7,460.7L381.3,475.8L368.5,475.8ZM560.6,460.7L573.5,460.7L572.5,475.8L559.7,475.8ZM547,475.8L572.5,475.8L571.1,490.8L546.1,490.8ZM814.7,475.8L852.9,475.8L846.5,490.8L808.9,490.8ZM865.7,475.8L878.4,475.8L871.5,490.8L859,490.8ZM846.5,490.8L859,490.8L850.9,505.8L838.6,505.8ZM324.7,505.8L336.9,505.8L341.3,520.7L329.4,520.7ZM471.5,505.8L483.8,505.8L484.1,520.7L472.2,520.7ZM566.6,577.3L576.7,577.3L572.3,590.2L562.8,590.2Z"/>
<path fill="#8989ee" d="M213.6,193.7L223.6,193.7L209.7,207.2L199.1,207.2ZM324.5,193.7L334.6,193.7L326.3,207.2L315.7,207.2ZM354.8,193.7L364.9,193.7L358.2,207.2L347.5,207.2ZM251.3,265.2L263.5,265.2L258.2,280.2L245.7,280.2ZM288,265.2L300.2,265.2L295.7,280.2L283.2,280.2ZM245.7,280.2L258.2,280.2L253.8,295.2L241.1,295.2ZM228.3,295.2L241.1,295.2L237.6,310.3L224.7,310.3ZM689.8,310.3L702.7,310.3L704.7,325.3L691.6,325.3ZM691.6,325.3L704.7,325.3L706.3,340.4L693.2,340.4ZM302.2,460.7L315.1,460.7L317.5,475.8L304.8,475.8ZM341,460.7L353.9,460.7L355.8,475.8L343,475.8ZM317.5,475.8L330.3,475.8L333.3,490.8L320.8,490.8ZM368.8,563.8L379.4,563.8L385,577.3L375,577.3ZM617,577.3L627.1,577.3L620,590.2L610.5,590.2ZM647.3,577.3L657.4,577.3L648.7,590.2L639.1,590.2Z"/>
<path fill="#e35e5e" d="M748.2,193.7L758.3,193.7L771.7,207.2L761.1,207.2ZM506.6,207.2L517.2,207.2L518.2,221.2L507.1,221.2ZM538.4,207.2L549,207.2L551.4,221.2L540.3,221.2ZM559.6,207.2L570.2,207.2L573.6,221.2L562.5,221.2ZM739.9,207.2L750.5,207.2L762.1,221.2L751,221.2ZM507.1,221.2L518.2,221.2L519,235.6L507.5,235.6ZM728.8,221.2L739.9,221.2L749.5,235.6L738,235.6ZM519,235.6L530.6,235.6L531.7,250.3L519.8,250.3ZM579.3,250.3L591.2,250.3L593.9,265.2L581.7,265.2ZM745.9,250.3L757.8,250.3L765.2,265.2L753,265.2ZM789.7,265.2L801.9,265.2L808.9,280.2L796.4,280.2ZM771.4,280.2L783.9,280.2L789.2,295.2L776.4,295.2Z"/>
<path fill="#1f1fd3" d="M230.9,207.2L241.5,207.2L229.9,221.2L218.8,221.2ZM294.5,207.2L305.1,207.2L296.4,221.2L285.3,221.2ZM357.7,235.6L380.8,235.6L377,250.3L353.2,250.3ZM269.9,250.3L281.8,250.3L275.7,265.2L263.5,265.2Z"/>
<path fill="#0a0acd" d="M252.1,207.2L262.7,207.2L252.1,221.2L241,221.2ZM347.5,207.2L358.2,207.2L351.9,221.2L340.8,221.2ZM340.8,221.2L351.9,221.2L346.2,235.6L334.7,235.6ZM281.8,250.3L305.6,250.3L300.2,265.2L275.7,265.2Z"/>
<path fill="#00008c" d="M283.9,207.2L294.5,207.2L285.3,221.2L274.3,221.2ZM326.3,207.2L336.9,207.2L329.7,221.2L318.6,221.2ZM252.1,221.2L274.3,221.2L265.5,235.6L242.5,235.6ZM307.5,221.2L318.6,221.2L311.6,235.6L300.1,235.6ZM277,235.6L311.6,235.6L305.6,250.3L269.9,250.3ZM323.1,235.6L346.2,235.6L341.3,250.3L317.5,250.3Z"/>
<path fill="#cd0a0a" d="M686.9,207.2L697.5,207.2L706.7,221.2L695.6,221.2Z"/>
<path fill="#c8c8ff" d="M845.9,207.2L856.5,207.2L873,221.2L861.9,221.2ZM207.7,221.2L218.8,221.2L207.9,235.6L196.4,235.6ZM462.7,221.2L484.9,221.2L484.5,235.6L461.4,235.6ZM219.4,235.6L231,235.6L222.3,250.3L210.4,250.3ZM829.2,250.3L853,250.3L863.1,265.2L838.6,265.2ZM508.2,265.2L532.7,265.2L533.6,280.2L508.5,280.2ZM655.1,265.2L667.3,265.2L671.2,280.2L658.7,280.2ZM704,265.2L716.3,265.2L721.3,280.2L708.8,280.2ZM445.9,280.2L458.4,280.2L457.8,295.2L445,295.2ZM471,280.2L496,280.2L496,295.2L470.5,295.2ZM279.3,295.2L292.1,295.2L289.3,310.3L276.4,310.3ZM445,295.2L457.8,295.2L457.2,310.3L444.3,310.3ZM674.5,295.2L687.2,295.2L689.8,310.3L676.9,310.3ZM814.7,295.2L827.4,295.2L831.9,310.3L819,310.3ZM508.9,310.3L521.8,310.3L522.1,325.3L509,325.3ZM702.7,310.3L715.6,310.3L717.7,325.3L704.7,325.3ZM443.8,325.3L456.9,325.3L456.6,340.4L443.4,340.4ZM456.6,340.4L469.7,340.4L469.6,355.4L456.3,355.4ZM482.9,340.4L509.1,340.4L509.2,355.4L482.8,355.4ZM706.3,340.4L719.5,340.4L720.7,355.4L707.5,355.4ZM745.8,340.4L758.9,340.4L760.3,355.4L747.1,355.4ZM535.8,370.5L549,370.5L549.1,385.5L535.8,385.5ZM296.8,385.5L310.1,385.5L310.4,400.5L297.1,400.5ZM323.4,385.5L336.7,385.5L336.9,400.5L323.6,400.5ZM124.7,400.5L138,400.5L139.1,415.6L125.9,415.6ZM283.9,400.5L297.1,400.5L297.7,415.6L284.5,415.6ZM403.2,400.5L416.4,400.5L416.7,415.6L403.5,415.6ZM284.5,415.6L311,415.6L312,430.6L285.7,430.6ZM390.3,415.6L403.5,415.6L404,430.6L390.8,430.6ZM588.5,415.6L601.7,415.6L601.2,430.6L588,430.6ZM101.6,430.6L114.8,430.6L117.8,445.7L104.8,445.7ZM298.8,430.6L312,430.6L313.4,445.7L300.4,445.7ZM364.6,430.6L390.8,430.6L391.7,445.7L365.6,445.7ZM877.2,430.6L890.4,430.6L887.2,445.7L874.2,445.7ZM874.2,445.7L900.3,445.7L896.5,460.7L870.7,460.7ZM913.3,445.7L926.4,445.7L922.3,460.7L909.4,460.7ZM30.9,460.7L43.8,460.7L49.9,475.8L37.1,475.8ZM211.8,460.7L224.7,460.7L228.3,475.8L215.6,475.8ZM780.2,460.7L793.1,460.7L789.2,475.8L776.4,475.8ZM304.8,475.8L317.5,475.8L320.8,490.8L308.2,490.8ZM308.2,490.8L333.3,490.8L336.9,505.8L312.4,505.8ZM921.6,490.8L946.6,490.8L936.5,505.8L912.1,505.8ZM312.4,505.8L324.7,505.8L329.4,520.7L317.5,520.7ZM317.5,520.7L329.4,520.7L334.7,535.4L323.1,535.4ZM579.3,520.7L591.2,520.7L588.2,535.4L576.7,535.4ZM323.1,535.4L334.7,535.4L340.8,549.8L329.7,549.8Z"/>
<path fill="#5e5ee3" d="M241,221.2L252.1,221.2L242.5,235.6L231,235.6ZM312.4,265.2L324.7,265.2L320.8,280.2L308.2,280.2ZM258.2,280.2L295.7,280.2L292.1,295.2L253.8,295.2ZM241.1,295.2L266.6,295.2L263.5,310.3L237.6,310.3ZM442.4,602.4L451.3,602.4L454.8,613.5L446.5,613.5Z"/>
<path fill="#4949de" d="M351.9,221.2L363,221.2L357.7,235.6L346.2,235.6ZM265.5,235.6L277,235.6L269.9,250.3L258,250.3ZM317.5,250.3L329.4,250.3L324.7,265.2L312.4,265.2ZM263.5,265.2L288,265.2L283.2,280.2L258.2,280.2ZM300.2,265.2L312.4,265.2L308.2,280.2L295.7,280.2ZM295.7,280.2L308.2,280.2L304.8,295.2L292.1,295.2ZM315.1,460.7L341,460.7L343,475.8L317.5,475.8Z"/>
<path fill="#3434d8" d="M363,221.2L374,221.2L369.2,235.6L357.7,235.6ZM305.6,250.3L317.5,250.3L312.4,265.2L300.2,265.2Z"/>
<path fill="#7474e9" d="M242.5,235.6L265.5,235.6L258,250.3L234.2,250.3ZM258,250.3L269.9,250.3L263.5,265.2L251.3,265.2ZM329.4,250.3L341.3,250.3L336.9,265.2L324.7,265.2ZM330.3,475.8L343,475.8L345.8,490.8L333.3,490.8Z"/>
<path fill="#f49e9e" d="M496,235.6L507.5,235.6L507.9,250.3L496,250.3ZM691.9,235.6L703.4,235.6L710.2,250.3L698.3,250.3ZM726.5,235.6L738,235.6L745.9,250.3L734,250.3ZM198.5,250.3L222.3,250.3L214.6,265.2L190.1,265.2ZM507.9,250.3L519.8,250.3L520.5,265.2L508.2,265.2ZM531.7,250.3L543.6,250.3L544.9,265.2L532.7,265.2ZM734,250.3L745.9,250.3L753,265.2L740.7,265.2ZM214.6,265.2L226.8,265.2L220.6,280.2L208.1,280.2ZM544.9,265.2L557.2,265.2L558.6,280.2L546.1,280.2ZM569.4,265.2L581.7,265.2L583.6,280.2L571.1,280.2ZM740.7,265.2L753,265.2L758.9,280.2L746.3,280.2ZM208.1,280.2L220.6,280.2L215.6,295.2L202.8,295.2ZM571.1,280.2L596.1,280.2L598,295.2L572.5,295.2ZM297.7,355.4L311,355.4L310.4,370.5L297.1,370.5ZM297.1,370.5L310.4,370.5L310.1,385.5L296.8,385.5ZM389.8,385.5L403.1,385.5L403.2,400.5L389.9,400.5ZM839.6,415.6L852.9,415.6L850.9,430.6L837.8,430.6ZM859,490.8L871.5,490.8L863.1,505.8L850.9,505.8Z"/>
</g>
<path d="M209.9,238.5 214.2,238.5 218.6,238.5 222.9,238.5 227.3,238.5 231.6,238.5 236,238.5 240.3,238.5 244.7,238.5 249.1,238.5 253.4,238.5 257.8,238.5 262.1,238.5 266.5,238.5 270.8,238.5 275.2,238.5 276.4,237.6 276,239.4 279.6,239.7 282.4,241.2 286.7,241.5 289.9,240.6 293.1,242.6 296.3,244.7 296.7,245.9 298.4,247 300,249.4 298.8,252.8 297.6,256.2 296.9,257.4 295,258.6 295.4,260.1 300.6,258.5 305.8,256.8 306.1,255.3 305.8,254.7 308.8,254.6 311.7,254.4 313.5,252.7 317.5,250.3 321.7,250.3 325.8,250.3 327.9,249.1 329.6,247.6 331.1,245.3 333.8,243.1 335.8,243.4 336.7,244.1 335.3,248.2 335.9,249.4 336.5,250.6 M225.7,181.8 219.9,186.5 214.2,191.4 208.6,196.3 203.2,201.3 197.8,206.4 201.3,206.9 201.4,210.3 208.1,207.8 208.5,209.7 208.9,211.6 208,216.4 210.2,218.4 208,220.6 M200,287.7 203.2,287.4 206.3,287.1 210.2,289.2 214.2,291.3 217.8,291.3 221.3,291.3 221.8,289.8 226.1,289.8 229.1,293.4 230.3,297.3 232.1,298.2 234.8,295.8 237.3,295.8 239,300.3 240.5,302.7 240.8,306.1 245.4,307.6 M253.4,341.9 253.7,339.5 255.3,337 258.7,337 258.8,336.1 256.5,333.7 257.6,333.6 257.8,331.9 262.6,331.9 261.9,337.6 264.4,338.3 M262.6,331.9 263.6,331.6 265.1,329.8 M261.3,342.2 258.7,344.1 M261.7,340.1 261.3,342.2 263,343.7 264.7,345.2 M265.9,346.4 269.6,343.7 272.4,341.3 277.3,340.4 M269.7,352.1 274.9,352.7 M276.6,361.1 277.6,356.9 M306,350.6 304.8,352.1 302.9,357.8 304.4,360.5 304.3,363.2 307.3,363.8 310.3,364.4 312.1,367.1 317.4,367.1 316.2,372 317.4,375.3 316,377.1 317.9,380.1 318.4,381.9 M318.4,381.9 314.5,381.1 310.7,380.4 310.7,382.2 312.5,383.7 310.1,384 310.1,386.1 311.7,388.5 311.1,393.3 310.6,398.1 M310.6,398.1 308.4,396.9 305.4,394.8 302.5,392.7 299.9,389.4 297.4,386.1 296,385.8 293.4,384.3 290.5,384.3 286.8,381.3 M296,385.8 296.3,388.2 295.3,390 292.7,393.3 289.5,394.5 288,395.7 287.3,399.3 284.9,398.7 282.7,398.7 282.9,395.7 M310.6,398.1 306.6,399.6 302.7,401.1 302,403.9 300,407.8 303.2,413.8 306.4,413.9 309.6,413.9 309.5,418.6 312.4,418.5 M312.4,418.5 314.8,423.1 314.3,426.7 313.8,430 313.2,432.4 315.5,434.6 313.6,437.6 311.9,440.7 M313.6,437.6 315.2,440.3 317.2,444.2 317.6,448.4 319.8,454.1 321.6,454.1 M312.4,418.5 315.1,418.9 319.2,416.9 323.4,415 323.4,420.7 326.4,423.1 330.5,424.6 333.6,425.8 336.7,427 337.4,430.8 338,434.6 342.8,434.6 343.5,437.9 345.6,440.3 344.1,445.1 344.2,446.3 M344.2,446.3 341.7,443.6 338.3,444 335,444.5 334.2,448.5 333.4,452.5 329.1,454.1 328.4,452 325,452 321.6,454.1 M321.6,454.1 321.7,457.7 319.1,459.2 319.5,464.6 318.5,467.8 317.5,471 317.8,477 317.2,480.3 319.6,485.7 320.8,488.7 320,491.7 319.4,495.3 320.1,498.8 321,502.2 320.3,505.8 322.1,511.8 324.3,517.7 326.3,522.2 327.1,527.5 326.8,533.1 328.1,537.4 330.6,538.3 332.5,541.2 336.7,541.6 341,542.1 M341,543.1 342.3,546.3 343.8,549.5 M333.4,452.5 338,457.1 341,458.6 344,460.1 347.3,461.9 345.4,467.4 348.3,467.7 351.1,468 355.1,462.5 M344.2,446.3 345.5,452 348.3,452.3 351,452.6 352.6,457.7 355.4,458 355.1,462.5 357.6,464.3 357.7,467.2 353,470.7 349.3,476.4 349.1,479.8 348.9,483.3 349.2,487.5 M349.3,476.4 353.7,478.5 354.7,478.5 359.2,481.5 361.4,483.9 361.6,486.9 M337.2,359.9 335.3,362.9 333.3,367.7 335,369.9 331.5,373.2 329.4,374.4 324.6,373.2 327.7,378.3 325.6,378 326.1,380.7 322.1,383.1 318.4,381.9 M335,369.9 336.9,370.5 337.9,373.8 337,378.6 339.3,381.6 342,381 346,379.8 347.6,379.8 351.3,378.6 355.6,378.9 358,375 359.1,372.9 M344.4,367.4 344,370.5 342.1,373.5 344.1,376.6 346,379.8 M352.9,368 351.7,370.8 352.2,375 351.3,378.6 M490.5,279.9 491.7,284.1 493,288 488.4,289.8 486.8,292.5 482,295.5 477.9,297.3 473.8,299.1 473.7,303.3 478.6,306.8 483.6,310.3 488.7,314.2 493.9,318.1 499.1,322 499.1,323.2 504.3,325.9 504.6,328.3 507,327.9 511.1,326.8 515.5,322.6 519.4,320 523.3,317.4 527.1,314.8 522.6,311.5 520.2,306.7 521.5,304.5 521.4,300.3 520.2,294.6 519,288.9 514.9,283.8 516.8,281.1 516.4,275.7 517.4,274.5 M473.7,302.2 469.9,302.2 466,302.2 462.1,302.2 M473.6,307.3 469.4,307.3 465.1,307.3 465,311.1 464.9,314.9 462.3,316.3 461.9,321.3 456.8,321.3 451.8,321.3 M520.2,294.6 522.1,290.1 525.1,288 525,285.7 M559.4,290.4 558.9,294.6 559.9,297.6 560.2,303.2 560.5,308.7 560.8,314.2 561,319.8 561.2,325.3 558.6,325.3 558.7,326.8 553.3,323.8 548,320.9 542.7,317.9 537.5,314.9 534.9,316.3 532.9,317.5 530,316.1 527.1,314.8 M561,319.3 566.1,319.3 571.3,319.3 576.4,319.3 581.6,319.3 586.8,319.3 591.9,319.3 M483.6,310.3 479.2,310.3 479.7,315.4 480.1,320.5 480.6,325.6 481.1,330.7 481.6,335.8 481.3,338.9 476.4,338.9 471.6,338.9 467.9,339.2 465.8,338.6 463.9,341 M463.9,341 459.8,337 458.5,335.5 455.6,336.3 452.7,337 M463.9,341 464.9,344.6 465.9,348.2 465.9,349.4 462.9,348.3 459.9,347.3 456.5,347.3 452,348.3 M451.8,344.6 456.5,344 459.6,345.2 456.5,345.5 452,346.1 M459.9,347.3 459.8,350.3 456.4,352.4 M465.9,348.2 468.8,348.8 472.8,350.6 474.9,354.8 474,359.9 475.6,360.2 474,362.6 475.1,366.5 476.1,370.5 M460.8,358.4 463,355.7 466.4,355.4 467.7,360.5 465.5,364.7 M467.7,360.5 468.7,359.9 471.1,363.2 474,362.6 M474.9,354.8 479.6,353.6 481.5,354.2 481.5,351.2 484.7,347.3 485.5,345.2 488.6,343.4 490.7,342.8 494.2,340.4 496.5,340.4 499.4,339.5 502.3,339.3 505.2,339.2 507,335.5 507,331.7 507,327.9 M481.5,354.2 483.8,356.3 488.9,356.9 488.6,352.4 492,352.2 495.5,352.1 498.4,352.4 502.3,349.7 503.4,348.2 505.5,350.3 505.5,355.4 504.3,358.6 503.1,361.7 503.2,366.2 M488.9,356.9 489.4,360.8 487.5,365 488.6,370.2 M495.5,352.1 496.4,356.3 497.3,360.5 497.9,365.6 499.2,367.1 M498.4,352.4 498.1,354.2 500.2,358.4 500.2,362.6 500.2,366.8 M496.5,340.4 496.5,344.3 498.6,345.2 501.5,348.2 502.3,349.7 M505.5,350.3 506.5,344.9 510.2,345.5 513.9,346.1 516.8,346.5 519.7,347 524.3,346.5 528.9,346.1 531.8,344.3 531.5,342.2 534.1,338.4 536.6,334.6 536.5,330 536.4,325.3 535.7,320.8 534.9,316.3 M531.8,344.3 533.2,346.4 533.4,348.2 534.5,350.9 532.4,352.4 530.1,357.2 528.7,360.8 527.3,364.4 524.1,364.4 522,365 518.8,371.1 M533.4,348.2 535.6,352.4 537,355.4 532.8,356.6 534.5,359.8 536.3,362.9 534.2,367.4 535,371.7 536.1,374.4 538.7,378.9 539,380.4 535.2,379.6 531.3,378.9 526,378.9 526,382.5 522,382.5 M522,378.6 526,378.9 M531.3,378.9 534.2,381.6 534.5,387.3 532.9,392.7 527.9,392.4 526.8,394.5 525.5,397.2 M539,380.4 543.3,384.6 543,387 539,392.1 539,395.7 534.2,398.4 534.2,400.2 530.5,399.3 528.3,403 M537,355.4 539,358.9 541,362.3 545.2,361.4 546.3,358.4 550,358.1 553.3,353.6 556.5,352.4 555.3,347.6 553.5,347 554.2,344 555.2,343.1 556.1,338.3 559,338.3 558.9,332.5 558.7,326.8 M556.5,352.4 557.6,355.9 558.7,359.3 562.5,361.7 565.6,365.8 568.7,369.9 565.9,370.2 563.1,370.5 559.9,370.8 556.7,371.1 555.4,373.2 550.6,372.3 545.3,372.6 545.4,375 544.3,379.8 543.3,384.6 M568.7,369.9 571.3,372.6 574.2,371.4 578,375 577.8,378.3 579.1,378.9 576.9,383.5 574.6,388.2 574.6,389.7 573,393.6 573.7,398.7 573.9,403.6 575.7,406.9 577.5,410.2 M558.7,359.3 561.1,360.8 565.8,356.6 569.8,356.6 572.4,357.2 574,356 578.5,356 581.6,352.1 580.7,349.4 583.6,348.8 583.2,354.5 586.2,356.9 586.2,359.9 583.4,362 586.1,363.8 588.8,368.9 586.2,372.9 584.9,374.1 581.4,374.5 578,375 M591.9,319.3 592.3,324.7 592.8,330.1 597,331.3 M592,340.4 592,344 592,347.6 588.6,350 586.1,355.4 M586.2,356.9 586.1,355.4 M597,331.3 593,334.3 592,340.4 595.7,340.7 598.6,341.6 603.4,342.8 607.8,347.9 609.6,347.3 M607.8,347.9 606.4,352.4 609.6,352.4 609.1,355.4 612.4,358.4 616.4,359.9 620.4,361.4 623.1,361.4 619.2,365.9 615.3,370.5 610.1,371.7 607.4,373.5 604.8,373.8 604.8,378.5 604.9,383.2 604.9,387.9 606.4,390.6 M610.3,350.9 609.6,352.4 M604.8,373.8 600.8,375.3 597.1,374.7 594.3,373.5 591.5,372.3 588.8,368.9 M586.2,372.9 587.6,376.3 588.9,379.8 586.3,385.2 586.3,388.5 591.2,391.7 596.1,394.8 595.8,396 600,399.6 M586.3,388.5 581.6,388.5 577,388.5 574.6,389.7 M577,388.5 577.8,392.7 576.7,392.7 576.9,396 574,398.9 M576.7,392.7 573,393.6 M577.5,410.2 582,413.5 585.9,414.1 586.6,417.3 587.3,420.4 591.1,420.6 595,420.7 598.9,418.9 602.7,417.1 M577.5,410.2 572.5,411.1 571.1,413.5 571.8,417.4 570.9,421 572.5,422.8 574.6,422.2 574.5,425.8 570.9,423.1 567.8,420.4 562.8,419.2 560.2,419.5 559.4,418.3 554.9,419.2 554,424.6 559.3,424.6 558.6,429.2 557.9,433.9 557.3,438.5 M554.9,419.2 554.3,413.3 553.7,407.5 550.7,407 547.7,406.6 546.3,409.6 542.3,409.9 541.2,406.6 540,403.3 535.2,403.3 530.5,403.3 528.3,403 M585.9,414.1 583.3,414.1 584,418 583.8,423.4 582.1,426.4 583.4,427.6 579.4,428.8 575.4,430 575.9,432.4 571.9,433.4 566.7,439.4 562.2,439.1 557.3,438.5 M587.3,420.4 586.7,422.2 588.6,426.3 590.4,430.3 590,433.7 588.5,437 587.4,432.9 586.2,428.8 583.4,427.6 M575.9,432.4 579.1,434.1 582.3,435.8 581.8,439.7 582.1,445.1 580.6,449.6 577.3,452.9 572.4,452.3 568.8,450.5 568.2,447.2 564.5,442.7 562.2,439.1 M577.3,452.9 578,456.1 578.8,459.2 578.3,463.4 578.6,466.2 580.6,466.5 M578.3,463.4 575.2,466.2 576.4,467.7 578.6,466.2 M572.4,452.3 569,455.5 565.6,458.6 562.1,462.5 558.7,462.1 555.4,461.6 552.4,463.9 549.5,466.2 547.7,460.1 547.5,465.6 547.2,471 542.7,471.3 538.2,471.6 M547.7,460.1 547.8,455.9 548,451.7 550.6,451.7 550.8,446.1 550.9,440.6 554.1,439.5 557.3,438.5 M550.9,440.6 547.7,439.2 544.5,437.9 540.7,437.9 537,437.9 533.2,437.9 530.1,437.7 526.9,437.6 M557.3,438.5 562.2,439.1 M564.9,474.6 567.5,477.6 570.5,475.5 571.1,474 569.2,471.6 566.3,473.4 564.9,474.6 M474.4,259.5 476.1,259.2 480,259.5 481,260.4 479.2,262.2 479.1,264.6 478.8,266.1 477.6,266.4 478.8,268.2 478,270 478.7,270.6 477.4,272.7 477.6,273.6 M491.7,255 494.3,256.5 497.7,256.8 499.6,258 503.7,258 M501.7,232.4 502.9,233.3 505.7,234.7 507.1,235.6 509.4,237.1 510.8,237.1 515,238.5 513.8,242.6 512.4,243.2 510.2,246.2 510.4,246.7 512.6,247.6 512.2,250 512.7,252.7 514,253.8 M503.8,231.5 505.8,231.5 507.4,231.3 509.5,232.7 509.7,233.3 510.7,234.7 510,235.3 510.8,237.1 M509.7,233.3 511.7,229.8 511.8,228.1 512.2,226.4 M515.3,221.5 516.9,221.8 M527.8,224.4 528.4,226.4 529,228.1 529.4,230.4 530.3,232.7 528.7,232.7 526.3,233.7 523.8,234.7 524.9,236.5 528.1,239.1 526.3,240.6 526.5,242.9 523.5,242.9 520.6,242.9 518.5,242.9 516.1,242.3 513.8,242.6 M530.3,232.7 534.8,234.4 538.9,235.9 539.7,237.1 535.6,239.7 535.3,239.7 530.8,238.5 528.1,239.1 M512.6,247.6 516.1,246.7 517.3,247.9 519.8,245.6 520.7,244.7 524.4,244.4 528.3,245.9 528.2,247.9 528.5,248.5 M518.5,242.9 518.3,244.1 520.7,244.7 M528.3,245.9 530.2,246.2 533.9,244.7 534,246.2 532.3,248.8 528.3,248.8 M535.3,239.7 536.2,241.5 533.9,244.7 M536.2,241.5 540,242 543.7,240 547.5,240.3 548.4,238.2 544.1,237.6 539.7,237.1 M539.7,222.8 543.2,222.9 546.8,222.9 548.6,224.4 550,227.8 548.6,228.9 549.8,231.3 551.2,233.3 548.4,238.2 M546.8,222.9 546.6,221.5 543.2,220.6 M548.6,224.4 550.9,222.9 553.3,221.5 554.6,219.2 550.8,217.5 546.5,217.8 542.1,218.1 M554.6,219.2 557.9,217.8 556.2,214.7 555.5,214.2 551.3,212.8 548.5,213 M555.5,214.2 555.3,209.1 555.9,208.9 M557.9,217.8 561,218.7 564.2,219.5 564.9,222.1 569.5,225.8 567.3,229.5 565.8,231.5 561.9,231.3 558,231 553.7,230.1 549.8,231.3 M567.3,229.5 569.9,229.1 572.5,228.7 577.8,234.4 582.2,234.7 585.5,235.8 588.7,236.8 589,241.5 585.8,244.1 M547.5,240.3 549.5,241.5 554.3,242.3 558,240.6 560.5,244.7 562.9,248.8 566.6,249.7 M558,240.6 560.8,240.3 564.3,241.7 567,246.2 564.4,247.3 562.9,248.8 M549.5,241.5 545.9,246.7 544,246.7 540.7,247.6 537.9,247.6 534,246.2 M545.9,246.7 547.1,249.7 549.6,251.2 550.3,252.7 553.1,253.4 556,254.1 560.6,253 564.6,254.1 M540.7,247.6 541.2,250.6 542.2,250.6 541.6,252.4 542.8,254.4 540.6,257.4 540.7,257.9 M533.6,249.7 534.1,251.2 538.4,256.2 540.6,257.4 M533.6,249.7 536.1,249.4 538.7,250 541.2,250.6 M550.3,252.7 550,256.8 550.2,258.3 546.8,258.6 545.9,259.5 545.4,256.8 542.3,254.7 M545.9,259.5 545.8,261.3 547.2,262.8 551.7,261.3 554.3,260.7 556.9,261 559.4,261.3 560,260.1 563.8,259.2 M550.2,258.3 551.7,261.3 M545.4,256.8 543,259.5 M547.2,262.8 545,266.1 M560,260.1 559.5,262.9 M535.7,183.1 534.9,184.8 531.1,184.6 529.4,186.5 527.6,188.4 525.2,192.9 523.9,196.4 520.8,197.4 521.2,200.9 521.6,204.5 522.6,206.1 521.2,209.4 520.4,210 M535.7,183.1 537,182.5 539.4,183.2 541.9,183.8 542.3,186.1 543.6,190.5 544.2,191.6 M537,182.5 539.8,182.6 542.7,182.7 545.5,182.8 545.6,180.8 549.4,180.5 552,183.3 552.3,185.4 554.8,186.6 553.5,188.7 556.3,191.8 555.8,194 558.4,196.4 561.1,199.3 557.9,202.4 554.6,205.6 M551.7,183.1 555.1,181.3 M584.7,275.1 587.2,274.8 590.4,274.8 595.4,274.8 598.3,274.3 601.2,273.9 604.2,273.7 607.1,273.6 605.6,270.3 604,267 605.8,266.1 602.9,264.9 601.9,261.9 599.3,261 596.8,260.7 M605.8,266.1 610.4,268.5 613.7,266.1 616.6,270 M601.9,261.9 605.4,261.3 608.7,259.8 611.3,259.8 613.8,259.8 M592.1,255 595.8,255.5 599.5,255.9 604.1,257.9 608.7,259.8 M607.1,273.6 609.2,277.2 611.5,277.8 610.1,283.2 612.3,286.2 616.8,289.2 617.2,292.2 618.4,295.2 619.7,295.4 M601.2,273.9 598.5,276 598.9,282 596.3,283.5 593.7,285 589.1,288.3 585.9,287.1 M593.7,285 595.2,288.6 592.5,289.6 589.9,290.7 592.7,293.7 591.6,295.2 588,297.6 585.4,296.7 M585.9,287.1 586.1,290.7 585.4,296.7 583.1,291.6 M585.9,287.1 586.5,285.3 587.9,282.6 586.3,281.4 M595.2,288.6 599.1,290.2 602.9,291.9 606.6,294.8 610.2,297.6 615.1,297.9 617.6,299.7 619.9,299.7 M615.1,297.9 617.6,295.2 618.4,295.2 M627.3,311.2 629.4,311.5 M629.6,313 632.5,316.6 635.9,316.9 639.3,317.2 640.8,319.3 639.5,325.3 635.7,326.8 631.9,328.3 634.3,333.4 635.3,335.5 M631.9,328.3 628.1,328.9 624.4,329.5 621,331.6 617.6,333.7 612.6,333.1 609.7,332.8 608.3,336.1 M639.3,317.2 640.4,312.7 640.7,310.6 641.7,310.3 M629.6,273.3 632.2,272.1 634.8,270.9 637.2,270.6 640.5,272.1 643.8,273.6 648.2,275.4 648.8,278.4 648.2,284.1 649.4,287.4 650.5,290.7 652.6,291 651.4,295.8 654,298.2 656.9,300.3 657.4,303.6 658.9,305.1 655.1,309.7 M651.4,295.8 655.6,297 660.4,296.3 665.1,295.5 664.8,292.5 668.2,291 671.5,289.5 671.3,286.2 673.1,285 674.5,282.3 675,279.3 674.4,276 677.8,275.1 681.2,274.2 682.7,274.2 M648.8,278.4 653.5,279 656.6,276.3 660.8,273 664.8,274.2 668.1,272.7 669.8,272.4 669.9,270 674,275.1 677.5,272.7 681.8,273.6 M624.1,258.3 628.5,259.2 632.1,261.3 634.6,261.3 637.3,256.8 641.9,259.1 646.5,261.3 651,264.7 655.6,268.2 660.3,271.2 660.8,273 M632.1,261.3 630.7,255.8 629.3,250.3 632.1,249.4 635,248.5 638.3,250.3 641.7,252.1 646.7,253.1 651.6,254.1 655.2,256.2 655.8,259.2 661.6,262.2 665.2,258.3 667.4,257.4 669.1,256.8 673.6,258 674.5,255.6 678.5,256.2 682.7,256.5 686.9,256.8 690.2,258.6 M661.6,262.2 664.7,264.6 667.7,262.5 671.1,262.6 674.4,262.8 672,263.7 669.6,264.6 669.1,266.4 673,266.5 676.8,266.7 676.7,265.5 680.1,264.4 683.4,263.4 686.8,261 690.2,258.6 M669.1,266.4 666,266.7 661.6,267.6 664.9,270.6 664.8,274.2 M676.8,266.7 678.2,269.7 680.7,270 681.8,273.6 M610.1,245.9 611.6,246.2 M604.3,240.3 605.2,237.9 603.6,234.7 607.8,233.9 609.7,232.3 611.6,230.7 614.8,231 618,231.3 621.9,232.7 626,232.7 630.1,232.7 633.4,232.7 636.7,232.7 633.6,227.2 634.7,224.4 638.1,223.8 641.4,223.2 644.3,222.2 647.2,221.2 649.9,220.8 652.6,220.4 655.1,223.8 657.7,223.9 660.3,224.1 663.5,223.8 666.8,223.5 671.1,226.1 675.4,229.7 679.6,233.3 683.2,233 686.8,232.7 693.1,236.8 698.5,238.2 M604.3,240.3 605.2,242 608.8,242.3 610.1,245.9 M698.5,238.2 698.4,240.6 697.1,243.5 694,243.7 690.9,243.8 691.3,248.8 688.8,249.6 686.4,250.3 690.3,255.6 690.2,258.6 M698.5,238.2 700.5,234.4 704,233.9 707.5,233.3 710.8,234.4 714,235.6 717.3,235.9 720.6,236.2 720.9,232.7 720.7,229.5 725,230.7 729.3,231.8 730.8,233.9 734,234.2 737.3,234.4 743.1,236.5 747.9,237.4 752.7,238.2 754.9,237.5 757.2,236.8 761.3,236.5 765.3,236.2 768.4,237.1 770.5,235.9 770.6,232.7 769.1,228.4 768.1,226.1 770.8,225.8 773.5,225.5 779.1,226.9 784.3,231 789.4,235 794.4,236.9 799.3,238.8 802.4,242.3 806.2,241.5 810,240.6 811.4,245.3 812.6,250 808.7,250.6 811.4,256.2 811.5,258 M699.5,237.9 702.7,240.9 706.3,242.8 709.8,244.7 712.3,249.7 716.2,250.6 720.1,251.5 724,252.4 728.5,257.1 732.3,257.3 736.1,257.5 739.9,257.7 745.3,259.1 750.8,260.4 754.7,259.4 758.6,258.4 762.4,257.4 764.4,254.1 762.1,252.1 764.4,251.5 766.7,250.9 769,248.7 771.3,246.5 774.7,246 778.1,245.6 771.9,242.6 769.1,242.2 766.2,241.7 765.3,236.2 M811.5,258 808.8,256.2 806,259.2 807.5,260.7 803.6,259.8 802.1,262.5 800.5,265.2 M807.9,271.8 809.5,270.6 812.4,269.4 M682.7,274.2 682.6,277.5 682.4,280.8 684.5,284.5 686.5,288.3 685.2,291.9 684.5,295.5 680.4,301.5 676.5,301.2 674.9,303.6 677.1,308.2 679.7,312.1 676.9,312.2 674,312.4 672.7,314.2 M682.4,280.8 685.6,280.5 688.8,280.2 690.9,278.7 694,282 695.7,287.7 695.6,290.7 699,292.7 702.4,294.6 701,298.8 705.5,301.1 710,303.3 715.6,305.4 719.2,305.7 722.9,306.1 722,301.5 719,301.1 715.9,300.6 712.8,299.1 709.7,297.6 706,296.1 702.4,294.6 M682.7,274.2 685.5,277.2 690.9,278.7 M722,301.5 724.4,303.3 725,305.1 729,304.8 732.9,304.5 731,301.8 725.9,300.6 724.4,303.3 M731,301.8 733.7,299.9 736.3,297.9 738.9,297.5 741.4,297 745.4,300.6 743.2,303.3 740.8,305.4 740.3,309.5 739.7,313.6 737.6,313.3 738.5,319.3 737,321.4 736.5,323.2 M722.9,306.1 724.3,309.7 725.8,312.7 726,315.7 727.5,320.5 M724.3,309.7 727.5,307.3 727.9,309.4 731.3,309.8 734.7,310.3 732.1,313.3 733.5,316.9 735.4,316 737,321.4 M745.4,300.6 749.5,302.7 750.3,307.9 748.5,312.1 752.8,316 753.8,319 759.2,320.5 760.4,317.8 761.2,318.1 763.5,317.8 766.3,316.6 769,315.4 772.9,316.9 773.1,319.6 777,320.8 M753.8,319 757,324.4 754.4,325.3 751.7,326.2 751.7,331.3 755,336.4 754.1,340.1 755.7,343.2 757.2,346.4 758.8,350 756.9,354.8 M757,324.4 758.4,326.8 760.2,326.8 761,332.2 763.1,330.7 767.8,330.4 770.5,333.1 770.7,335.8 773.3,338.3 773.5,341.9 774.9,342.2 778.7,341.3 778.6,340.4 777.5,338 775.9,336.1 771.1,330.1 767.3,327.4 768.5,323.5 764.3,322.9 761.2,318.1 M759.2,320.5 761,321.7 760.2,326.8 M773.5,341.9 770.3,342.2 767,342.5 765.7,344.6 767.6,350.3 M778.7,341.3 779.2,344.9 779.5,348.5 775.5,350.3 776.5,353 771.9,354.2 M761.3,366.2 764,368.3 766.6,366.8 M787,379.5 789.4,382.8 793.4,381.3 796.7,381.3 800,381.3 801.2,377.1 802.9,372.9 807.7,372.9 M798.6,371.7 800.5,372.3 801.8,370.5 M870.3,393.3 870,398.2 869.7,403.1 869.4,408 869,412.9 M823.9,413.8 826.9,412.6 826.5,414.4" fill="none" stroke="#1a1a1a" stroke-width="0.55" stroke-linejoin="round"/>
<path d="M159,192.1 160.5,191.6 161.5,191.5 162.8,191.1 164.4,190.5 164.6,190.8 165.1,191 166.5,190.4 167.3,190.4 169.5,189.7 171.1,189.5 172.9,189 174.4,188.8 174.9,189.4 174.7,190.3 175.3,189.4 176.1,188.4 175.7,188.1 176.4,187.1 174.5,187.8 173.1,188.2 173.1,187.6 173.7,186.6 175.2,185.6 176.1,184.6 176,184.2 175.4,184.1 173.3,184.7 171.6,185 173.1,184.3 174.7,183.6 175.9,183.3 176.8,183.3 178.5,182.5 179.9,182.1 181.3,181.7 180.8,182.5 182.2,182.1 183.1,182 185.2,181.2 187.7,180 188.2,180.4 189.9,180 191.5,179.6 192.3,179.8 193.8,179.5 195,179.4 195.9,179.6 198,178.9 199.7,178.4 201.8,177.5 203.3,177.4 204.3,177.5 206.8,176.5 208.9,175.8 208.8,176.3 207.6,177.2 206,178.3 206.2,178.7 206.7,178.8 207.2,178.9 207.6,179.1 208.7,178.8 208.9,179.4 210.8,178.7 212.4,178.2 213,178.4 214.5,178.1 214.8,178.6 215.9,178.6 214.9,179.8 215.5,180.3 217.7,179.5 219.4,179.1 220.2,179.4 220.2,180.2 220.9,180.6 220.7,181.2 221.3,181.3 222.2,181 223.4,180.5 223.7,181.3 226.2,180.1 224.9,181.5 225.7,181.8 227.6,181 229,180.7 227.7,182.2 229.1,182.1 228.5,183.4 227.3,184.9 229.1,184.5 231.5,183.3 232.7,182.8 233.2,183 233.4,183.4 233.4,183.9 235.7,182.8 237.8,182 239.7,180.9 241.4,180.2 242.3,180.3 242.6,180.8 243.1,181.2 244.8,180.4 246.1,180.1 246,180.8 247,180.7 248.7,179.5 249.6,179.4 250.9,178.9 251.1,179.4 252.8,178.7 252.9,179.2 253.2,179.5 254.3,179.4 253.7,180.4 255.2,179.8 256.4,179.5 256.4,180.1 256.1,180.8 256.4,181.2 256.1,182 257.3,181.7 258.9,180.9 259.3,181.4 260,181.5 261.3,181 262.6,180.6 262.7,181.3 263.6,181.3 265.5,180.6 267.8,179.4 267.5,180.1 267.3,180.8 268.1,180.7 268.9,180.6 269.9,180.9 269,182.3 268.7,183.4 269.8,183.6 270.1,184.1 271,184.1 272.5,183.2 273.8,182.8 274.7,182.8 274.9,183.4 274.5,184.3 273.9,185.4 272.4,185.9 270.9,186.4 272.5,186 274.2,185.5 275.4,185.6 276.3,185.9 277.7,185.7 279.2,185.4 280.5,185.3 281,186.1 282.9,184.9 283.5,185.5 284.4,185.5 285.1,185.9 283.6,187.3 282.5,188.7 284.4,187.8 286.4,186.8 288.4,185.2 290.4,184.3 292.2,183.6 292.2,184.8 291.3,185.9 291.2,186.6 292.3,186.2 293.2,186 294.5,185.8 295.6,185.8 296.3,186.3 297.3,186.4 298.4,186.1 299.7,185.5 301.4,184.4 301.8,185.1 302.4,185.4 303.5,185.2 304,185.6 304.6,185.9 305.6,185.3 306.7,184.6 306.5,185.6 307.9,184.9 308.4,185.1 309.2,185.1 310,183.6 311.7,182 312.9,180.5 312.9,179.5 314,178.7 315,178.3 316,177.5 317,177.1 318.9,175.8 320,175.8 319.3,177.3 319,178.5 320.1,178.6 321.6,178.3 321.3,179.4 320.4,180.8 320.8,181.2 320.4,182 320.3,183.1 319.1,184.6 320.1,184.9 321.8,183.8 322,184.9 323.5,184.5 323.7,185.4 323.8,186.4 324.9,186.5 324.8,187.7 326.4,186.8 328.1,185.9 329.7,184.2 331.5,182.5 333.1,181.6 334.4,181.3 335.3,181.6 336.3,181.9 337.3,181.4 338,181.5 337.9,182.2 338,182.8 339.3,182.9 338.1,184.6 336.4,185.5 335,187.2 335,188.2 334.2,189.7 332.9,189.8 331.7,189.7 330.1,190.4 328.9,190.3 327.7,190.5 326.9,190.2 326.6,189.3 325.3,189.7 324.2,190.3 323.3,190.4 322.2,191.3 321.4,192.4 320.3,192.5 319.1,193.6 318.3,194.9 317,195.8 315.9,196.4 315,197.4 314.2,197.5 313.4,197.5 312.8,197.3 312.6,196.8 311.5,197.6 310.8,197.4 309,198.4 308.3,197.7 306.7,199 305.1,199.6 303.6,199.8 302.1,201.5 300.7,203 299.1,203.6 298.1,204.4 297.1,205.4 296.2,206.4 295.2,207.2 294.8,208.8 294,210.5 294.2,211.7 295.5,211.8 295.4,213.2 294.1,215 294.8,215.6 296.3,214.5 297.6,213.3 298.5,213.7 299.8,213.4 300.8,213.5 301.7,213.8 301.8,214.8 301.8,215.8 302.7,216.1 303.8,216.1 302.7,217.8 303.6,218.4 303.9,219.1 303.5,220.2 304.5,219.9 305.4,219.8 306.5,220.5 308,220.4 308.9,220.1 309.7,220 310.6,219.9 310.8,220.7 312.2,220.8 313.7,220.9 314,221.8 313.2,223.2 312.8,224.5 311.5,225.5 311.5,226.4 311,227.4 310.5,228.6 311.3,228.9 310.5,230.2 311.1,230.9 311.9,231 312.2,231.8 313,232.1 313.7,232.5 314.8,231.9 315.9,231.3 316.8,229.8 317.7,228.4 318.2,227.3 318.9,226.2 318.5,225.3 319.4,224.1 319.3,223.1 319.3,222.1 320.7,220.8 322.2,220.4 323.5,220.2 324.9,219.8 326.7,218.9 328.1,217 329.2,215.6 330,214.2 329.8,212.9 328.4,213.2 328.7,211.9 328.6,210.8 329,209.8 329.8,208.8 330.7,208 331.6,207.2 331.5,206 332.2,204.5 333.1,202.7 334.2,200.9 334,202.1 334.3,202.9 335.5,202.4 336.3,202.7 337.1,202.9 338.2,202.3 339.2,202 340.3,201.2 340.1,202.3 340.7,202.8 341.2,203.4 341.3,204.3 342.2,204.8 342.8,205.5 344.2,204.5 345.5,203.1 346.1,204.1 345.9,205.6 347.4,205.2 349,204.5 347.3,205.9 346.2,207.7 346.9,208.7 347.2,210 347.7,210.4 347.8,211.2 348.5,211.3 348.9,211.9 350.4,211 351.9,210.5 353.5,209.8 354.5,210.5 355.3,209.3 356.3,208.1 357.6,207.9 358.5,206.4 359.7,206.1 361,206.5 361,208.1 360.6,209.8 360.5,211.4 361.5,212.2 360.7,214.1 360.4,215.8 361.7,216.1 363.3,216 362.9,217.9 362.7,219.4 363.3,220.4 364.9,219.6 365.5,220.8 366.1,221.8 366.9,222.6 367.5,223 367.8,223.8 367.6,224.8 368,225.5 368.5,226.4 368.8,227.4 369.5,228.1 369.7,229.2 368.8,229.7 367.9,230.2 366.9,230.4 366,231.3 364.6,232.4 363.1,232.6 361.7,233.7 360.3,234.7 359,235.1 359.1,233.5 358,234 357.2,233.6 356.1,233.3 355.2,234.8 354.2,235.2 353.3,235 351.8,236.4 350.1,237.4 349,236.7 347.7,236.1 346.8,235 345.1,236.1 343.6,236.1 342.9,235 341.4,236.5 339.7,237.6 338.1,239 336.6,238.9 335.7,239.8 335.5,240.9 334.6,241 333.6,241.5 332.5,242.4 331.4,243.3 330.2,243.8 329,244.7 330.7,243.4 331.7,244.5 333,243 334.5,242.3 335.8,242.9 337.5,241.9 337.7,240.8 338.5,239.9 339.4,238.9 340.3,239.1 342,238.8 343.6,237.5 345.2,237.6 346.5,237.9 346.6,239.1 345.6,238.4 344.2,238.5 343,239.9 341.8,241.5 342.3,242.1 343.1,242.3 343.4,243.1 343.8,243.8 343.9,245.2 343.6,246.7 344.8,246.9 345.8,247.3 347.1,247.1 348.3,247.1 349.2,247.8 350.3,248.2 351,247.1 351.7,245.9 352.8,245.4 353.8,244.4 353.8,246.1 354.5,247.3 353.6,247.9 352.8,248.5 351.9,249.2 351,249.7 349.4,250.3 347.7,250.7 346.1,251.2 344.4,251.8 342.9,252.1 341.5,252 340.4,253.8 338.7,254.7 338,253.9 337.7,252.7 339,251.7 340.3,251.2 341.6,250.7 342.8,249.4 342,248.9 341.2,248.3 340,248.8 339,250 337.7,250.8 336.4,250.9 335.8,249.7 334.4,250.8 333.2,251.2 332.3,252.4 331.2,253.3 330.2,254.4 329.4,253.7 328.1,254.1 326.6,255.4 325.5,257.1 326.1,258.3 326.3,259.8 324.9,260.5 323.6,260.7 322.6,261.5 321.6,261.3 320.6,261.7 319.7,261.6 317.9,262.2 316.1,262.8 315.3,264 315,265.1 314.4,266.1 313.4,267.9 311.7,268.5 310.9,268 310.7,267 311.2,267.8 311,269.1 310.2,270 309.9,271.2 308.8,272.5 307.7,273.9 307.6,272.8 307.3,271.9 307.3,270.8 307.9,269.7 307.5,271.6 306.5,273.6 307.3,274.5 307.8,275.9 307.4,277.8 307.1,279.6 305.7,280.2 304.3,281.1 303.9,282.8 302.6,284.1 301.4,283.7 300.1,283.5 298.5,284.4 296.9,285.3 296.3,286.4 295.8,287.7 294.7,287.9 293.9,287.4 292.5,288.8 290.9,289.2 289.9,291.2 289,293.1 288.3,294.5 288.6,295.8 289,296.7 289.2,297.7 289.8,298.5 289.6,299.7 290,300.9 290.5,302 290.7,303.4 290.2,304.8 289.9,306.7 289.1,308.5 287.8,310 286.5,310 285.7,308.7 285.1,307.3 284.8,306.1 284.5,304.8 284.3,303.3 283.8,301.8 283.8,300 284.5,298.2 284.2,296.6 283,295.8 282.3,295.3 281.3,295.2 279.8,295.8 278.3,296.4 278.1,295.3 277.6,294.5 276.9,293.6 275.7,294.3 274.7,294.3 273.9,293.8 272.9,294.3 271.9,294.3 271,294.3 270.1,294.4 269.2,294 268.2,294.6 269,296.1 268,297.9 266.2,298.3 264.6,297.9 263.8,297.6 262.7,297.9 262.3,297.1 261.7,296.4 260.4,295.8 259.7,294.4 258.3,295.8 256.6,296.1 255.1,295.7 253.8,297.3 252.6,298.4 251.2,298.9 249.7,299 248.7,300.6 247.7,300.6 246.8,301.2 246.2,302.3 246,303.3 245.4,304.4 244.8,305.5 245.2,306.5 245.4,307.6 245.3,309.1 244.7,310.6 244.4,312.3 243,313.3 242.6,314.8 243.3,315.9 242.5,317 241.9,318.4 241.4,319.7 241.6,321 242.2,322 242.8,322.9 243.4,323.9 243.7,325.2 243.5,326.7 244.5,327.4 245,328.4 245.5,329.4 246.5,329.7 247.6,329.8 248.4,330.4 249.3,330.7 250.5,330.8 251.7,330.2 252.9,329.5 254.2,329.5 255.8,329.2 257.3,329.2 258.3,328 259.2,326.8 260.3,325 260.5,322.9 261.4,322 262.6,322.9 263.6,321.5 264.7,321.6 265.8,320.8 266.7,321.4 267.7,320.8 268.7,320.7 269.7,320.8 269.8,321.8 269.9,322.9 269,323.4 268.2,324.1 267.8,325.1 267.7,326.2 267.7,327.3 267.3,328.4 266.8,329.4 266.3,330.4 265.4,331.5 265,332.8 264.6,334.3 264.4,335.8 263.5,336.7 262.6,337.6 263.5,337.3 264.5,337.2 265.3,337.8 266.2,337.8 267.1,338.4 268.1,338.8 269.3,338.5 270.2,337.6 271.1,338.2 272,338.6 273.1,338.4 274.1,337.8 275,338.2 275.6,339 276.2,339.8 277,340.4 277.4,341.7 278.1,342.9 277.4,344.3 276.1,344.9 276.3,346 275.8,347.1 274.8,348.2 275.4,349.4 274.9,350.9 274.9,352.4 275.9,353.8 276.6,355.4 277.8,356.5 278.6,358.1 279.5,357.5 280.5,357.1 281.5,357.8 281.7,359 282.9,358 284.4,357.8 285.6,356.8 287.1,356.8 288.6,357.1 289.9,358.1 290.7,358.9 291.4,359.6 290.8,360.7 290.9,361.9 290.6,363.1 289.7,363.8 289.7,362.5 289,361.4 288.3,359.6 286.9,359.1 285.7,358.4 285.2,360.3 283.5,360.5 283.7,361.8 284.1,362.9 282.8,363.5 281.5,363.1 280.2,362.6 279.2,362 279,360.8 277.8,361 276.6,361.1 275.9,360.1 274.8,359.6 274,359.1 273.4,358.2 272.7,357.6 272.3,356.6 271,356.6 270.4,355.8 269.5,355.4 268.6,354 269.4,352.4 268.5,352 267.5,351.7 267.3,350.5 267.2,349.4 266.5,347.9 265.4,346.7 263.8,346.9 262.8,345.8 261.8,345.4 261.1,344.5 260.1,344.2 259,344.3 258,344 257.3,343.1 256.1,343.6 255.2,343.1 254.2,342.3 253.2,341.6 252.2,340.6 251.9,339.1 250.8,338.3 249.7,337.6 248.5,337.3 247.5,336.7 246.9,337.9 245.9,338.5 244.9,338.2 243.9,338.3 242.7,339 241.5,339.7 240.5,338.9 240,337.6 238.8,336.6 237.5,335.5 236.4,335.3 236.2,334.1 235.4,335 234.3,334.9 234.1,333 232.5,332.3 231.2,331.3 229.5,332.2 228.2,332 226.9,332.2 226.1,331.1 225.3,330.1 224.4,328.9 223.3,328 223,327 222.1,326.6 221.5,326 220.8,325.3 221.6,323.5 222.2,322 221.5,320.8 221.1,319.6 220.8,318.2 220.3,317.1 220.1,315.7 219.8,313.9 218.7,312.8 217.7,311.6 216.9,310.3 215.8,310.1 215.6,308.9 214.5,308.8 213.8,308.2 214,306.6 214.2,305.1 214.1,303.9 213.5,303.1 213.2,302 212.3,301.5 211.5,300.7 210.9,299.6 209.8,299.1 209.1,298.2 207.8,297.6 208.3,295.7 208.8,294.2 208.7,292.8 207.7,291.8 206.8,290.7 205.3,291.3 205.1,289.8 204.1,291.1 204.5,292.2 204.6,293.8 204.6,295.5 205.2,296.8 205.8,298.2 206.2,299.1 206.8,299.8 207.2,300.8 207.3,301.8 208,302.7 208.1,304.1 207.7,305.7 208.8,306.4 208.7,307.7 208.6,309 208.9,310.2 209.8,310.9 210,312 210.8,312.7 211.7,314 212,315.7 210.8,316.6 210.7,315.5 210.1,314.8 208.8,314.6 207.8,313.7 207,312.7 206.4,311.5 206.2,309.7 206.6,307.9 206.4,306.6 205.4,306.3 204.7,305.6 204,304.8 203,304.4 202.2,303.6 201.8,302.6 200.9,301.8 202.2,300.8 203.5,299.7 202.5,298.5 202.4,296.7 202.1,295.7 202.2,294.5 201,294.4 200.9,293.1 200.9,291.3 200.3,289.8 200.1,288.8 200,287.7 200.2,285.9 199.4,284.8 198.4,283.8 197,283.9 196.6,282.6 195.1,282.3 193.7,281.7 193.6,280.7 194.1,279.6 194.1,278.3 194.1,277 193.5,276.2 192.9,275.4 193,274.2 193.9,273.2 193.1,272.9 192.9,272.1 193.2,270.9 192.3,270.6 192.1,269.7 191.7,268.9 191.8,267.8 192.3,266.7 192,265.4 192.2,264 194,262.6 194.7,260.7 195.5,258.7 196.1,256.8 196.8,255.4 197,254.1 198.5,253.2 199.8,251.8 201.3,250.8 202.3,249.3 202.5,248.1 203,246.7 202.4,245.6 202.4,244.1 203.8,242.2 205.5,240.3 207,239.7 208.7,238.7 208.5,240 209,240.9 209.3,241.7 209.1,242.9 209.9,241 211.3,239.1 211.3,238.2 210.5,237.9 210.4,237.1 210.6,236 209.8,235.9 209.1,235.6 209.1,234.3 208.9,233.2 207.7,232.9 206.1,233.3 205.4,232.5 205.3,231.3 205.9,229.8 206.4,228.4 206.5,227.3 206.2,226.6 205.4,226.1 205.8,224.9 204.9,224.3 205.9,222.6 206.7,221.1 207.2,219.8 206.2,219.5 206.2,218.4 206.5,217.5 206.8,216.5 206.1,216.3 206.1,215.6 205.8,214.9 205.2,214.6 206.2,213.4 207,212.2 206.9,211.5 205.7,211.9 205.1,211.7 204.6,211.4 203.4,211.5 201.7,212.2 201.7,211.3 200.7,211.4 201.7,210 200.6,210 199.9,209.6 199.6,209 199.4,208.3 198.7,208 197.7,208.1 196.5,208.3 196.5,207.5 195.9,207.2 195.9,206.6 195.2,206.5 194,207.1 192.8,207.6 191.3,207.8 190.9,206.9 190.3,206.5 190,205.8 189.8,205.1 188.7,205 187.3,205.6 187.2,205 187,204.5 186.2,204.5 184.5,205.7 183.3,206.9 182.2,207.1 181.1,207.2 179.6,207.6 178.4,207.8 176.5,208.1 174,209.7 173.9,209.2 174.3,208.3 172.8,209.1 171.7,209.4 173.7,207.5 176.2,205.8 178.2,204.4 180.3,203 181.1,203.4 181.5,203.9 180.2,204.5 179,204.8 177.6,205.3 177.8,204.5 175.8,205 173.2,206.7 170.8,207.7 168.3,209.1 167.2,209.5 166.5,209.4 165.4,210.4 164.4,211.4 162.2,213.2 160.4,213.6 159,213.9 157.5,214.2 155.9,214.5 154,215.3 152.3,215.8 150.1,217 149,217.4 147.9,217.7 147.1,217.7 146.4,217.6 144.1,218.6 141.6,219.8 139.6,220.8 137.9,221.4 136.9,221.2 135.7,221.2 133.8,221.8 131.8,222.5 131.3,221.8 129.4,222.4 131.4,221.1 133.3,220.2 133.7,220.9 135.2,220.6 137.3,219.4 139.4,218.5 139.8,219.3 142,218.4 144.4,216.8 146.8,215.4 148.7,215 149.4,215.6 151,214.8 152.7,214 153.8,214 155.8,212.8 157.5,211.4 159.3,210.5 158.6,210.4 157.7,210.6 156.7,210.7 156.1,210.5 155,210.7 154.6,210.4 154,210.2 153.2,210.3 153.1,209.4 150.8,210.5 149.7,210.5 148.3,210.8 149.7,209.3 151.8,207.8 150.7,208 149.3,208.4 149.4,207.8 149.3,207.2 151.4,206.2 152,206.7 150.9,206.5 150.9,205.5 149.7,205.9 148.5,206.2 148,206 148.7,205 149.8,203.5 149.7,202.6 151.6,201.4 153.4,200.4 155,199.7 156.6,199 158.3,198.4 158.9,198.7 161.2,197.6 161,198.5 161.8,198.7 163.2,198.4 165.2,197.6 166.8,197.2 168.7,196 170.2,194.8 168.8,195.2 167.9,195.3 167.3,195 166.4,195 165.8,195 165.8,194.4 164.7,194.6 163.1,195.6 162.8,194.9 161.4,195 161.4,194.5 160.9,194.2 159.8,194.5 159.4,194.2 159.5,193.6 159.1,193.2 158.7,192.9Z M371.9,161.3 372.6,160.3 373.9,159.3 375.1,158.4 376.3,157.8 377.2,157.7 377.6,158 378,158.4 378.4,158.7 378.4,159.2 379.1,159.2 379.9,158.9 380.6,158.8 381.6,157.9 382.4,157.8 383.2,157.5 383.8,157.5 384.7,157.4 385.8,156.5 386.8,155.8 387.7,155.6 388.4,155.5 389,155.6 389.8,155.5 390.6,155.2 391.8,154.1 393.1,153.2 394.1,153.1 395.5,152.3 395.8,152.9 396.7,152.9 397,153.4 396.2,154.6 396.9,154.8 397.9,154.5 398.2,155.1 398.2,155.8 399.1,155.7 399.3,156.3 399.6,156.8 400.1,157.1 400.9,156.6 401.7,155.9 401.8,155.3 402.3,154.6 403.3,154.6 404.7,154.2 406,153.7 406.3,154.4 407.5,153.4 408.7,153.1 409.6,152.9 410.3,152 410.9,151.3 411.7,150.6 412.4,150.4 413.2,150.3 413.9,149.7 414.8,149.3 415.6,149.1 415.5,149.8 416.2,149.7 416.5,150.1 417.1,150.1 417.8,150.2 418.6,149.6 419.5,149 420.1,148.9 420.8,148.8 421.5,148.5 422,148.6 422.4,148.9 422.1,149.5 422.9,149.4 423.4,149.5 423.5,149.9 423.4,150.4 423.4,151 423.9,151.1 423.9,151.7 423.5,152.5 424.6,151.9 425.1,152.2 425.8,152.2 426.2,152.4 427,151.9 427.7,151.8 428.5,151.5 429,151.7 429.5,151.9 430.2,151.6 430.7,151.8 431.3,151.8 432,151.5 432.7,151.4 433.4,151.2 433.9,151.4 434.5,151.4 434.9,151.7 435.5,152 436.1,152.3 437,151.6 437.9,151.2 438.3,151.6 438.4,152.3 438.6,152.8 438.9,153.3 439.7,153 440.5,152.7 441,153 441.8,152.9 442.5,152.4 443.2,151.8 444,151.2 444.7,150.8 445.7,150.6 446,151.3 446.7,151.5 447.5,151.5 448.4,151.5 449.3,151.4 450,151.8 450,152.7 451.1,151.9 452.3,151.3 453.4,150.6 454.2,149.5 454.4,150.5 455,151.1 455.9,151.4 456.8,151.8 457.4,151.7 458,151.6 458.6,151.5 459.1,150.9 459.7,151 460.3,151 460.5,151.4 461.1,151.5 461.5,151.8 461.8,152.2 462.1,152.6 462.1,153.2 462.5,153.5 462.9,153.8 463.4,153.9 464,154 464.4,154.8 465.1,155.3 466,155.5 466.4,156.4 467,155.9 467.7,155.5 468.1,156 468.8,155.9 468.7,156.6 469,157.2 469.1,157.8 469.3,158.5 470.4,158 471,156.6 471.6,155.3 472.7,154.8 473.8,154.2 474.7,154.6 475.6,155 476.7,154.6 476.1,155.3 475.3,155.6 474.3,155.4 473.8,156.6 473,157.3 472.8,158.4 473.2,159.4 472.6,160.5 472.3,159.5 471.4,159.5 470.7,159 469.8,159.8 469.5,159 468.8,158.7 468.3,158.2 468,157.5 467.2,157.9 466.8,157.4 466.3,158.1 465.8,158.7 464.7,159.4 463.9,160.7 464.1,161.4 463.7,162.4 464,163.1 463.9,164 462.9,165.1 461.8,165 461,166.1 460.5,167.5 460.9,168.7 460.8,170.3 460,170.4 459.4,170 458.7,169.9 458,170.6 457.4,171.4 456.8,172 456.1,172.6 455.6,173.4 455.6,174.4 455.3,175.5 454.6,176.2 453.8,177.1 454.4,178.2 454.2,179.8 453.6,180.9 453.1,182 452.2,182.8 451.2,183 450.4,182.6 449.5,183.1 448.7,182.7 447.9,182.5 447,183.5 446,184 445.8,185.5 444.8,186.4 444,185.8 443.3,185.3 442.6,184.8 441.6,184.8 440.5,184.9 439.5,184.5 438.3,185.1 437.4,186.3 436.5,185.5 435.3,186.4 434.6,185.6 433.5,185.9 432.5,187.3 431.3,188.4 430.3,188.4 430.1,187.4 429.2,188.1 428.6,189.2 427.7,190.2 426.8,191.3 425.8,191.5 424.7,191.9 423.8,191.3 423.3,190.2 422.3,191.8 420.9,191.8 420.1,192.3 419.3,192.3 418.6,192.1 418.3,191.3 417.4,191.6 416.6,192 416,192.9 415.3,193.7 414.5,195.1 414.3,196.5 413.1,196.8 412,197.7 410.7,199.2 409.2,199.8 408.4,200.4 407.6,201.1 407,202.2 407.2,203.1 406.1,204.4 404.8,205.2 403.6,206.3 402.7,207.8 401.9,207.5 401,207.6 400.4,207 399.8,206.4 399,205.3 397.6,205.2 396.2,205.1 395.2,204.5 394.5,203.3 393.3,203 392.5,202 392.5,200.4 392.3,199.2 391.7,198.4 391.3,197.4 391,196.4 390.1,195.6 389.8,194.2 389.4,193.7 389.2,193 389.7,192 390.2,191.1 390.9,189.8 391.3,188.6 390.8,188.1 390.5,187.2 391.4,186.8 392.2,186 392.4,184.9 393.3,184.1 394.4,184.1 395.7,183.1 396.8,183.5 398.1,182 396.9,182.2 395.6,182.5 395.6,181.2 396.1,179.7 395.1,179.8 394,180.4 393.1,180.3 392.4,180 393.1,178.5 393.9,177.1 393.6,176.4 394,175.3 394.1,174.4 393.7,173.9 394.1,172.3 393.8,171.2 393.3,171 392.6,171.1 392,170.8 392.5,169.8 393.6,168.6 393.2,168 393.2,167.2 392.6,166.9 391.8,167.1 391.3,166.9 390.9,166.5 390,166.8 389.3,166.8 388.7,166.8 387.8,167.3 387.1,167.4 386.9,166.9 387.5,165.9 387.1,165.6 386.7,165.3 385.3,165.7 383.7,166.5 382.6,166.4 381.7,166.1 380.8,165.7 379.2,166.9 378.2,167.1 376.9,167.5 376.8,166.7 376.5,166 375.9,165.6 375.4,165.1 375.4,164.5 374.9,164.4 375.3,163.6 376.2,162.7 375.2,162.6 373.9,162.9 373.6,162.3 373.2,161.8 372.7,161.4Z M446.8,192.4 448,192.1 449.2,192 450,190.5 451.3,190 452,189.4 452.8,188.8 453.5,188.8 454.2,189.1 454.3,190.1 455,190.5 455.4,191.1 456,191.6 457.1,191 458,190.1 459.2,190 460.2,189 461.1,189.5 462.2,189.5 463.2,189.6 464.2,189.7 464.8,190.7 465.8,190.1 466.4,190.6 467.1,191.1 466.9,192.1 467.3,193 467.9,193.8 468.8,193.7 468.2,194.7 467.3,195.4 466.4,195.7 465.5,195.6 464.7,194.8 463.8,194.4 462.8,195.1 461.7,195.6 460.9,196.4 459.9,196.7 458.9,197.2 458.1,198 457,199 455.7,199.5 455,199.5 454.3,199.5 454.2,198.5 454,197.7 452.8,197.5 452,196.4 450.8,197.2 449.6,196.9 450.5,195.9 451.4,195 450.4,194.8 449.3,194.9 448.5,194.2 447.5,194 448.5,194.6 449.7,193.6 450.8,193.5 451.8,192.6 450.5,192.7 449.3,192.5 447.9,193.1Z M291.4,359.6 291.7,360.7 292.4,361.4 293.3,360.7 294,359.7 294.6,358.7 295,357.5 295.4,355.5 296.5,353.9 297.9,353.6 298.5,352.1 300.2,352 301.9,351.5 303.2,351.4 304.2,350.5 305.2,349.7 306.1,348.8 307,348.5 308,348.2 308.6,349.4 309,350.7 307.9,351.5 306.9,352.4 308.2,351.5 308.7,349.9 310.1,349.6 311.3,348.8 312.3,349.5 313.5,349.7 314,350.9 315.1,351.5 315.7,352.7 316.9,353 318.1,352.8 319,353.6 319.7,352.8 320.3,351.8 321.1,352.5 321.9,353.1 323,354.2 324.2,355.1 325.4,354.1 326.9,353.6 328.2,353.1 329.6,353.4 330.9,353.5 332.2,353.3 333,354.1 332.9,355.4 333.7,355.9 334.7,356 336,357.5 335.9,359.6 336.9,360.1 337.8,360.8 338.6,361.8 339.8,361.4 340.6,363 340.9,364.7 342.4,365.3 343.6,366.5 345.3,366.8 346.9,367.3 347.7,367.9 348.5,368.6 349.5,368.2 350.2,367.4 351.8,368.4 353.2,369.8 355,370 356.8,369.5 357.2,370.7 357.9,371.6 358.9,372.2 359.9,372.6 360.3,374.3 360.6,376.1 361,377.9 361.9,379.5 363,380.1 363.2,381.5 363.6,382.7 363.2,384 362.4,385 361.9,386.1 363.2,386.6 364.4,387.5 365.8,387.7 367.2,387.6 368.5,386.8 369.9,387.3 371.6,387.5 373.3,388.4 374.8,389.6 376.5,390 377.5,391.6 378.4,393.3 379.5,395 381.4,394.9 382.9,394.3 384.5,393.9 385.7,394.9 387.1,395.2 388.4,394.3 389.8,394.2 391.1,394.2 392.4,394.2 393,395.5 393.8,396.6 395.2,396.7 396.2,397.7 397.2,398.7 397.9,399.9 398.8,400.8 400,401.3 401.2,400.7 402.4,401.1 402.3,402.8 402.1,404.4 403.5,405.4 403.8,407.2 403.9,408.6 404.4,410 403.8,411.2 403.4,412.6 402,413.2 401.3,414.7 400.5,415.9 399.6,417.1 398.8,418.1 397.8,418.6 397,419.6 397,421 396.1,421.6 395.4,422.5 395,423.6 394.5,424.6 394,425.4 393.5,426.3 392.7,426.7 391.8,427 392.5,427.7 393.3,428.5 393.5,429.5 393.5,430.6 394,432.5 393.5,434.4 393.8,436.3 393.3,438.2 393.5,440.1 393.7,442.1 392.2,443.1 391.6,445.1 390.7,446.5 390.9,448.2 390.3,449.7 389.7,451.1 388.4,451.3 388.2,452.7 387.5,453.6 387,454.7 386.1,453.8 385,454 383.8,453.7 383.1,454.7 382.1,455.8 380.8,456.4 379.3,456.1 378.1,457.1 376.9,457 375.9,457.5 374.8,458.2 374.5,459.5 373.4,460.3 373,461.8 372.2,462.9 370.9,463.1 369.4,463.7 369.2,465.6 370.5,466.7 371.2,468.3 369.9,468.7 370,470.3 370.5,471.9 369.4,472.8 369.1,474.6 368.5,476.3 367.5,476.6 366.4,476.3 366.3,477.5 366.4,478.8 365.6,479.5 365,480.4 363.8,480.9 363.9,482.4 362.9,483.5 361.6,484.3 362,486.2 361.5,487.8 361,488.8 360.3,489.6 359.4,490.1 358.5,490.5 356.9,490.8 355.3,490.5 354.2,490.2 353.6,491 352.9,491.3 352,491.4 351.7,490.3 350.9,489.5 350.4,488.3 349.5,487.8 349.1,488.7 350.1,489.5 351.1,489.8 351.9,490.8 352.7,491.7 353.4,493.7 354.9,495 354.8,496.5 355.2,498.1 354.3,498.9 353.7,500.1 352.6,499.5 351.6,499.9 351.5,501.2 350.7,501.9 349.6,502.1 348.4,501.9 347.3,501.2 346.2,500.3 345.3,500.9 344.5,501.4 343.8,502.3 342.6,502.2 342.5,503.6 343.4,504.8 343.7,506.1 344.2,507.3 343.2,507.6 342.3,507.8 341.9,508.8 341.6,509.9 340.5,509.5 339.6,509.9 338.4,509.5 337.6,508.2 338.6,509.9 339.5,511.5 340.8,513 342.4,513.3 341.6,513.5 341,514.1 340,513.9 339.5,514.8 339.5,516.3 340.3,517.8 340.8,519.3 340.6,520.7 339.6,521 338.7,521.3 337.4,520.9 336.6,519.4 336.8,520.6 337,521.8 336.6,522.7 336.3,523.7 337.7,524.4 338.8,525.8 340.2,526.5 341.5,527.2 341.2,528.2 341.8,529.5 341.4,530.9 340.4,531.6 339.9,532.9 339.2,533.9 339.5,535.8 339.2,537.3 338.4,537.6 337.5,537.7 338.5,538.9 338.4,540 339.8,540.9 341.1,542.3 341.6,544.1 342.4,545.1 343.3,545.6 344.2,546.4 345.1,546.9 345.7,546.5 346.5,546.5 347.1,546.1 347.7,545.7 348.6,546.7 349.6,547 350,548.2 351.1,548.9 349.8,549.3 348.7,550.1 347,549.2 346.8,550.7 345.7,550.7 344.6,550.9 343.8,550.9 343,551 342,550.7 341.2,550.6 339.9,548.8 338.2,547.5 337.4,547.5 336.4,546.9 336,547.4 335.4,547.8 334.2,546.6 333.1,546.7 332,545.4 330.7,544.9 329.7,544.3 328.6,543.7 327.5,543.2 326.5,542.1 326,541 325.3,540 324.4,539.3 323.7,538.3 323.4,536.8 322.8,535.3 321.4,534.1 320.8,532.5 319.5,530.8 318,529.3 318.8,528 318,526 318.9,526 319.8,526.5 319.2,525.3 319.6,524.5 319.8,523.2 320.4,522.2 320.6,520.6 319.7,518.7 318.8,517 317.5,515.4 317,514.2 317.1,513.2 316.6,512 317.1,511.2 315.8,510 314.9,508.4 314.7,506.7 315.6,505.8 316.2,505.3 317,505 317.3,504.2 317.1,503.1 315.8,501.4 314.4,499.8 313.9,498.5 313.6,497.1 313.4,495.7 313.4,494.4 313.7,493.3 314.4,492.3 314.2,490.3 314.8,488.6 314.6,487.5 314.2,486.4 314.5,485.5 315.1,484.8 315.1,483.7 314.5,482.5 314.4,481.4 313.9,480.3 313.7,479.1 313.9,478.1 313.5,476.9 313.5,475.8 313,474.2 312.5,472.6 313.3,471.5 313.1,469.8 313.5,468.6 314.3,468.1 313.2,467.3 313.2,465.9 314.1,464.3 314,462.2 315.1,461 314.2,459.3 313.9,457.7 313.5,456.2 313.3,455.1 313.4,453.9 313.6,452.9 313.7,451.7 312.8,450.8 312.6,449.5 312.9,448.4 313.1,447.2 313,445.3 311.8,443.9 312.8,442.5 312.1,440.6 310.9,439.8 310.9,438.3 309.8,437.5 308.7,437.6 307.5,436.2 306.3,435 304.7,434.6 303.1,434.3 301.7,434.6 300.5,433.6 299.5,432.5 298.4,431.5 297.9,430.1 297,429 296.3,427.8 295.1,427 295,425.4 294.4,423.9 293.3,422.8 292.3,421.6 290.9,420.6 289.9,419.1 289.5,417.3 289,415.6 288.5,414.1 287.3,413.2 286.4,411.8 286.9,410.2 285.5,409.9 285.1,408.5 284.6,407.2 284.3,406 283.1,405.3 283.1,403.9 282.1,403.5 281,403.3 281.2,401.2 280.4,399.3 281.8,400 282.8,398.6 282.7,397.2 282.9,395.7 283.2,394.3 283.9,393 282.6,392.5 281.2,392.4 280.8,391.4 280.4,390.3 280.9,389.2 281.7,388.5 282.9,387.3 283.3,385.5 283.7,384.3 283.6,383.1 285.3,383 286.5,381.6 286.8,380.1 287.7,378.6 289,377.7 289.5,376.7 290,375.8 290.5,374.9 291.2,374.1 290.8,372.8 290.8,371.5 291.7,370.1 290.5,368.9 290.4,367.4 290.9,365.9 290.1,365.1 289.7,363.8 289.7,362.6 289.9,361.4 290.9,360.7Z M374.2,189.2 373.3,189.9 372.5,190 371.7,190 370.9,190.4 370,191 369,191.6 368.6,192.7 367.9,193.7 366.7,193.9 365.4,195.1 364.6,196.6 363.5,197.9 362.2,199 361.1,198.9 359.9,199.4 359,199 359.3,199.8 359.8,200.5 361.2,200.2 360.8,201.7 360.6,200.9 359.8,200.8 358.9,200.9 358.1,200.9 357.4,200.9 356.5,201 355.7,201 355,200.9 353.7,201.4 353,200.9 352.4,200.4 351.9,199.7 351.6,198.7 351.9,197.3 351,196.8 349.5,197.7 349.4,196.9 349.4,196.2 348.7,196 347.8,196.3 346.7,195.9 345.8,195.3 344.3,196.7 342.8,197.4 341.2,198 339.7,199.6 339.2,198.7 339.4,197.4 339,196.4 338.5,195.6 338.8,194 339.5,192.4 340.5,192.5 341.1,193.1 342.3,192.9 343.7,192.1 345.2,191.5 346.7,190.4 347.5,191 347.7,192.1 349.1,190.5 350.5,189 351.5,188.2 352.3,187.3 353.3,186.5 354.1,186.4 352.6,187.1 351.3,187.2 350.7,186.4 350.3,185.5 349.2,185.4 348.8,184.5 347.3,185 346.1,185.1 345,184.8 343.6,185 343.7,183.7 344.4,182 346,180.9 347.5,180.3 346.3,180.6 345.2,180.8 344.4,180.7 343.2,181 342.8,180.4 342,180 340.6,180.7 339.5,180.8 338.4,181.9 337.2,182.4 336,182.8 335.2,182.7 334.5,182.5 334,182.2 333.6,181.7 333.8,180.8 332.9,180.8 331.7,181.4 330.3,182.6 329.4,182.4 328.8,182.1 329,181.1 328.7,180.6 329.1,179.5 328.1,179.4 329.2,177.9 327.9,178.5 327.7,177.8 328.5,176.2 329.5,174.6 330.5,173.8 331.6,173 332.6,172.7 333.7,171.9 335.2,171.3 335.8,171.6 336.9,171.5 337.4,171.9 338.9,171.2 339.5,171.6 340.2,171.9 341.4,171.5 342.9,170.8 344.4,170 344.5,170.9 346.1,170.3 346.4,170.9 346.5,171.7 347.7,171.5 348.5,171.7 348.2,172.5 348.6,172.8 347.8,173.7 347.1,174.6 348.5,174.2 350.1,173.6 350.4,174.1 350.1,175 351.4,173.8 352.2,173.9 353.3,173.8 354.7,173.1 355.2,173.6 355.9,173.9 357.5,172.9 358.9,172.6 358.7,173.7 358.5,174.9 359.5,174.8 360.6,174.6 361.4,175.1 360.5,176.6 360.7,177.7 361.4,178.4 362.4,177.9 362.9,178.2 363.4,178.3 363.7,178.8 364,179.8 365.4,179.2 365.8,179.9 366.7,180 366.1,180.9 365.8,181.8 365.9,182.5 365.7,183.3 366.3,183.5 367,183.8 367,184.6 367.3,185.3 368.1,185.4 368.6,185.7 369.4,185.8 369.8,186.4 370.4,187.3 371.2,187.9 372,188 371.9,189 372.9,188.3 373.6,188.4Z M270.1,182.8 270.5,183.3 270.6,183.9 272,183.5 273.5,182.8 274.7,182.9 274.6,184.1 275.7,184.2 276.8,184.3 278,184 279.4,183.3 278.9,184.3 279.5,184.6 279.8,185.1 280.4,185.2 281.8,184.4 282.9,184.1 284.8,182.5 286.3,182.2 288.1,181.5 288.3,182.3 290,181.7 290.4,182.4 291.1,182.7 291.1,183.6 292.5,183.4 292.9,184.3 294.3,184 295.7,183.8 297.7,182.5 298.4,183.1 300,182.2 301.2,182 302.1,181.2 302.8,180.3 301.4,180.8 300,181.4 299.9,180.7 300.7,179.5 299.7,179.7 299.1,179.6 298.5,179.4 298.5,178.8 299.3,177.9 299.8,177.1 301.3,175.4 302.5,173.9 301.8,173.4 300.8,173.3 299.3,173.5 298.9,172.9 297.8,173.4 297,173.5 295.8,174 294.6,174.9 294.6,174.4 294.5,173.9 294,173.8 293.5,173.6 293,173.2 294.2,171.9 292.6,172.6 291,173.4 290,173.6 289.6,173.4 288.7,173.6 287.5,174.1 286.6,173.9 286.4,173.3 287.1,172.2 286.8,171.6 284.9,172.6 283.1,173.4 282.4,173 280.7,173.6 279,174.6 277.5,175.5 277.4,174.9 276.2,175.1 274.7,176.1 273.3,176.8 274.3,176.6 274.4,177.1 274.3,177.7 275.3,177.5 273.7,178.8 272.2,179.5 273.5,178.8 274.7,178.4 276.1,177.8 276.5,178.1 277.3,178.1 278,178.2 277.7,179 278.1,179.3 279.3,178.9 279.7,179.4 279.6,180.1 279.2,181 278.7,180.5 276.8,181.8 276,181.7 275.5,181.3 275.6,180.4 276,179.3 274,180.6 272.5,181 271.4,182.2Z M262,176.1 263.3,175.9 262.7,177 262.8,177.7 263.7,177.8 264.4,178 264.3,178.6 264.6,179.1 264.4,179.8 265.9,179 267.4,178.2 268.5,177.9 269.9,177.3 271.1,177.4 272.4,177.3 274.2,176.7 276.3,175.8 277.6,175.2 278.8,174.3 280.1,173.6 281.1,173.3 282.3,172.8 282.7,173.1 284,172.5 284.3,172.9 284.7,171.8 283,172.3 282.7,171.7 283.5,170.5 282.9,170.2 281.6,170.4 282.6,169.3 283.6,168.1 281.6,168.8 279.4,170.4 278.7,170.2 278.1,169.8 278.3,169.1 277.7,168.9 276.7,169.1 276.4,168.7 275,169.2 273.9,169.3 272.3,170.1 271.2,170.3 269.1,171.5 268.1,172.7 266.5,173.5 265,174.5 264.8,174 263.2,174.6Z M288.7,167.2 289.5,167.2 291.3,166.4 290.7,167.3 292.2,166.8 292.3,167.3 291.6,168.1 291.4,168.8 291.3,169.3 292,169.6 291,170.8 290.6,171.7 291.8,171.5 293.6,170.5 295.2,169.8 296.5,169.5 297.3,169.6 298.6,169.4 300,169.1 302.3,167.7 303.5,167.7 303.7,168.3 304.5,168.5 304.7,169.2 306.5,168.6 308.2,167.7 309.9,166.5 308.3,167.2 307.1,167.5 306.5,167.3 306.5,166.6 305.9,166.4 305.7,166 305.4,165.6 306.1,164.7 304.6,165.2 303.1,165.7 303.6,164.7 302.2,165 301.7,164.7 301.1,164.4 299.5,165 297.6,165.8 297.9,165.1 298.4,164.3 297.6,164.2 297.4,163.8 296,164.2 294.2,165.1 293.1,165.3 292.4,165.1 290.6,166.4Z M338.5,165.4 339.6,165.4 340.7,165.3 341.6,165.5 343.1,165.2 344.1,165.2 345.2,165.2 346.7,164.9 347,165.6 347.5,166.1 348,166.6 349.6,165.2 351.3,164.2 350.4,165.2 350.1,166 349.7,166.9 349.3,167.8 350.4,167.3 351.4,166.3 352.2,166.1 352.9,166.1 353.7,165.9 353.9,166.3 354.6,166.2 355.6,165.8 357.1,164.9 358.2,164.8 359.4,164.5 360.8,164 362.4,163.4 364.2,162.2 365.7,161.6 367.4,160.7 367.4,161.2 367.8,161.4 368.4,161.5 369.3,161.1 370.8,160.1 370.8,159.3 371.5,159.6 372.9,158.5 374,157.9 374.8,157.8 376,157 376.6,157.2 376.7,157.7 377.7,157.3 378.5,157.2 379.4,156.9 380.4,156.5 381.4,155.9 382.4,155.5 383.3,155.2 383.3,155.9 384.4,155.5 385,155.6 385.3,155.9 385.6,156.2 386,156.5 386.9,156.3 387.4,156.5 388,156.5 388.6,156.6 389.6,156.2 390.2,156.3 391.2,155.8 392.1,155.6 393.1,155.1 394.1,154.3 394.9,154.1 395.7,153.9 396.8,153.1 397.6,153.1 397.7,152.5 397.2,152.3 397.1,151.9 397,151.5 396.6,151.1 395.4,151.6 395.3,151.2 395.2,150.7 394.1,151.3 393,151.6 392.7,151.2 392.9,150.5 392.2,150.6 391.1,151.1 390.2,151.5 389.3,151.8 387.7,152.7 386.2,153.2 386.3,152.3 385.4,152.1 384.5,152.1 383.8,152 383,151.8 381.5,152.5 381,152.1 380.7,151.7 379.8,151.7 378.8,151.7 377.7,151.9 377.6,151.2 376.7,151.2 375.4,151.7 375.3,151 374.5,150.8 373.3,150.9 371.8,151.4 370.7,152 370.1,151.9 369,152.5 368.4,153.2 367.5,153.8 366.5,154.3 366.1,154.1 365.4,154.2 364.5,154.2 363.5,154.1 362.2,154.5 360.8,154.9 359.4,155.5 359.4,154.9 358.3,155.4 357,156 358,155.2 358.7,154.4 358.5,154 359.2,153.3 358.3,153.2 358.1,152.7 356.7,153.2 355.4,153.4 354.1,153.6 352.2,154.6 350.6,155.1 350.6,154.4 349.2,155 347.7,156 346.7,156.1 345.5,156.5 346.7,156.4 347,156.9 348.5,156.6 349.3,156.8 348.4,157.7 348.9,157.8 349.6,157.7 350.2,157.7 350.4,158 349.8,158.7 351,158.2 351.3,158.5 349.7,159.9 348.1,161.3 346.2,162.6 344.7,163 343.1,163.6 342.2,163.5 340.6,164Z M331.7,169.3 332.3,169.5 332.5,169.9 333.1,170 334.3,169.4 334.7,169.7 335.1,170 335.4,170.3 334.7,171.3 335.6,171 336.6,170.5 337.7,170 338.6,169.7 338.9,170.1 339.7,169.9 340.5,169.8 340.9,170 342.1,169.9 342.8,170.2 341.3,171.6 341.1,172.7 341.7,172.9 342.2,173.3 341.6,174.4 341.6,175.3 342.9,174.4 344,174.1 345.1,173.6 346.3,173 347.6,171.8 348.7,170.5 350.1,169.7 351.3,169.6 351.6,169.9 352.8,169.2 353.8,168.5 354.7,167.7 353.8,168 352.8,168.5 352.6,168 352.7,167.4 352.7,166.4 351.4,166.5 350.3,167 349.8,166.8 348.6,167.5 347.9,167.4 347.1,167.5 346.3,167.6 346,167.3 345.6,167 344.6,167.2 344.3,166.9 343.3,167.2 342.1,167.9 341.8,167.5 340.9,167.7 340.8,167.2 340.1,167.2 339.5,166.9 339,166.5 339,165.8 339.1,165 338,165.1 336.3,165.9 335.3,165.9 335.2,165.1 335.2,164.6 334.6,164.3 333.2,164.9 332.6,164.7 331.1,165.4 329.4,166.4 329.4,165.7 328.3,165.8 328.3,166.4 327.9,167.2 327.9,167.8 327.5,168.7 328.9,167.9 329.6,168.1 330.5,168 331.4,167.9 331.8,168.5Z M334.5,161.3 334.9,161.8 334.3,162.9 334.4,163.5 334.7,164 336.1,163.9 338.1,162.6 339.6,162 341.3,161.3 342.4,160.9 343.4,160.6 343.9,160.7 344.4,160.9 345,161 346.1,160.6 347.2,160.1 348.4,159.6 350,158.7 350.9,157.6 351.6,157.9 353.4,156.7 352.4,157.4 351.3,158.1 350.3,158.5 349.2,159.1 349.2,158.6 348.4,158.8 347.6,158.9 347.2,158.8 348.2,158 348.9,157.2 348.8,156.9 348.2,156.8 348.9,155.8 348.8,155.1 347.6,155.6 346.7,155.8 346.2,156.5 344.9,157.5 343.8,158.2 342.7,158.6 342.9,158 341.7,158.4 340.8,158.3 340.1,158 339.7,157.9 339.6,157.5 340.8,156.7 341.1,156.1 339.5,157 338.5,158 337,158.7 336.3,158.5 335.8,159.3 335.8,159.7 334.2,160.9Z M318.4,175.6 319.3,175.2 320.4,174.6 321,174.7 321.2,175.1 321.4,176 322.8,175.8 323.6,175.7 324.2,175.7 325.3,175.1 326.3,174.5 328.2,173.6 329.6,173.4 330.5,172.1 331,171 331.6,169.8 330.6,169.7 328.9,170.4 328.7,169.7 328,169.3 327.4,168.9 325.5,170.2 323.7,171 322.8,171.3 321.6,172.1 320.6,172.9 319.5,173.4 319.6,174.2Z M304.4,176.6 303.4,178 303.9,178.7 305.1,178.5 306.5,178.2 307.3,178.2 308.2,178.1 307.9,179 307.1,180 309.1,178.7 311.2,177.3 312.9,176.3 314.6,175 316.3,174.2 317.6,173.9 317.1,173.6 317.1,173 317.6,172.1 317.8,171.5 316.6,172.1 315.5,172.5 314.3,173 313.3,173.3 312.8,173 311.5,173.5 311.1,173.1 311.6,172.2 310.6,172.4 309.2,173.2 307.8,174 307.1,173.9 306.1,175.2Z M304.1,183.1 305,183 305.7,183.1 306.6,183.3 308.1,182.1 308.8,182.2 308.4,183.2 309.3,183.3 308.8,184.3 310.4,183.9 312.3,182.5 312,181.8 311.5,181.3 311,181 311.7,180 310.7,180.7 309.7,181 308.5,181.7 307.7,181.8 307,181.7 306.2,181.8 305.1,182.5Z M318.6,196.4 319.7,196.1 320.9,195.3 321.1,196.1 322,196.2 323.1,196 323,197 323.4,197.5 323.5,198.2 323.9,198.8 324.3,199.3 325.4,199 326,199.4 327,199 328.1,198.4 329.1,198 330.2,197.4 331.8,195.9 333.5,194.5 332.7,194 332.3,193.3 330.9,193.3 331.1,192 329.7,192.5 328.9,192 328.1,191.6 326.6,192.1 325.6,192.4 324.8,192.6 324.4,192 323.8,191.8 323.3,193.3 322.8,194.8 321.6,195.4 320.5,196.2 319.3,196.7Z M310.6,168.2 312.8,167 312.7,168 314,167.5 314.9,167.5 315.8,167.5 316.3,167.9 316.5,168.5 317.2,168.6 318.7,168.3 319.6,168.7 321.2,168.2 323.2,167.2 323.7,166.2 325,164.9 326,163.6 325.2,163.4 323.8,163.7 321.8,164.7 321.8,164 321.6,163.3 319.8,164.1 317.8,165.1 317,165.2 316.1,165.5 314.9,166.2 313.9,166.7 312.4,166.9 312,166.3 310.8,167.4Z M279.4,166.3 280.5,166 281.7,165.6 282.2,165.8 283.5,165.4 284.9,164.8 286.5,164.1 288.1,163.2 289.7,162.3 290.2,162.5 290.5,162.7 290.4,163.2 289.3,164.2 289.1,164.7 288.8,165.3 288.1,166.1 287.6,166.8 287.5,167.3 287.5,167.7 288.7,167.3 289.9,166.8 292.3,165.7 294.5,164.9 295,164.2 294.8,163.9 294.4,163.8 293.2,164.3 292.2,164.1 292.7,163.1 292.1,162.8 290.4,163.4 290,162.9 288.1,163.6 287.2,163.5 286.1,163.6 284.2,164.3 282.6,164.7 281.1,165.2Z M357.1,242.6 358.1,243.4 357.8,245 359.3,243.4 360.3,244.4 361.5,243.6 362.4,244.1 363.6,243.8 364.3,244.7 365.1,243.7 366.2,243.6 367,243.8 367.9,243.8 367.6,245.3 368.6,245.8 369.6,245.4 370.6,245.6 371.4,244 372.6,242.6 373.4,241 372.3,240.3 372.3,239 372,237.9 371.2,236.8 369.7,236.8 368.7,235.9 367.3,235.9 366.5,234.9 367,233.2 368.1,231.9 369.5,231.3 368.6,231.3 367.6,231.8 366.8,231.7 365.9,231.8 364.9,233.1 364.5,234.6 363.4,235.6 362.4,236.8 361,238.1 360.7,239.9 359.4,239.8 358,240.6 358.1,241.7Z M201.8,233.3 202.3,233.9 202.5,234.7 201.3,236.1 200.6,237.4 201.6,237.5 203,236.7 204.5,236.3 204.2,237.6 205.5,238 206.8,238.3 207.9,239 207.8,240.6 208.9,239.6 209.4,238.5 207.9,238.5 207.6,237.2 206.8,236.4 207.4,234.7 206.7,234 205.2,234.3 204.5,233.7 204.2,232.7 203.3,232.4Z M198.7,223.8 198.4,224.8 198.9,225.4 199.2,226 199.2,226.9 199.6,227.8 198.5,229.5 198.1,228.7 198.5,227.5 199.9,226.1 201.3,224.6 200.9,223.9 200.2,223.5Z M160.1,214.7 160,215.9 161.5,215.7 163.5,214.9 164.9,214.7 166.1,213.7 167.2,212.8 165.2,213.5 165.1,212.5 163.8,213.1 162.4,214 161,214.7Z M143.8,198 145.6,197.7 146.8,197.9 147.1,198.6 148.3,198.8 149.8,198 148.9,197.9 149,197.3 147.7,197.5 147.4,197.2 146,197.2Z M141.7,206.7 141.7,207.3 142,207.8 143.4,207.4 144.3,207.5 145.4,206.4 144.9,205.9 143.6,206.1Z M347.2,235.9 348.1,237.1 349.1,238.1 350.1,237.5 351,237.2 351.7,237.6 352.2,238.2 353.1,237.6 352.2,237.1 350.9,237.6 349.9,237.2 349.4,236.2 348.1,236.6Z M344.2,245.6 345.7,245.7 347.1,245.9 347.8,247.3 349.3,247.3 348.7,246.8 348.6,245.9 347.4,246.1 346.3,246 345.2,245.9Z M275.3,319.6 276.5,318.9 277.8,318.5 279,319 280.3,318.7 281.1,317.2 282.7,316.6 283.4,314.7 284.6,315.3 285.9,316 287.1,315.8 288.1,316.3 289,317 289.5,318.1 291.2,318.2 291.6,320 293,320.4 294.5,319.9 295.6,320.6 296.7,321.3 297.8,321.9 298.9,322.6 300.1,322.7 300.5,324 301.5,324.2 302.5,324.6 301.5,324.7 300.9,325.8 299.9,325.9 299,325.6 297.6,325.8 296.2,325.5 294.7,325.8 293.3,325.8 294.2,324.3 295.4,323.2 294.5,322.6 293.6,321.9 292.7,321.4 291.8,320.8 290.5,320.6 289.2,320.3 288,319.6 286.8,319.3 285.8,318.8 284.8,319.1 283.5,319.4 283,318.1 282.1,319.5 280.7,319.5 279.4,319.4 278.2,319.3 276.8,318.7Z M301.4,330.3 302.4,331.3 303.6,331.7 305,331.1 306.3,330.7 307.4,331.9 308.8,332.2 309.8,333 311.1,332.3 311.9,331.2 312.9,330.4 314,330.7 315.1,330.3 316.2,330.3 317.2,329.5 317.1,328.4 317,327.3 316,326.9 315,327.4 313.6,326.5 312.1,325.9 311,326.2 309.9,326.8 309.1,326.1 308.2,325.6 307.2,325.9 306.3,326.3 305.4,326.1 304.5,325.9 304.8,327.6 306.1,328.3 306.7,329.5 305.7,328.3 304.1,328.9 302.9,330Z M290.9,330.4 291.4,331.3 292,332 293,331.5 293.9,331.9 295.2,332.7 296.5,331.6 295.4,331.1 294.6,330 293.4,329.6 292,329.8Z M88.4,328.3 89.3,328.6 90.3,328.5 91.1,327.7 91.9,326.8 92,325.6 91.6,324.6 90.4,325.6 89.5,324.6 88.7,325.3 88.2,326.4 88.3,327.3Z M117.1,226.1 119,224.7 120,224.9 119.4,225.9 119.3,226.7 121.7,225.3 123.9,224.4 122.5,224.8 122.4,224.1 120.9,225.1 119.4,226.1 118.3,226.1Z M481.3,277.8 482.8,277.5 484.1,278.3 485.6,278.6 486.9,279.8 488.5,279.3 489.9,279.3 491.2,280 492.6,279.5 493.5,278.1 494.8,278.1 496,277.5 497,277.5 498,277.1 498.9,276.4 499.7,275.7 500.7,276.1 501.7,275.6 502.6,275.3 503.5,274.8 504.7,274.3 505.9,273.8 507,274.8 508.4,274.8 509.8,273.6 510.6,271.8 512.1,272.9 513.4,274.2 514.6,273.8 515.9,274.2 517.1,273.7 518.3,273.6 519.5,273.9 520.5,273.3 522,272.9 523.3,273.9 522.9,275.1 522.1,276 522.4,277.8 522.7,278.9 523.5,279.6 522.5,279.9 521.9,280.9 521.9,282.3 521.1,283.2 522.5,283.6 523.7,284.4 525,285.6 526.1,285.3 527.2,285.8 528.4,285.5 529.3,286.5 530.6,286.7 531.9,287.2 533.1,287.7 534.4,288 534.8,289.4 535.3,290.7 536.6,291.4 537.9,291.7 539.2,291.9 540.5,292.5 541.7,293.1 542.9,292.5 544,293.2 544.9,294.3 546,293.4 546.8,292.2 547,290.6 546.9,288.9 548.1,289.9 549.2,288.8 549.8,287.7 550.3,286.5 551.2,287.2 552.3,287.4 553.3,287.5 554.4,287.4 555.5,288.5 556.5,289.8 557.9,289.2 559.4,290.1 560.7,289.7 562.1,289.6 563.3,290.5 564.5,291.3 565.8,291.7 567.1,291.9 568.4,292.4 569.7,292.5 571.1,292.2 572.2,291.3 573.5,291.4 574.6,290.7 575.3,289.7 576.4,289.2 577.3,290.1 578,291.3 578.6,293.3 579,295.4 579,296.9 579.6,298.2 580.8,299.7 581.9,301.2 582,302.6 582.9,303.6 583.8,305.5 584.9,307.3 584.9,309.1 585.5,310.8 586.6,312.1 587.9,313.3 588.4,314.7 588.4,316.3 588.9,317.5 590,318 590.6,319.5 591.9,319.3 592.3,320.8 592.9,322.3 593.2,323.3 593.6,324.4 593.4,325.4 593.4,326.5 594.2,327.8 595,329 595.5,330.5 596.8,331.3 597.7,333.1 598,335.1 599,336.7 599.8,338.6 600.9,339.1 601.8,340.3 602.5,341.6 603.9,341.9 605.1,343 606.7,343.2 607,344.9 608,346.4 609.3,346.6 610.2,347.6 610.1,349.1 609.8,350.6 610.6,351.3 610.9,352.3 611.3,353.4 612.3,353.9 613.6,353.6 614.9,354.2 615.8,352.4 616.6,350.6 618.4,351.3 620.1,352.1 621.4,351.4 622.8,351.9 624,351 625.4,351.5 627,351.4 628.3,350.4 629.8,349.9 631.4,349.8 630.9,350.9 631.2,352 631.8,353.2 631,354.2 631,355.5 630,356.2 629.2,357.1 629.6,358.4 629,359.6 629.2,360.9 628.8,362.2 627.9,362.9 626.8,363.9 627.2,365.4 626,365.9 625.9,367.4 624.7,368 624.1,369.3 624.2,370.8 623.3,372 623,373 622.7,374.1 622.4,375.3 621.4,375.7 620.9,376.8 619.9,377.1 618.9,377.4 618.1,378 617.5,379.2 616.3,379.5 615.8,380.7 614.9,381.6 614.1,382.6 612.8,382.5 611.1,382 610.2,383.8 609.7,385.3 608.9,386.7 608.3,387.9 607.9,389.1 607.1,390.1 606.2,390.9 605.5,391.9 605.1,393.1 604.1,393.7 603,393.6 603.5,395 602.5,396 602.2,397.3 601.1,397.8 600.5,399.2 600,400.5 599.4,402.4 598.8,404.2 599.5,405.1 600.1,406 599.5,407.2 599.6,408.6 599.6,410.1 600.5,411.1 601.2,412 601.5,413.2 601.5,414.5 600.9,415.6 601.9,416.7 603,417.7 603.6,419.1 602.9,420.4 603.6,421.8 602.8,423.1 603.6,424.4 603.7,426 602.4,427.5 603.3,429.1 603,430.6 601.9,432 601.8,433.8 600.3,434.4 599.6,436.1 597.9,436 597,437.7 595.3,437.1 594.2,438.8 593.8,440 592.8,440.8 591.7,441.2 590.9,442.1 590.2,443.2 589.1,443.7 588.3,445 587.1,445.1 586.1,446.8 586.6,448.7 587,450.4 588,451.7 588.4,453 587.9,454.4 588.1,455.8 588,457.1 587.6,458.2 586.8,458.9 586.2,459.8 585.2,460.1 584.1,460.4 583.3,461.5 582.3,461.6 581.2,461.6 580.5,462.5 580.1,463.4 580.1,465.2 580.6,466.8 579.9,468 579.7,469.4 579.3,470.8 578.9,472.2 578.4,473.8 577,473.8 575.9,474.4 575.1,475.5 574.1,476.2 573.5,477.5 572.8,478.6 572.2,479.7 570.9,480.6 570.2,482.2 569.3,483.5 568,484.2 566.4,484.8 564.8,484.4 563.1,485.1 561.5,485.9 560.6,487.8 559.2,487.6 557.8,487.6 556.4,488.1 555,488.1 554.1,487.8 553.2,487.3 552.4,488.3 551.3,488.4 550,489.4 548.9,490.7 547.7,489.8 546.1,490.2 545.1,490.1 544.4,489.2 543.4,489.3 542.4,488.9 542.4,487.4 542.9,486.1 542.3,484.9 541.5,483.9 541.7,482 542.4,480.3 541.9,479.1 541,478.3 540.5,477.1 540.1,475.8 538.9,475.4 538.5,474.1 538.6,472.8 538.2,471.6 537.2,470.4 536.4,468.9 535.9,467.3 535.1,465.9 534.7,463.8 534.3,461.8 533.6,461 533.7,459.8 534.1,458.7 533.5,457.7 533.1,456.1 533.6,454.4 533.1,452.8 533.3,451 532.2,449.9 531.2,448.7 530.6,447.2 529.8,445.8 530,443.8 528.7,442.7 528.2,441.4 527.8,440.1 527,439 526.9,437.6 527.6,436.6 527.6,435.3 527,434.3 527,433 526.4,431.1 526.5,429.1 527.6,427.5 528.9,426.1 530.2,424.9 531.3,423.4 531.7,422.2 531.5,420.9 531.9,419.7 532.4,418.6 533.1,416.7 532,415.2 531.3,413.7 530.9,412 530.7,410.5 531.6,409.4 531.7,408.1 532.2,406.9 532.6,405.1 531.3,403.9 529.9,404.3 528.6,403.6 528.8,401.8 527.8,400.5 526.8,400.1 525.7,399.7 525.6,398.4 525.2,397.2 524,396.2 522.5,396.1 523.3,394.2 521.7,393 520.8,391.7 521,390 520.5,388.3 519.1,387.6 520.1,385.9 521.2,384.3 521.9,383.3 521.5,382.2 521,381.1 521.1,380 521.2,378.8 522,378 521.8,376 521.7,374.1 520.4,373.3 519.6,372 518,371.7 517.3,372.4 516.4,372.9 515.5,372.4 514.6,372.3 513.3,372.1 512.2,372.6 511.1,371.6 510.9,370.1 510.1,369 509.3,368 508.3,367.4 507.7,366.4 506.3,367 505,366.2 503.7,365.9 502.4,365.4 501.1,365.9 500,366.8 498.7,367.7 497.1,368.4 495.5,368.8 494.7,370.3 493.3,371 491.9,371.5 490.4,371.2 489.4,370.6 488.5,371.2 487.7,370.4 486.7,370.2 485.4,370.8 484,370.6 482.7,370.5 481.4,369.9 480.5,371.6 478.7,371.7 477.1,371.8 475.6,372.4 474.5,373.3 473.1,373.1 472.9,371.7 472.1,370.5 470.6,370.1 469.1,369.5 468.5,367.8 467.4,366.5 466.5,365.6 465.5,364.7 464,364.3 462.9,362.9 463.5,361.8 463,360.7 461.8,360.8 461.1,359.9 459.4,359 459.8,356.9 459.5,355.6 458.9,354.4 457.6,354.3 456.9,353 455.7,353.1 455,351.9 454.1,351.2 453.8,350 452.9,349 452,348.2 450.9,346.6 451.7,344.9 451.2,343.4 450.6,342.3 450,341.3 451,340.6 451.9,339.8 451.8,338.4 452.7,337.3 453.4,335.9 454.3,334.6 453.8,333 454.1,331.3 454.1,330.2 453.5,329.2 452.8,328.3 452.9,327.1 452.7,326 452.7,324.8 452.3,323.8 451.6,322.9 451,321.7 451.6,320.5 452.5,319.7 452.8,318.4 453.3,317.4 453.5,316.2 454,315.2 454.5,314.2 455.2,313.4 455.5,312.3 456.1,311.5 456.5,310.5 457.3,309.9 457.8,308.9 458.1,307.8 458.6,307 459.7,306.7 460.7,307.3 461.5,306.4 462.5,306.1 462.3,304.9 461.9,303.7 462.1,302.4 462.9,301.5 464.5,301.2 465.1,299.3 466.5,299.8 467.9,298.8 468.7,298.1 469.1,296.9 470.1,296.5 471,295.8 471.6,294 471.2,292.4 471.1,290.7 471.7,289.1 472.7,287.9 473.4,286.3 474.6,285.3 475.7,284.9 476.9,284.4 477.8,283.5 478.9,283.2 479.3,282.1 480.1,281.5 480.5,280.5 481,279.6Z M626.1,421.6 626.1,423 626.7,424.2 627.4,425.2 628.2,426.1 628,428 628,429.8 627.8,431.7 628.6,433.4 627.7,433.3 626.7,433.7 626,435 625.7,436.6 625.8,438.1 625.3,439.7 624.2,440.7 624.8,441.9 624,442.7 623,443.1 622.6,444.1 622.3,445.1 622.1,446.2 622.4,447.2 621.7,449.2 620.3,450.7 620.8,451.6 620.7,452.7 620.4,453.7 620,454.7 618.6,455.8 617.5,457.1 618.2,458.9 617.4,460.7 616.2,461.6 614.8,461.3 613.6,462 612.4,462.5 611,461.6 609.7,460.7 608.9,459.7 608.3,458.5 608.9,457.2 609.3,455.8 609.3,454.7 608.9,453.8 608.6,452.8 608.5,451.7 609.2,450.3 609.3,448.6 610.3,447.5 611.5,446.6 611,445.3 611.3,443.9 611.3,442.5 611.1,441.2 611.5,440.1 611.6,438.9 611.3,437.8 611.3,436.7 612,435.5 612.5,434.3 613.9,434.2 615.2,434.2 616.4,433.6 617.6,432.7 618.7,431.9 619.4,430.4 620.3,429.1 621.8,429.1 622.8,427.8 623.2,426.1 624,425 624.6,423.8 625.3,422.7Z M482.7,276.9 481.5,276.4 480.3,275.7 478.7,275.1 477.6,273.6 476.8,274.2 475.8,274.1 474.9,273.6 473.9,274.2 474.2,273.1 474.4,272.1 474.1,271.1 474.3,270 473.3,269.6 472.6,268.8 472.8,267.4 472.5,266.2 472.9,264.7 474.2,264.6 474.5,263.1 474.8,261.6 474.6,260.2 474.5,258.9 474.4,257.4 473.6,256.2 474.5,255.4 475.4,254.6 476.7,255.1 477.5,253.8 478.6,254.4 479.7,254.9 480.9,254.7 482.1,254.3 483.2,255 484.4,255.6 485.5,254.7 486.9,254.7 488.1,254 489.4,253.3 490.7,253.9 491.7,255 492.3,253.2 493.1,251.5 493.7,250 493.4,248.5 493.2,246.7 493,245.6 492.4,244.8 491.7,244 490.8,243.8 489.8,243.5 489,242.6 488,242 487.6,240.7 486.6,241.3 485.7,242 485.3,241.1 484.8,240.3 485.9,240 486.9,239.2 487.9,239 489,239 490,238.8 490.8,238.2 491.6,238.8 492.3,239.5 491.3,238.3 491.5,236.5 492.3,237 493.2,237.4 494.7,237.5 496.2,237.1 497.2,236.9 497.7,235.8 498.7,236.4 499.5,235.3 499.5,234.1 499.9,233 500.7,232.5 501.6,232.2 502.4,232 503.3,231.7 504.7,231.4 505.3,229.8 505.5,228.1 506.6,227.2 507.5,226.6 508.4,226.1 509.2,226.5 510.1,226.5 510.8,225.7 511.7,225.8 512.3,224.8 513.2,224.5 514.1,225.2 515.1,225.2 515.2,224.1 515.2,222.8 515.3,221.5 514.3,220.9 513.9,219.5 514.1,218 513.7,216.4 514.7,215.3 515.9,215.2 517.1,215.3 518.2,214.7 519,213.5 519.5,215.3 519,217 519.9,217.5 519,217.9 518.5,218.9 518.2,220.1 517.7,221.2 518.5,222.9 519.5,223.4 520.4,224.2 521.7,223.8 523,223.5 523.8,222.8 524.7,223.5 525.6,223.2 526,222.2 526.9,223.4 528,224.4 528.8,222.9 529.8,221.7 530.5,221.3 531.3,221.4 532.2,221.5 532.7,222.5 533.2,220.8 534.6,220.8 535.8,221.6 537.1,221.8 537.7,223.1 538.7,222.6 539.9,222.8 540.4,221.4 541.4,220.5 542.7,220.4 542.5,219.2 542.1,217.4 541.8,215.6 542.1,214.7 542.7,214.2 543.8,213.7 545,213.6 546.4,214 547.2,215.6 548.5,215.6 548.7,214.2 548.7,212.8 547.5,212.1 546.5,211.1 546.2,209.4 547.4,208.9 548.7,208.7 549.9,209.2 550.9,210.2 552,209.6 552.4,208.3 553.2,208.4 554,208.3 554.8,208.6 555.7,208.6 556.4,207.5 557.7,207.5 558.8,207.2 560.1,207.5 559.3,206.6 558.4,205.9 557.5,206.2 556.5,205.6 555.3,205.5 554.3,206.1 553.2,206.4 552,206.1 551.3,206.5 550.7,207.1 549.8,207.1 548.9,206.8 548.4,208.1 547,207.7 546,207.8 544.8,207.6 543.9,207.8 542.9,207.2 542.2,206.3 541.3,205.6 540.4,204.5 540.5,203.1 540.8,201.8 540.5,200.4 540.4,198.8 541.6,198.4 542.7,198.1 542.9,196.5 543.8,195.6 545.2,196.2 545.5,194.5 546.4,194.3 547.2,193.7 546.4,194 545.5,193.6 544.4,193 544.2,191.6 543.1,190.8 542.2,191.4 541.3,191.7 540.5,192.1 540,192.8 539.5,193.3 538.7,193.7 538.5,194.8 538.3,196.1 537.5,196.9 537.1,198.2 536.3,199 535.3,199.5 534.2,199.6 533.1,200.2 531.8,200.7 531.9,201.8 532.1,203 532,204.1 532.2,205.3 533,206.1 533.9,206.6 534.8,206 535.7,207.2 535,208 535.1,209.1 534.7,210.1 534,210.4 533.1,210.4 532.5,211.1 532.4,212.8 531.8,214.2 532.1,215.5 531.9,216.7 531.4,217.5 530.7,218.1 529.8,218.6 528.8,218.5 528.2,219.5 527.4,220.1 526,219.9 524.7,220.1 523.9,218.4 523.2,217.2 523.3,215.8 522.2,215 521.8,213.6 520.9,213.2 520.2,212.4 520.1,211.3 520,210.3 519.6,208.7 518.7,207.5 518,208 517.5,208.8 516.8,209.4 516.4,210.3 515.6,210.9 514.9,211.5 514.2,212.3 513.3,212.5 512.2,212.7 511.1,212.8 510.6,211.7 509.6,211.4 508.9,210.7 508,210.3 507.1,209.6 507,208.3 507.3,207 506.6,206.1 506.2,204.6 506.2,203.1 506.2,202.1 506.6,201.2 507.4,201 508.2,200.9 508.5,199.8 509.4,199.6 510.3,198.8 511.2,197.9 512.3,197.9 513.4,197.7 514.3,196.7 515.4,197.2 516.3,196.7 516.8,195.6 517.4,194.8 518.2,194.2 518.9,193.4 519.5,192.5 519.8,191.1 521,191.1 522.1,190.8 522.8,189.7 523.6,188.6 524.3,187.7 524.4,186.7 524.9,186.1 525.7,186 526.2,185.4 527.2,185.1 528.1,184.6 529,184.1 529.8,183.3 530.6,182.6 531.7,183.4 531.7,182.1 532.3,181.3 532.7,180.2 533.6,180.1 533.6,179 533.8,178 534.6,178.5 535.3,179.4 536.1,179.9 536.9,180.3 537.8,179.5 539,179.8 539.7,180 540.4,180.5 540.4,179.6 540.8,179 541.5,178.2 542.4,177.6 543.5,177.7 544.6,178 545.4,177.2 546.6,177.7 547.7,178.5 548.8,178.3 549.9,178.5 551,178.8 551,177.6 551.6,176.7 552.6,177.2 553.5,177.8 553.8,179.4 555.1,179.8 554.6,181.1 553.5,181.5 554.4,182.2 555,181.6 555.7,181.3 556.4,181.1 557.3,181.6 558,182.5 559,183 559.7,182.5 560.3,182.3 561.1,182.5 561.9,182.9 562.7,183.4 562.9,182.4 563.8,182.6 564.7,183.4 565.4,183.1 566.7,183.8 567.6,183.3 568.9,183.7 569.9,185.2 571,185.5 572,185.3 573,185.4 574.2,186.1 575,186.6 575.9,187.3 576.7,187.8 577.6,188.4 577.1,188.9 576.5,189.2 576.6,190.4 575.6,190.3 574.8,190.6 573.8,190.6 573.8,192 572.6,191.9 571.7,192.1 570.6,192 569.4,191.8 568.6,190.3 567.3,190.2 566.1,190.2 564.7,189.3 563.4,189.2 562.5,189.1 561.6,189 560.8,188.4 559.9,188.1 560.6,188.1 561.4,188.8 561.8,189.8 562.7,190.3 563.3,190 563.7,189.4 564.2,190.3 564.9,191 565.5,192.4 566.2,193.7 566.6,195 567.8,194.9 569,195.8 570.3,196 571.5,196.6 572.6,196.4 573.7,196.6 572.7,195.1 572.6,193.5 571.4,193.5 570.2,193.4 571.2,194 572.3,194.6 573.3,195 574.4,195.4 575.3,195.3 576,194.7 576.9,194.3 578.1,194.9 577.4,194 577.4,193 576.7,192.3 576,191.6 577.2,191.7 577.6,190.6 578.2,189.7 579.5,190 580.4,189.3 581.7,189.7 582.9,191.3 584.2,191.1 583.7,190 583.7,189 583,188.1 582.4,187.2 581.3,185.6 580,184.3 581.4,184.8 582.8,185 583.7,185.6 584.5,186 585.1,185.6 585.5,185.1 586.4,186.4 587.7,187.3 588.8,188.4 589.4,187.6 590.2,186.9 590.1,185.7 589.9,184.5 590.6,184.1 591.2,183.5 592.4,183.9 593.4,185.2 594.4,185.3 595.1,184.8 595.8,184.7 596.7,185 597.4,185 598,184.7 598.9,185.1 599.7,185.3 600.4,185.3 601.1,185.1 602,185.1 602,184.1 602.4,183.6 602.9,183.1 603.9,184.1 605,184.6 605.7,184.4 606.6,184.3 607.6,184 609.1,184.5 610.5,184.9 611.5,184.6 612.2,184 612.8,183.3 612.6,182.4 611.9,181.5 613,182.1 614,182.4 615.2,182.9 616.3,183.8 617.6,184.3 617.9,183.4 618.5,182.9 619.1,182.5 619.5,181.5 620.7,181.6 622.1,182.8 623.6,183.6 624.7,183.6 626.1,184.6 626.7,184.4 627.4,184.3 628.1,184.1 628.4,183.6 627.1,182.4 626.5,183 625.5,182.5 624.5,181.8 623.5,180.8 622.6,179.5 622.3,178.3 623.3,178.2 622.7,176.8 623.3,176.5 623.6,175.8 622.8,174.5 623,173.6 623.5,173 624.2,172.7 624.7,172.5 625.6,172.8 625.8,172.3 626,171.7 626.9,172.1 627.8,172.8 628.7,173.4 629.6,173.9 631.2,175.4 632.4,177.1 631.9,177.5 632.4,178.6 633.1,179.7 633.8,180.8 635.4,181.8 636.9,183.3 638.1,183.9 638.9,185 639.9,186.1 640.3,187.2 639.3,187.2 638.3,187.4 637.8,188.1 637.6,189.2 639,189.9 640.1,190 641.1,190.3 642,190.5 642.9,190.6 644,191 643.9,190 642.9,188.8 642.6,187.8 642.5,186.9 641.7,186 640.9,185.1 640.4,184.1 639.5,183.3 638.2,181.9 636.7,181.1 636.3,179.7 635,178.3 634.4,177.1 634.1,176 634.2,175.1 634.8,174.6 635.3,174.1 636.1,173.7 637.2,173.7 638.8,175.1 638.8,174.3 639.1,173.7 640.3,174.4 641.4,174.8 641.8,176.3 642,177.5 642.5,177.3 643.6,177.8 643.3,176.9 644,176.7 645,177.2 645.9,177.3 646.2,176.8 645.9,175.8 647.2,176.2 648.6,176.7 650.2,177.8 651.6,178.3 653,179.3 654.4,180 653.8,179.1 653.9,178.5 653,177.7 652.3,176.8 651.3,176.6 650.3,176.1 649.2,175.6 648.1,175.1 646.6,173.9 645.3,172.6 643.9,172.1 643,172.2 643,171.3 642.7,170.2 644.1,170.7 645.6,171.6 646.2,171.3 647.2,171.5 648.1,171.7 648.7,171.5 650.1,172.1 651,172 652.3,172.7 653.7,173.4 653,172.2 652.1,171 652.1,170.2 652.7,169.8 651.5,168.6 653,169.6 654.3,170.2 655,170 655.5,169.6 655.6,169.1 655.8,168.6 655.8,168 655.5,167.2 656.3,167.3 657.4,167.7 657.3,167.1 658,167 659.1,167.6 660.3,168.5 661.4,168.9 662.5,169.5 663.2,169.6 663.7,169.4 664.4,169.3 664.2,168.7 664.8,168.5 664.8,167.9 664.1,167 663,166.1 664.3,166.6 665.7,167.6 666.8,167.8 666,166.7 666.8,166.3 668.7,167.1 668.5,166.5 668.1,165.8 668.1,165.4 667.9,164.8 666.9,163.7 667.7,163.5 669.2,164.4 670.7,165.1 670.7,164.4 671.7,164.3 672,164.1 673.3,164.6 672.6,163.8 671.5,162.9 672.6,162.9 672.7,162.3 674.1,162.6 674.8,162.4 676,163 677,163.4 677.4,163.1 678.3,163.3 679.3,163.7 680.4,164.1 681.8,164.7 681.5,164 682.9,164.4 684.1,164.7 686.2,165.6 686.4,165 686.9,164.7 686.9,164.1 687.6,163.9 689.5,164.8 689.8,164.3 691.7,165.1 692.7,165.3 694.1,165.9 695.1,166.1 696.5,166.8 697.1,167.5 697,168 698.2,168.9 699.5,169.8 700.2,171 699.1,170.9 699.6,171.9 699.5,172.6 699.4,173.1 698.7,173.1 699.1,173.9 699.6,174.7 698.5,174.1 697.3,173.4 696.2,172.9 695,172.2 693.8,172 693.3,172.3 692.7,172.5 692.2,172.9 692.9,172.9 693.6,172.9 694.4,172.9 693.8,172 693.8,171.4 693.9,170.9 694.9,171.1 695.8,171.2 696.1,170.9 697.5,171.5 698.3,171.7 699,171.7 699.1,171.3 699.5,171 700.5,171.2 701.5,171.5 703,172 703.9,171.9 704.4,171.6 705.6,171.7 706.5,171.6 707.1,171.2 708.9,172 710.1,172 711.3,172.2 712.4,172.2 713.5,172.7 714.7,173.4 716.5,174 718.5,175.1 718.9,174.5 719.2,173.9 718.9,173 719.1,172.5 719.5,172.1 720.3,171.9 721.7,172.4 723,172.9 723,172.2 724.2,172.5 726.2,173.4 726.1,172.7 725.7,171.8 726,171.5 727.9,172.2 729,172.6 730.2,173.1 731.5,173.8 732.8,174.4 732.7,173.9 732.9,173.5 733.9,173.8 734.7,173.9 735.8,175.3 737.2,176.8 737.6,176.2 739,176.3 741.3,177.5 743.6,178.8 743.9,178.3 744.8,178.3 744.4,177.5 744.2,176.9 744.6,176.6 745.1,176.1 743.5,174.5 744,174 745.9,174.7 748.3,175.9 750.6,177.3 751.5,177 752.7,177.1 754.3,177.8 754.2,177.1 753.9,176.5 753.6,175.9 753.8,175.2 753.8,174.4 754,174.1 753.5,173.4 754.6,173.7 755.2,173.6 756.7,174.6 758.1,175.1 758.8,175 760.3,175.7 761.3,175.9 761.8,175.8 762.1,175.5 762.5,175.3 761.9,174.2 762.9,174 765.2,174.8 766.5,174.8 767.6,175 768.4,175 769.9,175.5 771.1,175.9 772.4,176.1 773.9,176.6 775,176.8 774.4,175.8 775.9,176.7 777.1,177.1 778.7,177.3 779.2,176.8 781.9,178 783.5,178.3 785.1,178.9 785.9,178.8 787.4,179.3 788,179.1 789.9,179.8 790.1,179.3 789.2,178.3 789.8,178 789.3,177.3 790.1,177.3 790.1,176.8 791.8,177.4 793,177.7 794.3,178.2 795.7,178.7 796.9,179 798.4,179.9 799.9,180.5 801.1,180.9 802.7,181.7 802.3,181 803.4,181.2 804.5,181.4 806,182 807.4,182.6 808.6,183 809.8,183.4 810.4,183.3 810.2,182.4 810.1,181.5 811.2,181.7 810.2,180.6 809.2,179.6 810.5,179.9 812.1,180.5 813.6,181.1 814.8,181.3 816.2,181.8 817.3,182 817.8,181.8 816.9,180.9 817.9,181 819.3,181.4 821.1,182.2 822.5,182.6 824.2,183.3 821.9,181.7 821,180.5 823.1,181.4 822.5,180.6 824.2,181.5 825.9,182.3 826.3,181.7 826.5,181 827.6,181.3 829,181.7 831.1,182.7 831.1,182.1 832,182.2 833.1,182.4 832.9,181.8 832.7,181.3 834.6,181.7 837.4,182.9 838.9,183 839.4,182.5 840.6,182.9 841.7,183.1 842.4,183 843.9,183.6 846.2,185.1 848.2,186.3 848.9,187.1 850.8,188.6 852.9,189.9 854.9,191.2 857.1,192.3 859.1,193.7 857.8,193.6 858.3,194.5 857.5,194.5 857.2,194.8 856.3,194.8 855.2,194.5 856.8,195.1 858.4,196.2 859,196.1 859.7,196 862.5,197.6 865.3,199 866.1,199.9 867.6,200.9 865.6,200.3 864.8,200.6 863.1,200.2 860.8,199.3 862.3,200.8 861.9,201.4 860.5,201.3 860.7,202.3 860.7,203.1 859.9,203.6 858.8,203.3 857.8,203.1 858.3,203.9 858.3,204.5 857.7,205 857.2,205.5 856.6,206.1 857.5,207.5 855.8,207.1 854.1,206.7 852.7,206.7 850.6,205.8 848.9,205.3 847.9,205.5 848.1,206.4 848,207.2 847.7,207.6 848,208.4 846.7,208.1 845.5,207.8 845.4,208.4 846.7,209.7 846.3,210.2 847.2,211.4 848.1,212.8 849.6,214 850.5,215.2 851.5,216.4 852.4,217.5 853.9,218.3 854.2,217.8 854.7,218.9 854.2,219.3 854.2,220.1 854.8,221.2 856.4,222.4 856,222.7 854.6,222.1 853.7,222.1 853.2,222.3 854.2,223.4 854.2,224.1 854.7,225 855.7,226.1 855,226.8 853.7,226.9 854.1,228.2 855.5,229.8 855.6,230.8 855.5,231.6 855.9,232.9 854.8,233 853.2,232.4 851.5,231.2 850.1,229.8 849,228.4 847.3,226.9 846.1,225.4 844.3,223.9 842.5,222.6 841.1,221.2 839.4,219.8 837.4,218.2 836.9,217 837.6,216.7 837.6,215.9 835.6,214.4 835.3,213.3 835.1,212.1 834.2,210.6 835.6,210.5 836.4,210 837.1,209.8 837.5,209.5 838.2,209.3 838.6,208.9 838.2,208 839.4,208.1 839,207.2 838,206.1 838.3,205.6 838.5,205.2 837.8,204.2 836.7,203.1 836.9,202.4 837.7,202.1 838.3,201.6 837.5,200.4 837.6,200.9 837.8,201.5 837.2,201.7 836,201.3 834.8,201.5 835,202.6 835.4,203.7 833.8,203.3 832.3,203 830.5,202.3 830.1,202.8 829.4,203.1 827.2,202.4 826.9,203.2 825,202.7 823.5,202.6 824.2,203.9 824.5,205.2 823.3,204.9 823.1,205.5 824.7,206.7 825.3,207.8 827.2,209.4 825.7,208.5 824.6,208.2 823.5,207.9 822.8,208 823.6,209 823.7,209.7 823.3,210 822.4,210 820.7,208.9 819.4,208.7 818,208.4 817.2,208.5 816.4,208.6 815.6,208.8 814.3,208.5 812.9,208 812.2,208.3 812.2,208.9 812.6,209.8 812,210.1 811,210 809.8,209.6 808.5,209.1 807.4,208.9 806.6,208.9 805.4,208.4 805.4,209 804.6,209.1 804.3,209.5 803.4,209.4 802.1,208.7 801.5,209 801.6,209.8 801.6,210.5 802.4,211.5 802.7,212.4 802,212.6 800.5,212 798.9,211.5 799.5,212.8 800.6,214 800.6,214.7 799.7,214.7 798.9,214.8 798.2,215 799.2,216.2 799.4,217 798.7,217.1 798.6,218 799.5,219.4 799.8,220.5 800.3,221.8 801.9,222.7 803.4,224.1 805,224.6 806,224.5 807.2,224.6 808.2,224.4 809,224.1 810.9,225.2 812.7,226.5 814.4,228.2 816.2,229.8 816.1,230.6 816.4,231.7 817.7,232.9 818.7,234.2 819.1,235.2 819.2,236.2 820.2,237.5 821.6,238.5 821.8,239.5 821.9,240.4 823.1,241.6 823.8,242.8 823.8,243.7 822.8,243.7 822.2,244.1 821.6,244.4 820.8,244.5 820.6,245.3 820.2,245.9 819.5,246.1 819.3,246.9 819.4,247.9 820.3,249.1 820.9,250.3 820.6,250.9 820.2,251.5 820.1,252.3 820.4,253.3 820.4,254.7 819.8,255.6 819.3,256.8 817.6,256.5 816.4,256.8 814.9,256.3 813.4,255.9 811.8,256 811.9,257.7 812,258.3 812,259.9 811.2,260.7 811.9,262.5 811.1,263.4 811,265 810,265.8 808.4,265.8 809.3,267.6 811.1,268.6 813,270 814.1,271.1 814.8,272.5 816,273.2 817.2,274.2 817.3,275.7 818.6,277.2 818.5,278.4 819.1,279.9 817.4,279.6 816.7,280.8 816.6,282.1 815.6,282.7 814.2,282.2 812.8,281.7 811.8,279.9 811.9,278.4 811,276.7 810.4,275.1 810.3,274 809.6,272.8 808.9,273.4 807.6,272.8 806.4,272.2 805.2,271.8 804.5,270.5 804.5,269.4 803.4,267.6 801.8,266.4 800.5,265.2 799.5,265.3 799.4,266.3 798.6,266.4 797.8,266.7 796.9,266.8 796.4,267.4 795.6,267.7 795.2,268.5 795.3,266.9 794.1,265.2 794,264.2 794.1,263.4 792.9,264 790.9,262.8 790.3,263.4 789.4,263.6 789.3,264.7 788.9,265.5 788.6,266.5 788.2,267.5 787.3,268.1 785.9,267.6 785.6,268.5 787.1,270.2 788.8,271.2 790.6,272.4 791.1,273.6 792.5,273.9 793.5,274 794.4,273.7 793.9,272.4 794.5,271.8 795.5,271.8 796.5,272.4 798.4,273.1 800,273 800.2,274.5 800,276 799.5,277.5 798.7,277.7 798,278 797,277.5 796,276.9 795.8,277.8 795.4,278.5 795,279.4 794.7,280.2 794.6,280.8 795.8,281 796.6,282.3 797.6,282.9 798.6,283.8 799,284.9 799.6,286 800.6,286.4 801.5,287.4 802.4,288.2 803.1,289.2 804,289.9 805,290.1 805.1,291.3 805.9,292.5 805,293.7 803.7,294.3 805.2,294.3 806.9,295.5 806.3,296.5 806.6,297.8 807,299.1 807.6,300.3 807.1,301.7 805.5,301.2 804.5,302.2 804.2,303.8 805,304.8 805.6,305.9 805.2,306.8 804.3,307.3 804.1,309.1 804.6,311.1 802.9,310.9 801.5,311.8 800.3,312.7 798.6,312 798.9,313.8 798.6,315.4 797.7,315.3 796.8,315.5 796.3,316.3 795.6,316.9 794.6,316.9 793.6,316.6 793.3,317.6 792.7,318.4 791.8,318.7 790.9,318.7 790,319.4 788.9,319.8 788,320.3 786.8,320.5 786.3,321.5 785.3,321.5 784.3,321.5 783.4,321.7 783.2,323.1 783.3,324.6 782.4,323.5 781.6,322.3 780.9,321.3 779.8,320.8 778.3,320.3 776.9,320.5 775.8,320.5 774.7,320.5 774.4,321.7 773.9,322.8 773.2,324.4 772.3,325.9 773.1,326.8 773.6,327.8 773,328.6 772.3,329.2 773.5,329.2 774.4,330.4 774.8,331.6 775.2,332.8 775.4,334.1 776.5,334.7 777.3,335.4 778.3,335.8 779.3,336.1 780,337.1 781.5,338.5 782.6,340.4 783.2,342.2 783.5,344.1 784.5,345.9 784.2,347.9 785,349.3 784.2,350.6 782.8,351.4 781.5,352.7 780.4,353.8 779,354.4 778.9,356.1 777.6,356.9 776.2,357.1 774.8,356.6 773.8,357.9 773.9,359.6 773.3,358.4 774,357.5 773.8,356.4 773.3,355.4 772.1,354.2 770.8,354 769.4,353.6 768.9,351.9 767.9,350.6 766.9,349.7 765.9,348.8 764.3,348.5 763.1,347.3 762.8,346 761.8,345.2 760.7,344.9 759.5,345.8 759.5,347.6 759.6,349.3 758.8,350.7 758.1,352.2 758.1,353.9 757.9,355.3 759.1,355.8 758.9,356.8 758.7,357.8 759.8,358.9 760.7,360.2 761.4,362.1 762.5,363.8 763.2,364.6 763.9,365.4 764.8,365.9 765.8,366.2 767,367 768.2,368.3 769.4,369.5 768.9,370.7 769.5,371.9 770.1,372.9 770.3,374.1 770.9,375.2 770.6,376.3 771,377.4 771.7,378.3 772.8,379.6 772.9,381.4 772,381.3 771.1,381.6 769.8,381.1 768.5,381.6 768.4,380 767.4,378.9 766.1,378 765.1,376.5 764.3,375.9 763.8,374.8 763,374 762.9,372.9 761.8,371.2 761.9,369.2 761.5,367.8 761.3,366.2 760.1,364.7 758.8,364.8 757.5,364.4 756.5,363.3 756.2,361.7 756.4,360.5 756,359.3 756.7,357.5 756.6,355.5 755.9,354.5 755.6,353.2 756.2,352.2 756,350.9 756.2,349.5 756,348 755.1,347 755.2,345.6 754.5,344.4 754.5,343.1 753.1,341.7 752.2,339.8 752.4,337.9 752,335.8 750.6,335 749.9,333.4 749.1,334.4 748.6,335.5 747.9,337.3 746.6,338.3 744.9,337.9 743.3,337.3 743.4,336.2 743.5,335.1 744.1,334.1 743.5,332.8 743.5,330.8 742.5,328.9 741.4,327.2 740,325.9 738.2,324.9 737,324.7 736.3,323.5 735.6,322.3 735.3,321.1 735.2,319.7 734.5,318.4 733,317.6 731.5,317.8 730.7,318.9 729.4,318.7 728,318.8 727.5,320.2 726.2,320.4 724.9,320.2 723.5,320.3 722.3,320.8 722.2,321.8 722.3,322.9 722,324.4 721,325.3 719.9,325.9 718.8,326.8 717.7,327.6 716.8,328.7 716.2,330.2 715.2,331.3 714.1,332.2 712.9,333.4 711.6,334.5 710.1,335.4 709,336.7 708.1,338 707,338.9 707,340.5 705.6,340.9 706.8,341.8 706.9,343.4 707.1,344.8 707.6,346.1 706.7,347.7 706.7,349.7 706.2,350.9 705.7,352.1 706.6,353.1 707,354.5 706.3,356.3 704.9,357.5 704.3,359 702.8,359 702,360.1 701.3,361.2 700.1,359.8 698.7,358.7 697.8,357.1 697.4,355.4 697.2,353.4 696.1,351.6 695.4,350.4 695.1,348.9 694.6,347.4 693.3,346.7 693.1,344.9 691.8,344 690.7,342.7 690.9,341 690.5,339.8 689.9,338.9 688.6,338.1 687.3,337.3 688.1,336 688.1,334.3 687.9,332.8 687.3,331.3 686.5,329.9 686.2,328.3 685.1,326.9 685.6,325.3 685.5,323.6 685.5,321.8 685.3,320.6 685.9,319.8 685,319.3 684.3,318.4 683.7,320 683.3,321.1 682.4,321.7 681.9,322.7 681,323.2 679.9,322.6 678.8,322.2 677.7,321.5 677,320.3 676.2,319.3 675.1,318.5 676,318.1 676.9,317.9 677.3,316.7 678.4,316.6 676.7,316.3 675.1,316.9 674,316.1 673.5,314.8 672,314.1 670.5,313.3 669.1,312.6 669.2,310.9 668.6,310 667.9,309.1 666.5,308.5 665.1,308 664.1,309.1 662.8,309.7 661.4,309.9 660,310.4 658.5,309.9 656.9,309.8 655.8,309.3 654.7,308.8 653.3,308.3 652.5,309.4 651,309.7 650.1,311.1 649,309.8 647.7,308.6 646.4,308.8 645.1,308.3 644.3,307.5 644.2,306.3 643.4,305.6 642.7,304.8 641.6,304.5 640.7,303.8 639.5,302.8 638.6,303.8 638,304.7 637.3,305.6 636.1,305.9 634.8,305.2 633.6,305.5 632.4,304.8 631.9,303.4 630.7,303.5 630.2,302.5 629.5,301.7 628.4,301.2 627.8,300 627.1,298.8 625.9,298.5 625.2,296.7 624,295.2 622.5,295 621.2,293.7 620.7,294.9 619.7,295.4 619,296.1 618.5,297 619.3,297.8 620.2,298.2 620.6,299.3 620.5,300.3 621.3,302.1 622.3,303.4 623.7,304.2 624.6,305 625.3,306.1 626.5,307.5 626.7,309.4 627.3,310.9 627.3,309 627.5,307.3 628.7,307 629.4,308.1 629.2,309.4 629,310.5 628.7,311.5 629.8,312.1 630.6,313.3 631.9,312.8 633.2,312.7 634.1,312.6 635.1,312.8 636.1,312.6 636.7,311.8 637.9,310.8 638.8,309.4 639.8,308.3 640.6,307 641.3,306.2 641,308.1 641.6,310 641.7,311.4 642.8,312.2 644.1,313 645.5,312.9 646.8,313.4 647.9,314.5 648.4,315.7 649.1,316.7 650.3,316.8 651.3,317.8 650.4,319.2 649.9,320.9 650,322.8 648.7,324.1 647.7,323.7 646.7,324 646,325.1 646.6,326.4 645,326.5 644.2,328 644.2,329.7 643.9,331.3 643,332.2 641.9,332.6 641.2,333.7 640.2,334.3 639,334.1 637.8,334.3 636.6,334.9 635.5,335.8 634.4,336.7 633,336.7 631.6,336.4 630.7,337.5 629.4,337.3 628.2,337.6 627.5,339.1 627.8,340.8 626.3,340.7 625.2,341.7 624.5,342.9 623.5,343.7 622.3,344.3 621.1,344.6 620.8,345.7 619.8,346.1 618.8,346.1 617.9,345.8 616.3,346.4 614.6,347 613.6,346.8 612.6,347.3 611.6,347.2 610.6,347.4 609.9,345.5 609.5,344.4 609.1,343.3 609.1,342.1 608.9,341 609.1,339.3 609.1,337.6 608.1,336.3 607.6,334.6 606.4,333.1 606.5,331.1 605.1,330.2 603.5,329.8 603.1,327.9 601.7,326.8 601.5,325.6 600.5,324.9 599.5,324.8 598.5,324.9 598.4,322.8 598,320.8 597,320.3 596,319.8 595.5,318.7 594.9,317.6 595,316.4 595.2,315.3 595.1,314 594.5,313 593.2,311.8 592.1,310.3 591.7,309 591.9,307.8 591.1,306.8 589.9,306.7 589.1,306.1 588.2,305.4 587.9,304.3 587.7,303.2 586.3,302.1 584.7,301.2 585,299.9 586.1,299.3 585.2,298.2 585.4,296.7 585.7,298.3 585,299.6 584.1,300.5 583.9,302 583.1,301 582.1,300.5 582.7,298.7 581.4,297.3 580.6,295.6 579,295.4 578.4,293.3 578,291.3 578.9,290.3 579.9,289.5 580.6,290.9 581.8,291.8 582.7,291.3 583.4,290.7 583.5,289.6 584.1,288.8 584.5,287.9 584.4,286.8 584.8,285.1 585.3,283.5 584.9,282 585.9,281.2 585.6,279.9 585.3,278.7 585.9,277.1 585.9,275.4 585,274.6 583.9,274.6 583.1,275.7 582,274.8 580.9,275.3 579.9,276 578.8,276.5 577.8,277 576.4,277 575.6,275.5 573.9,275.4 572.2,274.5 571.9,276.3 570.9,276.3 569.9,276.6 569.2,275.4 568.2,274.9 567.2,274.9 566.2,274.6 565.2,273.4 564,274.1 563.6,272.9 563.4,271.6 562.2,270.6 560.9,270.3 561.9,270.1 562.8,270 562.2,268.6 561.6,267.3 560,266.7 560.1,265 561.3,265.5 562.6,266 563.6,265.3 564.3,264.1 565.6,264.3 566.8,264 568.2,264.2 568.9,262.9 567.8,262.1 566.6,262.2 566.9,261.6 568,260.5 569.6,261.2 570.9,261 572.3,261.3 573,260.7 573.7,260.1 574.6,260.5 575.4,261.3 576.5,261.7 577.5,261.6 577.6,260.5 577.7,259.3 578.6,260.2 579.7,260.6 580.3,259.7 581.1,259.1 582.8,259.9 584.2,261.3 585.8,262 586.9,263.6 588.2,262.9 589.5,262.5 591.2,262.8 592.7,262.2 593.8,261.8 594.7,260.9 595.7,260.2 597,260.4 596.8,258.8 596,257.2 594.7,256.2 593.9,255.6 593,255.3 592.2,254.5 591.3,254.4 589.9,253.8 588.7,252.9 587.2,252.6 586.1,251.2 584.8,249.8 583.2,249.7 584.1,249 584.9,248.2 585.6,247.7 586.3,247 586.1,245.3 587.6,245.3 588.3,243.9 587.3,243.8 586.4,243.4 585.5,243 584.6,243.2 584.1,244.1 583.1,244.1 582.7,245.1 581.8,246.1 580.7,246.7 579.5,246.6 578.2,246.8 579.2,248.1 580.1,249.4 581.3,249.1 582.7,249.1 581.5,249.7 580.2,250.3 578.8,250.9 577.5,251.8 575.9,251.6 574.5,250.5 573.2,249.3 573.2,248 573.8,247.1 574.7,246.9 575.7,247 574.8,246.9 574,247.1 573.2,246.9 572.3,246.7 571.2,246.5 570.2,245.6 569.2,245.3 568.5,246 568.6,247.4 568.6,248.8 567.5,249 566.6,249.8 565.9,250.3 565.2,250.8 564.6,251.6 564.5,252.7 564.6,254 564.4,255.2 563.1,255.6 562.8,256.7 562.4,257.7 563.2,258.6 564,259.5 565.3,260.6 566.8,261.6 566.5,262.2 565.5,262.4 564.9,263.2 563.9,262.6 563,262.3 562.3,263.5 561.1,264 560.1,265 560.2,263.9 559.5,262.9 558.6,262 557.4,261.7 556.3,261.8 555.4,262.5 555.3,263.6 555.7,264.7 554.8,263.8 553.7,264.2 552.9,263.3 551.9,263.4 551.3,265.2 551.8,266.2 552.3,267.1 553.4,268.8 554.4,270.5 555.4,272.2 554.3,271.3 552.9,271.5 553.5,273.3 553,274.5 553.7,275.8 552.8,275.7 552,276 550.9,275.5 549.9,274.8 548.8,273.7 548.7,272.1 549.4,271.5 549.7,270.4 551.2,271.1 552.8,270.9 551.6,270.4 550.5,269.7 549.2,269.9 548.1,270.1 547,268.3 546,267.3 545,266.1 544.6,264.7 543.6,263.8 543.7,262.5 543.3,261.3 543,259.6 541.8,259.1 540.8,258 539.7,257.3 538.6,256.5 537.4,256.6 536.3,255.9 535.5,254.7 534.6,254.2 533.7,254.5 533.1,253.6 532.4,253 531.8,251.7 531.5,250.3 530.2,249.4 529.8,250.3 529,250.7 529.3,249.5 528.6,248.4 527.7,248.2 526.9,248.9 526.2,249.8 525.2,249.1 525.8,250.4 526,251.8 526,253.1 527,254.6 528.4,254.4 529.3,254.9 530.2,255.5 530.9,256.7 530.3,257.9 531.6,258.5 532.6,259.7 533.9,259.6 535.3,259.5 534.6,260.4 535.7,261.5 537.1,261.9 538.5,262.4 539.9,263.2 540.8,263.6 541.2,264.7 541,265.8 540,265 539,264.4 538,263.8 536.6,264.9 536.4,266.1 536.7,267.6 538,267.9 536.9,268.8 536.3,270.1 535.7,271.4 534.7,270.9 535,269.3 535.9,268.5 535.3,266.5 534.2,265 533.4,264.3 532.4,264.4 532,263.2 530.7,262.6 529.6,262.9 529,261.6 527.8,261.3 526.6,260.8 525.6,259.9 524.2,258.9 522.8,258 522.3,256.9 521.3,256.4 520.7,254.6 520.3,253.5 519.5,253 518.3,252.8 517.3,252.1 516.1,252.6 515.2,253.6 513.7,254 513.2,255.1 512.2,255.4 511.3,255.9 510.3,255.9 508.9,255.3 507.8,255.2 506.8,255 505.4,254.7 504.4,255.4 503.5,255.9 503.5,257.7 504,258.3 503.5,259.6 502.5,260.5 501.3,261 500.3,261.7 499,261.9 498.1,263 497.4,264.7 496,265.5 495.3,266.8 496.1,267.7 496.6,269 495.2,268.6 494.8,270.3 494.3,272.3 493.4,273.1 492.4,273.7 491.2,273.8 490.5,275 489.5,275.3 488.5,274.9 487.7,274.7 486.8,274.4 485.9,274.6 485.1,275.1 484.3,276.8Z M148.1,183.6 147.6,184.5 146.3,185.8 148.8,184.8 150.4,184.6 151.3,184.5 152.7,184.2 152.6,184.7 151.7,185.7 152.7,185.5 152.8,186 152.1,186.8 152.3,187.2 154.4,186.1 155.9,185.8 157.8,185 158.7,185 157.2,186.3 156.5,187.2 156.8,187.6 156.4,188.4 156.2,189.3 156.7,189.8 156.9,190.4 157.6,190.8 155.7,191.6 154.2,192.1 153.4,191.8 150.7,193.2 148.9,193.8 146.9,194.5 146.2,195.3 145,195.4 144.2,195.3 142.6,195.5 143.1,194.5 143.2,193.7 141.2,194.2 142.4,193.1 142.8,192.4 141.3,192.9 140.2,193 138.8,193.4 137.8,193.5 137.4,193.2 137.7,192.5 139.2,191.3 139.5,190.5 139.8,191 137.8,192.4 136.5,192.7 135.4,192.9 133.8,193.7 132.9,193.7 135,192.2 136.3,191.3 138.5,189.9 140.4,188.6 142.6,187.1 144.8,185.6 147.2,184.1Z M482.9,235.5 483.8,235.3 484.7,235.4 485.4,234.6 486.3,234.6 487.1,233.5 488.2,233.9 488.9,234.6 489.8,234.8 490.7,234.7 491.4,233.9 492.6,233.8 493.7,233.4 495.2,233.5 496.7,233.4 498.2,233.6 499.2,232.3 498.3,231.5 497.6,231.3 499,230.4 499.4,229.3 500,228.4 498.9,227.2 497.8,226.5 496.7,227.2 496.2,225.5 495.6,224.1 494.3,223.5 493.3,222.4 493.2,220.9 492.5,219.8 491.4,218.7 490.2,218.7 489,218.4 489.7,217.8 490.5,217.5 491,216.6 491.4,215.6 492.1,214.2 491.3,213.5 490.3,213.4 489.3,213 488.4,213.6 487.1,213.9 487.2,212.7 487.7,211.7 488.4,210.7 489.3,211.1 488.3,211.4 487.3,211.5 486.3,211 485.3,211.1 484.8,212 484.5,213 483.6,213.5 483.4,214.7 483.8,215.8 483.5,217 482.4,217.5 483.5,218.5 483.8,220.1 484.4,218.8 485.4,218.7 485.9,220.2 485.1,221.5 485.6,222.7 486.7,222.2 487.4,221.6 488.2,221.5 488.9,222.7 489.3,224.1 489,225.8 488.3,225.2 487.4,225.2 486.7,225.9 485.9,226.1 486.8,227.2 486,228 485.2,227.5 486.1,228 486.9,228.9 485.5,229.1 484.2,230.1 485,229.6 485.9,229.9 486.4,230.8 487.3,231 488.3,230.9 489.2,231.5 487.7,231.2 486.4,232.1 485.5,233.3 484.5,234.4 483.8,235.1Z M473.2,231 474.2,231 475.2,230.9 476.1,230.9 477.1,230.7 478.2,230 479.2,229.3 480.3,230 481.5,229.2 481.9,227.6 482.5,226.1 483.3,224.4 483.8,222.6 483.1,221.6 482.3,220.6 480.9,220.6 479.6,220.4 478.4,221.6 477.1,222.6 476.3,223.4 475.4,223.8 474.5,223.5 473.7,223.2 473.8,224.4 474.4,225.1 475.1,225.7 475.7,226.4 475,228.1 473.6,228.7 473.4,229.8Z M514.2,158.1 514.6,157.4 515.2,157.1 515.6,156.5 516.3,156.4 516.8,157.3 517.7,157.5 518.4,157.9 519.1,157.7 520,157.1 521.1,157.3 522.2,157.4 523.2,157.5 523.9,158.1 524.6,157.8 524.9,158.6 525.5,159.2 526.1,159.1 526.7,159.2 527,158.6 527.6,158.5 528.4,158.7 529.1,159.1 530,159.6 530.7,159.3 531,158.7 531.4,158.1 532.1,157.8 532.1,156.9 533.2,157.5 534.3,158 535.4,158.4 536.5,159.1 536.3,158.2 536.3,157.4 536.7,157 536.9,156.3 537.6,156.5 538.1,156.2 538.9,156.3 539.6,157.1 538.7,156.9 538.3,157.4 538.4,158.3 538.6,159.2 537.8,158.7 537.3,159 536.6,158.7 536.1,159.2 535.5,158.9 534.8,158.7 534.6,159.4 534.1,159.7 534,160.4 533.9,161.1 533.2,161 532.6,161.1 531.4,160.3 530.2,160 529.3,160.5 528.1,160.5 528.6,160.1 528.9,159.6 529.6,159.5 530.3,160 530.9,160.1 531.6,160.5 531.8,161.6 532.7,161.8 532.1,162.2 531.4,161.8 530.8,162 530.2,162.2 529.7,162.6 529.1,162.8 528.6,163.2 527.8,162.9 527.7,163.8 527,164.3 526.6,165.1 525.7,164.9 525.1,165 524.5,165.3 523.9,165.1 523.2,164.8 522.4,164.8 521.7,164.8 521.2,163.9 520.9,162.9 519.9,162.1 519,161.3 518.3,160.8 518.2,159.9 517.6,159.8 517.2,160.3 516.2,159.8 515.3,159.8 514.5,159.2Z M592.5,177.1 593.8,177.7 595,178.8 596,178.6 597.1,178.8 598.1,178.9 599.2,179.3 600.3,179.5 601.4,179.8 602.1,179.4 603.1,179.5 603.8,179 604.9,179.3 603.7,178.9 602.4,178.5 601.5,177 600.3,175.8 599.5,175.1 598.7,174.4 598.3,173.5 597.6,172.7 597.1,171.2 597.5,170.2 598.8,170.5 600,170.5 600.7,169.9 601.8,169.7 602.3,168.8 602.9,168.2 604.3,168.5 604.2,167.5 605.5,167.7 605.3,166.6 605.8,166.1 606.5,165.8 608.1,167.1 608.9,166.5 609.1,165.7 610,165.5 610.7,165.2 611.5,164.9 612.7,165 613.1,164.4 614.7,165.2 615.1,164.5 614.4,164.3 613.5,164.1 612.8,163.9 612.2,164 611.2,163.5 610.3,162.8 609.2,162.2 608.6,162.3 607.6,161.7 606.8,161.5 606.3,161.7 605.7,161.8 605.6,162.3 606.4,163.3 606.1,163.8 606.5,164.6 606.6,165.3 606.5,166 605.5,165.7 604.7,165.6 605,166.8 603.9,166.8 603.1,167 602.3,167 600.9,166.4 600.1,166.5 599.8,167.2 598.8,167.2 597.9,167.6 597,167.9 596.3,168.5 595.2,168.6 595.2,169.8 594.1,169.7 594.2,170.7 594.5,171.9 594.2,172.5 594.2,173.2 594.1,173.9 594.1,174.6 593.5,175 593.1,175.6 593,176.5Z M655.4,159.6 655.8,159.1 657.1,159.3 658.9,160 660.8,160.9 661.9,161.1 663.1,161.2 664.5,161.5 665.7,161.8 665.8,161.1 667.6,161.7 666.9,160.6 668,160.6 668.3,160.1 669.9,160.6 670.6,160.3 672.5,161.1 672.4,160.4 672.2,159.6 670.8,159.3 668.9,158.4 667.2,157.8 666.8,158.1 666.3,158.2 666.4,158.7 664.9,158.1 665.1,158.8 664.4,158.7 663.2,158.3 662.2,158 661,157.5 659.4,156.8 657.8,156 656.1,155.1 654.5,154.2 653.1,153.8 653.3,154.5 654.3,155.6 653.9,155.9 652.6,155.6 650.8,154.7 649.7,154.7 650.1,155.5 648.7,155.1 648.7,155.6 647.4,155.3 646.4,155.1 647.1,156.1 645.7,155.9 644.9,156 645.4,156.9 646.7,157.2 648.5,158.2 648.9,157.8 650.5,158.3 651.9,158.8 652.8,158.9 654.3,159.4Z M573.3,157.1 574.1,157.7 574.9,157.9 575.2,157.5 575.5,157.2 576.1,157 575.6,156.1 576.4,156.4 576.8,156.1 578,156.3 579.2,156.6 580.7,157.5 581.9,157.7 581.9,157 582.6,156.8 582.8,156.3 582.7,155.6 582.5,154.7 582,153.7 582.6,153.2 584.1,154.1 585,154.3 585.9,154.5 586.7,154.5 587.2,154.2 588.3,154.9 589.4,155.7 590.3,156.7 591.5,157.3 592.6,157.4 592.3,156.4 593,156.2 593.7,156 594.5,156 595.5,156.2 596.5,156.3 597.3,156.3 595.9,155.6 595,155.6 594,155.6 592.5,154.6 592.1,154.7 592,155.2 591.8,155.6 591.3,155.8 590.4,155.5 590.1,155.9 589.1,155.5 588.5,155.5 587.8,155.3 587,155.2 586.5,155.3 585.8,155.2 585,154.8 584.2,154.7 583.8,154.9 583.3,155.1 582.4,154.6 581.5,154.2 580.6,153.8 579.8,153.5 579.6,154.2 578.8,154.1 577.8,153.6 576.8,153 576.3,153.2 576.1,153.7 575.7,154 575.5,154.5 575.6,155.2 575.5,155.8 574.8,155.8 574.1,155.9 573.7,156.4Z M739.1,167.5 740.5,167.9 741.1,167.8 742.6,168.4 744.2,169.1 745.5,169.5 746.8,169.9 746.5,169.3 747.4,169.3 747.6,169 747.8,168.6 748.7,168.7 749.4,168.6 749.7,168.1 748,166.8 750.2,167.7 752.5,168.6 753,168.5 752.8,167.9 751.9,167.2 750.7,166.3 752.3,166.9 753.8,167.5 754.5,167.5 755.5,167.7 756.7,167.8 759,168.8 760.2,168.9 759.8,168.1 761.2,168.5 762.8,168.9 763.8,168.9 763.8,168.4 761.9,167.6 761.6,167.8 760,167.2 758.4,166.3 757.4,166.4 755.2,165.7 754,165.7 754.3,166.4 751.8,165.6 751.2,165.9 750.4,165.9 748.6,165.1 748.3,165.2 748.8,165.8 748.6,166.1 749.6,166.9 749.7,167.3 750,167.8 748.7,167.3 747.3,166.8 746.2,166.5 745.7,166.6 743.6,166 741.9,165.6 740.9,165.7 740.4,166.1 739.6,166.1 739.7,166.7 740.6,167.7Z M832.6,178.3 833.7,178.6 834.7,178.7 835.4,178.7 835.8,178.5 833.3,177.1 831.8,176.7 831.4,177.1 832.3,177.8Z M156.2,178.5 158.6,177.8 160.4,177.4 161.8,177 162.1,177.2 161.6,177.8 161.3,178.3 161.9,177.7 162.5,177.1 160.2,177.9 158.4,178.4 157.7,178.1 158.7,177.1Z M589.1,183.3 590.6,184.1 591.9,184.1 592.4,183.4 592.9,182.8 591.4,182.2 590.1,182 589.4,182.5Z M812.7,223.2 814.8,224.3 817,225.5 818.5,226.3 819.8,227.5 821.2,228.8 821.5,229.8 823.2,231.3 823.9,232.7 825.4,234.2 826,235.6 827.4,236 828.7,237.4 830.1,238.1 831.3,238.5 830,237.9 828.9,237.7 828.1,238 828.1,238.8 828.8,240 828.8,240.8 829.5,241.8 830.2,242.9 831.3,243.2 832.3,243.3 833.6,244.3 834.4,245.6 833.9,246.5 833.1,247.3 831.8,245.6 830,245 828.9,243.7 828.2,242.5 826.9,241.1 826.6,240 825.4,238.3 825.5,237.1 823.5,235.9 822.3,234.2 821.2,233 820.4,231.8 819,231.1 817.8,229.8 817.3,228.8 817.3,228 816.3,226.7 814.8,226.1 813.6,224.6Z M835.9,260.7 837,260 838.3,259.8 837.4,258.7 836.5,257.7 838.4,258.8 839.8,258.7 841.1,258.4 843,259.2 843.7,258.1 845,257.7 845.7,256.7 846,255.3 844.5,254.6 843.1,253.3 841.5,253.3 840.4,252.9 839.3,252.3 838.3,252.2 837.1,251.5 836,250.7 834.9,250 833.8,249.4 832.7,248.8 833.5,250.3 834.2,251.8 835.4,253.8 835.9,255.6 834.7,255.8 833.4,255.6 833.8,257 834,258.3 835.2,259.4Z M838.1,260.7 839.4,262.7 841.4,263.7 842.5,265.5 844.4,266.7 844.3,267.5 843.8,268.1 844.8,269.1 845.2,270.3 844.8,270.9 844.8,271.8 845.5,273.3 846.3,274.8 845.7,275.6 846.5,277.2 847.5,278.1 847.1,279.2 846.5,280.2 845.3,278.7 844.5,279.3 844,280.2 843.1,281.1 842.2,282.2 840.3,281.4 839.7,282.3 840.7,284.3 839.2,284.7 837.7,284.7 836.5,283.6 835.3,282.6 835.1,281.1 833.3,280.7 832,281.4 830.9,281.8 829.9,282.3 828.9,282.6 828.4,283.5 826.7,282.9 825.3,283.2 824.5,282 825.2,280.8 826.6,280.5 827,279.5 827.5,278.7 828.9,278.2 830.6,278.4 831.7,278.8 832.7,279.2 833.4,278.8 833.7,278.1 834,277.1 835.1,277.2 835.2,275.8 835.6,274.8 835.9,273.7 836.1,272.7 836.2,273.7 836.4,274.8 837.1,274.3 837.5,273.5 838.6,273.6 839.2,273 839.5,272.2 840.1,271.7 839.9,270.6 839.9,269.7 840.9,269.5 840.6,268.1 839.6,267 839,265.8 838.1,264.6 837.3,263.4 836.9,262.3 837.2,261.6Z M830,285.6 831.8,286.8 832.8,285.7 834.2,285.3 834.6,284.6 834.8,283.8 834,282.7 832.9,282.3 831.4,282.5 830.3,283.2 830.6,284.6Z M823.7,284.4 823.9,283.1 825.4,283.5 827.1,283.9 828.5,285.6 829.7,286.9 829.9,288.3 830.1,289.7 829.6,290.7 828.3,290.9 828.1,292.2 826.5,291.3 826,289.5 825.1,287.7 824.1,287.2 823.2,286.2 823.7,285.4Z M809.7,309.4 811.2,310.3 811.5,311.6 812,312.8 811,313.5 810.9,314.8 810.9,316.1 810.6,317.3 809.3,317.9 810,319.6 809.1,317.7 807.6,316.3 807.7,315.1 807.7,313.9 807.8,312.8 808.2,311.8 809.8,311.4Z M779.9,327.4 780.9,327.8 781.8,328.5 782.7,329.5 782.7,330.7 783.7,329.8 784.8,328.9 784.9,327.5 785.7,326.5 784.4,325 782.8,325.2 781.1,325.6 780.9,326.9Z M811.4,329.8 812.4,330.2 813.5,330.3 814.8,330.7 815.5,329.8 815.8,331.3 815.1,332.4 816.2,333.3 817.1,334.3 816.7,335.3 815.9,335.9 816.2,337.3 815.3,338 815.1,339.2 814.6,340.3 815.1,341.6 816.2,342.5 817.4,342.9 818.5,343 819.5,343.9 820.7,344 821.6,344.6 822,345.7 822.7,346.6 823.2,347.6 822.2,346.7 821,346.4 819.9,346.5 818.9,345.6 817.9,345 817.2,344 816.3,344.1 815.4,344.1 814.5,344.2 813.6,344 814,342.7 814,341.3 813,339.5 811.3,338.9 811.9,337.4 811.5,335.5 812.4,334.2 811.3,332.7 811.1,331.2Z M819.2,364.4 819.6,363 821,363.2 822,362.9 823,362.6 823.8,363.5 824.1,364.8 824.2,366 825.2,366.8 826.8,367.8 828.4,368.6 829.5,367.6 830.4,366.5 830.7,364.9 831.3,363.5 831.1,362.2 831.2,360.8 830.9,359.3 829.9,358.4 828.7,357.3 827.5,356 826.5,356.5 825.9,357.5 826.6,358.7 826.3,359.9 825.2,361.5 823.4,360.8 822.2,360.8 821.1,361.1 820.3,362.9Z M823.8,347.9 825.4,348.6 827.1,348.8 828.2,350.5 828,352.4 827.1,353.5 826.4,354.8 825,354.1 824.8,352.4 824.8,351.2 824.9,350 823.9,349.2Z M817.9,349.7 819.3,351 821,350.9 821.1,352 821.1,353.2 820.8,354.3 821.1,355.4 820.2,356.9 820,355.3 819.1,353.9 818.1,353.9 817.9,352.7 817.1,351.7 817.5,350.7Z M806.2,360.2 807,359.4 807.6,358.3 808.5,357.5 809.7,357.2 810.9,357 811,355.5 811.5,354.4 812.2,353.6 812,352.4 811.2,351.5 811.5,352.9 810.8,353.9 810.6,355.4 809.2,355.4 808.7,356.8 808.2,358.2 807.5,359.6Z M785.4,379.5 787,380.5 788.9,380.4 790.1,379.2 791.5,378.3 792.6,377.5 793.3,376.2 794.5,375.3 795.9,375.9 796,374.6 796.6,373.5 797.4,372.6 798.4,372 799,370.9 800,370.2 801.2,370 802.3,370.5 803.4,369.2 804.8,368.3 804.2,367.4 803.9,366.3 804.7,365.7 805.2,364.7 806.5,365.6 807.9,366.2 809.5,365.4 810.7,366.9 811.2,368.5 812.1,369.9 811.2,371.6 809.5,372.3 808.3,373.3 808.1,375 808.8,375.9 808.7,377.2 808.4,378.4 809,379.5 809.8,380.3 810.8,380.6 811.4,381.6 812,382.5 811,383.3 810.1,384.2 809,384.6 808,385.5 808.1,387.1 807.5,388.5 806.6,390.2 805.3,391.5 804.3,392.4 804.8,393.8 804.2,394.8 804.3,396 803.2,395 801.8,395.5 800.6,396.4 800,397.8 798.4,397.2 797.2,395.7 796,395.8 794.9,395.3 793.8,395.6 792.7,396 791.4,396.4 790.5,395.4 789.5,394.8 788.5,394.2 789,392.9 788.6,391.6 788.1,390.4 787.8,389.1 786.5,388 785.7,386.4 785.2,385.4 784.5,384.5 785.5,383.8 785.4,382.5 785.2,381Z M748.6,368.6 750.1,369.6 751.4,370.8 752.4,370.7 753.3,371.5 753.2,370 754.5,369.9 755.3,371 756.4,371.8 756.6,373.4 757.9,374.1 758.9,375.2 760.2,375.8 761.4,376.7 762.2,378 763.2,378.7 763.4,380 764.5,379.6 765.5,380.4 766.4,381.6 766.8,383.2 768.2,382.8 769.5,383.7 770.4,384.6 771.1,385.8 771.4,387.1 771.6,388.5 772.8,389.8 773.7,391.2 774.5,392.2 775.6,392.7 776.4,393.8 777.3,394.5 778,395.5 778.7,396.4 777.9,397.5 777.8,398.8 778.2,399.9 777.5,400.9 776.8,401.8 776.7,403 775,402.8 773.3,403 772.1,402.2 771.4,400.9 770.5,399.8 769.2,399.3 768.1,398.7 767.6,397.4 766.9,396.4 766.2,395.4 765.2,394.2 764.6,392.8 764,391.3 763.1,390 761.6,389.3 760.1,388.5 759.9,386.7 759.4,384.9 759.3,383.7 758.6,382.7 757.9,381.7 758.1,380.4 757.8,378.6 757.1,376.9 755.3,377.2 754,375.9 753.2,374.3 752.1,372.9 750.3,372.7 749.3,371.1 749.1,369.8Z M774.7,406 776.3,405.1 777.5,403.6 778.9,403.2 780.3,403.6 781.5,404.5 783,404.5 784.1,405.7 785.5,406.8 787.1,407 788.7,406.3 789.2,405.2 790.1,404.8 791.3,405.1 792.4,405.2 793.4,406.1 794.6,406.3 795.4,407.4 796.7,407.9 797.7,409 799.2,409 799.1,410.4 798.7,411.7 797.6,410.6 796.2,411.4 795,410.9 793.7,410.8 792.8,410.4 792.1,409.7 791.3,410.5 790.3,410.9 789,409.7 787.2,409.6 785.9,409.3 784.6,408.8 783.3,410.1 781.9,409 781.1,408.1 780,407.8 779,407.1 777.8,407.8 776.2,407Z M814.1,383.1 815.2,381.8 816.8,381.6 818.3,381.6 819.8,381.7 821.4,381.6 822.6,382.8 823.6,381.2 825.3,381.7 826.9,381.8 827.9,380.4 827.7,381.5 826.9,382.2 826.6,383.2 826.6,384.3 825.6,384.1 824.6,383.9 823.7,383.5 822.6,383.4 821.6,383.5 820.6,383.4 819.6,383.6 818.6,384 817.2,384 816.1,385.2 815.5,386.5 814.9,387.9 816.3,388.3 817,386.9 817.7,388.1 818.9,388.2 820.1,387.7 821.2,386.9 822,388.2 823.4,388.2 823,389.7 822,390.9 820.4,391 818.8,391.2 819.9,392.9 819.8,395 820.7,396.7 821.8,398.1 821.1,399.3 820.1,399.9 819,400.5 818.2,399.6 818.2,398.5 818,397.4 817.4,395.7 817.2,393.9 815.5,394.5 814.7,396.3 814.3,398.3 815.3,400 815.2,402.1 814,402.3 812.8,402.1 813.3,400.5 812.9,399 812.9,397.5 813.1,396 812.5,394.6 811.3,393.6 811.2,392.3 811.9,391.3 813,391.2 813.9,390.4 814,389.3 813.7,388.2 813.7,387.1 814.1,386.1 813.1,384.6Z M843.9,387.9 844.5,386.8 845.6,386.1 846.8,386 847.9,386.7 849.1,386.7 850.1,387.5 851.2,387.8 852.4,387.9 851.6,388.8 850.9,389.7 851.2,390.8 851.3,392 852,392.7 852.6,393.5 853,394.4 853.7,395.1 855.2,394.4 856.7,393.9 857.6,392.4 858.9,391.3 860.7,391.6 861.9,390 863,389.2 864.3,388.5 865.8,388.4 866.7,389.7 867.5,390.8 868,392.1 869.2,392.5 870.3,393.3 871.7,393 872.6,394.2 873.6,394.9 874.8,395.3 875.9,396.1 877.2,395.6 878.5,395.9 879.4,396.9 880.5,397.6 881,398.8 881.9,399.6 882.6,400.5 883.6,401.8 883.9,403.5 885.5,402.4 886.9,403.6 886.2,404.8 885.4,406 886.3,407.5 887.1,409.1 886.7,410.2 887.2,411.2 887.9,412 888.9,412 889.3,413 889.4,414.1 890.6,414.1 890.9,415.4 891.8,415.8 892.8,415.7 893.6,416.2 894.5,416.5 893.5,416.7 892.6,417.6 892,416.4 890.7,417 889.8,416.6 889.2,415.8 888.2,416 887.1,416.2 886.4,415.5 885.6,414.9 884.7,414.2 885.2,412.8 884.5,412.2 883.9,411.4 883.3,410.6 882.5,410.2 881.2,409.4 880.2,408.3 878.7,408.2 877.3,408.7 876.7,410 876.4,411.5 875.6,412.8 874.2,413.2 873.1,412.2 871.7,412.7 870.3,413.1 869,412.9 868.6,410.9 867.4,409.7 865.6,410.5 864,409.9 862.6,410.4 861.2,410.8 861.5,409.6 861.4,408.3 861.6,407 861.1,406 862.4,405.2 863.8,405.1 862.7,404.4 861.8,403.5 861.7,402 860.6,401.1 860.2,400 859.7,399 859,398.1 858.2,397.3 857.1,396.9 856,397.4 855.1,398.2 854.1,398.7 852.9,397.8 851.8,396.7 850.3,397 848.9,397.5 848.8,395.7 848.5,393.9 850.3,393.4 851.7,392.1 850.7,393.2 849.3,393 848,393 847,392.1 847.2,390.6 846.3,389.5 845.1,390.6 843.8,389.7Z M822.4,416.5 824.1,416.5 824.6,414.6 825.6,413.6 826.7,412.6 827.8,412.3 828.7,412.7 829.3,413.7 830.2,414.3 830.6,413.2 831.4,412.4 832.3,411.8 832.9,410.8 832.1,411.9 831.5,413.1 830.1,412.9 829.2,414.1 828.1,414.4 827,414.7 826,415.4 825,416.2 823.7,416.3Z M800.4,410.2 801.5,410.5 802.6,410.5 803.8,410.2 804.9,410.5 806.6,410.5 808.1,409.2 809,408.9 810,408.9 809.9,410.2 810.9,410.8 812.5,411.1 813.5,412.4 815.2,412.5 816.2,410.8 817.5,411.4 818.9,411.4 820.1,410.4 821.6,410.5 820.9,412 820,411.5 819,411.6 818,411.4 817.3,410.8 816.4,411.4 815.4,411.8 814.4,411.8 813.5,412.3 812.2,412 811.2,412.9 810.2,413.7 809.4,414.8 808.5,413.8 808.1,412.4 806.8,412.9 805.5,412.9 804.4,412.4 803.2,412.2 801.9,412.6 800.8,412Z M834.6,383.1 834.8,381.1 835.8,379.5 836.6,381.1 837.7,382.5 837.3,383.8 836.7,385.1 836.8,386.5 836.4,387.9 835.9,386.7 835.4,385.5 835.2,384.2Z M835.7,395.1 836.5,393.8 837.7,394.5 838.6,395.1 839.4,395.7 840.9,395.6 841.1,394 842.1,394.3 843.2,394.5 842.2,395.7 841,396.3 839.7,396.6 838.5,396.8 837.2,397.1 836.2,396Z M889.4,402.4 890.2,401.2 891.3,400.5 892.6,400.1 893.8,400.5 895.4,400.5 896.8,399.4 898.3,398.9 899.8,398.1 899.3,399.9 899,401.8 897.8,400.7 896.5,401.8 895.1,402.5 894.9,404.2 893.9,403.7 892.9,404 891.9,403.7 890.9,404.2 889.9,403.6Z M707.3,356.3 708.3,356.6 709.3,357.2 709.6,358.4 710.2,359.4 711.2,359.9 711.8,361.9 712.9,363.5 712.2,364.7 712.2,366.2 710.8,366.6 709.6,367.6 708,366.5 708,364.7 707.3,362.9 707.1,361.3 707.4,359.6 707.1,358Z M526.6,271.2 527.8,270.5 529.1,270.6 530.5,270.8 531.9,271.5 533.1,270.8 534.5,270.4 533.7,271.6 533.4,273.3 533.8,275.1 532.5,275.6 531.5,274.5 530.3,274.1 529,274.2 528.2,272.9 526.9,272.4Z M516,262.5 517.3,262.6 518.4,261.6 519.2,262.5 519.9,263.7 520.4,264.7 520.7,265.8 519.9,266.5 519.6,267.6 518.6,267.5 517.9,268.5 516.6,267.6 517.1,266.4 516.6,265.2 516.2,263.9Z M516.8,258 518.2,257.8 518.6,256.2 519.5,257.4 519.1,258.9 518.8,260 518.4,261 517.1,260.1 516.7,259.1Z M554.7,278.7 555.7,279 556.6,278.6 557.5,278.7 558.5,279 559.2,278.2 560.1,278 561.1,278.5 561.8,279.4 560.6,279.3 559.8,280.3 558.9,280.3 558,279.7 557.1,280.2 556.1,279.9 554.8,279.4Z M576.8,280 577.6,279.5 578.5,279.1 579.4,278.5 580.5,279 581.6,278.9 582.4,278.2 581.6,279.2 580.9,280.2 580,281.3 578.7,281.4 577.7,280.9Z M520.2,219.2 520.9,218.5 521.8,218.2 522.7,218 523.7,218.1 523.9,219.3 523.6,220.4 523.1,221 522.7,221.8 521.8,221 520.8,220.6Z M517.6,219.8 518.6,219.9 519.6,219.8 519.7,221.2 518.9,221.5 518.2,220.9Z M535.7,215.6 536.8,214.7 537.1,213 536.9,214.7Z M501.9,266.4 502.6,265.7 503.6,265.5 504.3,266.4 503.4,267.3Z M552.6,268.5 553.2,269.6 553.7,270.7 554.7,270.3 555.7,270.6 556.8,271.2 555.3,270.4 554.1,269.1Z M791.3,453.2 792.2,452.2 792.9,451.1 794.3,451 795.6,451.1 796.2,449.6 796.8,448.1 797.9,447.6 798.9,447.1 799.9,447.2 800.9,447.5 802.5,447.2 803.5,445.5 804.9,445.9 806.4,445.7 807.6,446.3 809.1,446.1 810.5,445.3 811.8,444.5 813.3,444.5 814.2,442.9 814.8,441.5 815.7,440.3 816.1,438.5 816.3,436.7 817.4,436.8 817.6,438 818.6,437.2 819.6,437.6 819.2,436 820.3,434.6 821.6,434.2 822.7,434.3 823.4,432.7 824.5,431.5 825.2,430.6 825.7,429.4 826.8,429.2 827.6,428.2 828.9,427.4 830.4,427.3 830.9,428.2 831.8,428.7 832.6,429.2 833.1,430 834.2,430 835.2,430.3 836.2,428.6 837.5,427 838.6,425.6 839.5,424 841,422.8 842.6,423.3 844.2,422.2 843.8,421 843.2,419.8 844.2,419.8 845.1,420.1 845.8,421.3 847.1,420.4 848.1,421.4 849.5,421.3 850.8,421.8 852.2,421.9 853.4,422.1 854.3,423 855.4,421.9 856.7,421.6 855.9,423.4 855.7,425.2 854.7,426 853.8,427 853,428.8 852.2,430.6 853.1,431.3 854.2,431.4 854.9,432.2 855.2,433.4 856.3,433.5 857.4,433.2 857.5,434.4 858,435.5 859.1,435.5 859.4,436.8 859.9,437.8 860.9,438.2 861.8,437.6 862.8,437.1 864,437.2 864.2,438.5 865.5,437.6 865.6,436 866.8,435.1 867.2,433.7 867.9,432.6 868.2,431.5 869.2,430.4 868.8,429.1 869.4,428 869.2,426.9 868.9,425.8 869.2,424.6 869.6,423.3 870.6,422.6 870.9,421.3 870.8,420.1 871.6,418.7 872.7,417.7 873.7,418.3 874.7,419 873.6,420.1 873.8,421.6 873.4,422.9 873.1,424.1 873.4,425.4 874.2,426.1 875.4,425.7 876.3,426.2 876.9,427.3 876.2,428.5 876.7,430 878,430.6 877.9,431.9 877.2,433 877.4,434.1 877.7,435.2 877.4,436.4 877.3,437.6 877.9,438.5 878.1,439.7 878.2,440.9 878.3,442.1 879.4,442.4 879.9,443.6 880.6,444.6 880.9,445.8 882.1,445.6 883.3,446 883.1,447.4 882.4,448.8 883.6,448.9 884.5,449.6 884.9,450.8 885.1,452.2 885.9,453 887,453.5 887.9,453.9 888.2,454.9 887.9,456.1 887.1,457.1 888.7,456.9 889.8,457.6 889.7,459.3 890,460.7 890.4,462.3 890.9,463.7 891.9,465 890.6,466.7 890.3,468.2 889.7,469.8 888.6,471.7 887.9,473.6 886.2,475.3 885.4,477.3 884.8,478.7 884.4,480.1 883.2,481.3 881.9,482.4 880.6,483.9 879.7,485.5 878.1,486.2 876.6,487.2 875.6,488.6 875.9,489.6 874.7,491.1 873.5,490.8 871.8,491.2 870.5,493.1 869.2,494.6 868.7,496.2 868.2,497.3 867.3,498.3 866.1,498.1 864.5,499.1 863.5,498.8 861.9,499.5 860.2,501.1 859,500.7 857.5,501.8 856.1,503.1 855.7,502.4 855.5,501.4 854.5,501.4 853.6,501 852.6,500.6 851,501.3 850,501.5 849.4,500.9 848.4,501 847.5,501 846.4,500.6 844.8,501.2 843.9,500.6 843.2,499.8 842.1,499.8 842,498.7 842.9,497.4 843.1,496.2 842.9,495.3 842.2,494.9 843.6,494 843.9,492.6 842.7,492.2 841.1,492.6 842.2,492.4 843.2,491.3 843.2,490.4 843.4,489.3 843.7,488.1 843.7,487 843.1,486.2 843.7,484.8 842.4,486.2 841.6,487.8 841.3,489 840.5,490.2 839.3,490.5 838.3,491.7 838.7,489.7 837,489.6 835.3,489.6 835.3,488.3 835.3,487 835.5,485.5 834.6,484.8 834.2,483.5 833.9,482.1 833.2,480.9 832.1,480 830.3,480.8 828.8,480.3 827.3,480.7 825.8,480.9 824.8,481.2 823.9,482.2 822.7,482.2 823,480.9 821.8,481.9 820.8,481.5 819.9,481.3 819,480.9 818.1,482.1 816.8,482.8 815.9,482.5 814.7,482.7 813.5,482.1 811.9,482.6 810.7,484.6 808.9,484.8 807.7,486.2 806.5,487.5 805.4,487.1 804.4,486.5 803,486.9 801.5,487.5 800.5,487.4 799.3,487.7 798.4,487.2 797.1,487.8 795.6,488.4 794.2,488.5 792.8,489.6 791.4,490.8 790.6,489.8 789,490.5 787.9,490.2 786.5,490.5 785.7,489.5 784.7,488.7 785.9,487.1 787.3,485.7 788,484.6 788.3,483.5 788.9,482.3 789.2,481.2 789,480.1 788.6,479.1 789.1,477.8 788.9,476.7 789.6,475.3 789.4,474.1 789.3,472.9 789.4,471.6 789,470.8 789,469.7 789,468.6 788.9,467.7 788.5,466.8 787.9,466.1 788,464.9 788.1,463.7 788.6,462.5 789.6,461.6 789.9,460.3 789.6,459.2 789.8,457.7 790.2,456.2 790.5,454.7Z M848.9,507.9 850.3,507.4 851,508.1 852.4,507.9 852.5,509.1 854,508.2 855.5,507.6 856.9,507.6 857.3,508.5 856.2,510.5 854.7,512.4 853.7,512.2 852.3,513.2 851.2,514.4 850.6,515.7 850.2,514.9 849.4,514.5 848,515.5 846.6,516.3 846.5,515.3 845.8,515 846.8,513.8 847.3,512.7 847.7,511.5 848.2,510.3 848.9,508.9Z M929.4,489 929.8,489.9 930.5,490.6 931.2,491.3 931.4,492.3 931.6,493.3 931.3,494.4 931.9,495 932.4,495.6 931.2,497.5 931.7,498.6 933.2,498.2 934.2,498.7 934.9,499.5 936.7,498.6 937.7,498.9 937.3,500.3 935.9,501.8 934.3,503.2 932.9,503.4 931.4,504.3 930.3,504.3 929,505.2 927.8,506 927,507.1 926.2,508.2 924.7,509.3 923.9,509 922.7,510 921.4,510.6 920.9,509.7 922.4,508 924.1,506.4 923.1,506.4 922.8,505.7 922.5,505 922.6,504 924.7,502.8 926.7,501.3 926.6,500.4 927.4,499.1 928.5,498 929.4,496.8 929.8,495.1 931,493.2 930.2,492.3 929.1,491.7 929.6,490.2Z M917.6,507.3 918.4,507.8 918.6,508.8 919.1,509.6 918.8,510.9 917.2,511.4 915.7,512.1 914.3,513.6 912.6,514.8 911.2,515.7 910.2,516.9 908.9,517.3 907.5,517.9 906.1,518.4 904.7,519.2 903.5,520.3 902.2,521.2 901.1,522.3 900,523.4 900,522.2 898.1,523.1 896.5,524.2 895,525.4 893.8,526 892.8,526.2 892.5,525.7 892.2,525.1 891.5,524.9 890.5,524.9 890.3,524.2 889.9,523.7 891.8,521.9 893.9,520.7 895.3,520.3 896.7,519.1 898,518.7 899.4,517.7 901.1,517.2 903.1,515.9 904.4,516.2 906.6,514.8 908.2,514.1 909.4,514.1 910.6,512.7 911.7,511.2 913.6,509.8 915.2,508.2 916.5,507.6Z M923.7,446 924.5,446.7 925,447.7 926.3,447.7 926.9,448.7 926.7,450.4 927.8,451.3 928.7,452.1 929.8,452.6 928,452.6 927.2,451.6 925.9,451.8 924.6,451.3 924.9,449.6 923.8,449.4 922.8,448.7 923.1,447.4Z M960.4,438.2 962.1,437.4 963.5,438.2 963,440.3 961.5,440.6 960.1,440.3 960.1,439.2Z M655.7,532.5 656.7,532.3 657.6,532.5 658.4,532.9 659.5,532.8 658.4,533.4 657.7,534.5 656.7,534.1 655.5,534.2Z M910.6,405.7 911.7,406 912.8,406.1 913.7,406.8 914.9,407.1 916.1,407.5 917.5,407.4 917.8,408.8 918.2,410.2 918.4,411.5 919.2,412.4 919.1,413.8 919.6,415 919.7,416.7 921.3,416.5 922.4,416.7 923.5,417.1 921.9,417.3 921.1,415.9 920.1,415 919.1,414.1 918,413.5 916.8,413 916.7,411.5 915.9,410.4 915.5,408.8 913.9,409.1 913,408.2 911.8,408.1 911.6,406.6Z M190,609.7 190.5,609.4 192.1,609.7 193.6,609.8 195.2,610.1 198.1,611 199.8,611.2 200.4,611 202.4,611.4 205.9,612.5 208.1,613 210.1,613.4 212.3,613.8 212.1,613.2 211.2,612.4 209.2,611.2 208.4,610.3 209.3,610.2 211.4,610.7 213.6,611.1 216.8,612.3 217.5,612.1 217,611.4 217.1,610.9 218.9,611.2 220.4,611.4 220.2,610.9 221.6,611 222.1,610.8 221.5,610 221.9,609.7 222.5,609.5 223.1,609.2 222.5,608.3 221.7,607.4 225,608.3 224.7,607.5 227.9,608.6 228.9,608.4 228.4,607.6 227.3,606.5 227.9,606.3 229.2,606.4 231,606.8 232.5,607 231.8,606 234.4,606.8 233.8,605.9 232.8,604.8 233.6,604.6 234.1,604.3 233.9,603.5 235.1,603.5 236.5,603.4 237.2,602.9 238.8,603 239.9,602.6 241.2,602.5 242.5,602.3 244,602.3 245.7,602.4 246,601.9 247,601.7 248,601.6 250.6,602.6 250.6,602 251,601.5 252,601.3 252.9,601.2 254.2,601 254,599.8 255.3,599.6 255.4,598.6 256.5,598.5 258.4,599.4 260.5,600.7 262.4,601.4 263.5,601.6 264,601.3 264.2,600.8 263.9,600 264.1,599.5 264.8,599.4 265.4,599.1 266.3,599.1 267.6,599.4 267.6,598.7 268.9,599 269.8,599 271,599.1 272.9,600 272.5,599 273.3,598.8 274.4,599 275.8,599.3 277.2,599.8 278.4,600 278.6,599 279.2,598.2 281.6,598.7 282,597.6 284.4,598.3 285.8,598 288.5,599 291.7,600.5 292.4,600.1 294.5,601 296.7,601.9 297.8,601.9 299.5,602.4 300.5,602.2 302.1,602.6 302.9,602.4 305.1,603.1 306.2,602.8 307.4,602.7 307.7,601.9 308.4,601.3 309,600.5 311.5,601.7 313.7,602.4 314,601.7 313,600.3 313.2,599.6 313.4,598.8 313,597.7 312.7,596.5 313.3,596 313.5,595.2 315.9,596.2 318.3,597.1 321,598.4 323.7,600.5 324.2,599.4 323.3,597.5 324.9,597.4 326.9,597.6 329,598.1 330.8,598.2 333.1,598.9 335.7,600.3 337.6,600.5 338.7,599.9 340.1,599.5 340.2,598.1 341.9,598.5 341.7,597.1 343.7,598.3 344.9,598.3 346.4,598.7 347.3,598.3 348.7,598.5 348.9,597.6 349.5,596.9 350.9,597 351.7,596.5 351.7,595.3 353.7,596.5 355.7,598 356.2,597 357.8,597.1 358.3,596.6 359.4,596.9 360.7,597.4 361.6,597.4 359.9,596.5 358.1,595.3 356.6,595 355.4,595.2 354,594 352.7,592.7 352.4,591.3 351.6,589.7 352.9,589.2 354.5,589 355.7,588.2 356.8,587.4 358.1,587.6 359.2,587.3 360,586.7 361.5,587.2 361.5,585.5 361.5,583.8 362.1,583.2 363,582.7 363.7,582 363.7,580.7 363.5,579.3 364.5,578.7 365.2,578 365.9,577.3 367.5,577.8 368.5,577.1 369.3,576.3 369.9,575.2 371.8,575.8 373.2,575.2 374,574.1 375,573 376,573 377.2,573.3 378.1,573 379,572.8 379.6,574.1 378.8,574.8 378.3,575.7 378,576.8 377.1,577.3 376,577.2 375,577.3 375,579.1 375.9,581.3 377.2,583.2 377.9,585.1 379.9,587.1 381.1,589.5 381.6,591.7 382.6,593.9 383.5,595.8 384.8,597.6 386.1,599.1 386.4,600.5 386.2,601.4 386.1,602.4 385,603.2 383.7,603.6 382.8,604.5 382.4,605.9 381.9,606.9 380.6,607.3 379.4,607.7 377.5,607.2 376.2,606.8 374.8,605.8 374.4,606.2 373.7,606.5 373.3,607.6 372.2,608.1 371.8,609 370.7,609.3 368.8,608.6 367.2,608.4 365.6,608.2 366,609.7 363.7,608.6 363,609.2 364.4,609.3 366.4,610.1 368.5,611 370.2,611.4 370.8,611 372.2,611.3 372.9,611 374.3,611.3 375.7,611.7 376.7,611.6 377.9,611.8 379.1,612 380.9,613 382.2,613.2 383.3,613.2 384.1,612.9 385.6,613.5 386.9,613.7 387.6,613.4 388.8,613.5 389.3,612.6 390,611.8 391.1,611.3 391.8,610.4 393.3,610.4 394.9,610.3 396.9,611.1 398.7,611.4 399.9,611.7 401.2,612.4 401.7,611.9 402.5,611.7 403.6,612 404.7,612.3 405.8,612.5 407,613.2 408,613.3 408.3,612.7 409,612.4 409.5,611.9 410.4,611.9 410.6,611.1 410.3,609.9 410.7,609.2 412.1,609.7 413.6,610.2 414,609.4 414.8,608.8 416,608.9 416.5,608.1 417.1,607.4 418.3,607.5 419.7,607.8 420.4,607.1 421.3,606.6 422.3,606.2 423.7,607.6 425.2,608.8 426.6,609.1 428,609.7 429,609.4 430,609.3 431.3,609.7 432.7,610.5 433.2,609.6 434.1,609.3 434.9,608.7 436.3,609.2 437,608.6 437.8,608 439,608.1 440.2,608 441.1,607.6 442,607.2 443,606.8 443.6,605.9 444.7,605.7 446,605.7 447.3,606.2 448.7,606.4 449.6,605.7 449.5,603.9 450.2,602.8 451.3,602.4 452.6,602.4 453.9,603 455,602.5 456.3,602.7 457.1,601.7 457.7,600.6 458.5,599.5 459.5,598.8 460.5,598 461.6,597.5 462.6,596.6 463.1,595.1 464.4,595 465.8,595.6 467.1,596 468.4,597.1 469.6,597 470.6,596.4 471.7,595.7 472.5,594.7 473.6,594 474.7,593.5 476,593.6 477.2,593.5 478.5,594.2 479.7,593.8 480.8,593.2 481.8,592.3 482.9,591.6 484.2,591 485.3,592 486.6,592.7 487.9,593 489.3,593.1 490.1,591.7 491.1,590.4 492.3,589.8 493.6,589.7 494.8,590.4 496,591 497.1,591.6 498.4,591.5 499.6,591.6 500.8,591.4 501.9,591.3 503.1,591.2 504.3,590.7 505.5,590.7 506.6,589.5 507.8,588.8 509,587.8 510.4,587.4 511.4,588.5 512.7,588.8 513.8,589.7 515.1,590.2 516.5,590.5 517.6,589 518.8,588.4 520.1,587.8 521.3,588.1 522.5,588.5 523.5,589.4 524.7,589.7 526,588.7 527.3,589.1 528.5,589.5 529.3,590.7 530.5,590.3 531.8,590 533.1,589.6 534.2,590.2 535.5,589.6 536.8,588.5 538,589 539.1,589.7 540.2,590.1 541.4,590.1 542.5,590.4 543.6,590.7 544.8,590.9 546.1,590.5 547.1,591.1 548.4,591 549.5,591.7 551,590.9 552.3,589.9 553.6,589 555.1,588.9 556.7,588.6 558.4,588.4 559.9,586.9 561,587.9 562.5,587.9 564,587.9 565.3,588.5 566.8,588.3 568.2,588.5 569.4,589 570.6,589.7 572.1,588.7 573.4,587.2 574.8,585.9 576.2,584.8 577.6,584.8 578.9,584.9 580.3,584.5 581.7,584.3 583,584.1 584.1,584.6 585.6,583.4 586.8,583.9 588.2,583.4 589.6,582.8 591.1,582.2 592.6,581.2 594.2,580.9 595.1,581.8 596.2,581 597.4,580.4 598.6,579.9 599.7,579.9 600.9,579.5 601.8,579.8 602.9,579.7 603.9,579.7 605.2,580.2 606.4,580.8 608.1,580.6 608.9,581.8 610.1,582.4 611.8,582.2 612.7,583.2 614,583.6 615.3,583.4 616.3,583.9 617.8,583.4 619.3,582.9 620.3,583.2 621.2,583.8 622.5,583.8 623.4,584.4 623.8,585.1 624.3,585.9 625.3,585.9 626.3,586 627.6,585.2 628.9,584.8 629.8,585 631,584.6 630.4,586.5 631.6,586.9 632.1,587.8 632,589 633.1,589.2 633.4,590.2 634.4,590.3 635,590.7 636.2,590.3 637.5,589.7 638.8,590.2 640.9,589.1 642.8,588.4 644.7,587.7 646.8,586.3 648.9,585.5 650.6,585.2 652.6,584.6 654.3,583.8 655.6,583.8 656.6,584.1 658.2,583.7 659.9,582.8 661.2,582.8 662.7,582.5 664.2,582 665.4,582.1 666.8,581.9 667.7,582.3 669.3,581.8 670.8,581.5 672.4,580.9 674,580.7 674.3,581.8 675.2,582.4 677.3,581.3 679.2,580.1 680.9,579.5 682.7,579.4 681.7,581.5 682.8,581.8 684.6,581.3 685.8,581.3 687.3,581.1 688.2,581.5 689.5,581.5 691.6,579.7 693.5,579.2 695.1,578.9 696,579.4 697.1,579.7 697.8,580.4 698.3,581.1 698.9,581.8 700.8,581 702.6,580.2 703.2,581 704.9,580.7 706.9,580.1 707.3,581.1 707.4,582.2 708.3,582.7 710.4,581.6 711.4,582.1 713.5,581 715.6,579.9 717.4,579.3 719.1,578.9 719.7,579.5 720.4,580.1 721.1,580.9 720.6,582.4 722.3,582 724.3,581.3 726.1,580.9 728.4,579.5 730.7,578.4 731.8,578.7 733,579 732.7,580.4 733.7,580.8 733.5,582 734.8,582 735.6,582.5 737.5,581.7 739.1,581.4 740.2,581.5 741.3,581.6 743.2,581 744.7,580.7 746.2,580.5 747.3,580.6 748.7,580.5 750,580.4 750.6,581 751.3,581.6 753.6,580.4 755.5,579.9 757.2,579.6 758.3,579.8 761.1,577.8 762.2,578.3 762.7,579 764,579 764.2,579.9 765.5,579.9 765.9,580.6 767.1,580.7 768.9,580.3 770.2,580.3 771.7,580 772.5,580.5 773.4,580.8 773.4,581.8 774.1,582.3 773.5,583.6 774.8,583.6 775.5,584 776.6,584.2 778.8,583.3 779.8,583.6 781.7,583.1 783.2,583 783.5,583.8 786,582.8 788.1,582.2 787.9,583.2 788.1,584 788.1,584.9 787.9,585.9 790.4,584.9 792.8,584 792.5,585.1 793.3,585.6 795.1,585.2 795.8,585.7 795.4,586.8 795.3,587.7 794.6,588.9 794.5,589.8 795.9,589.6 796.9,589.9 799.2,589.1 799.4,589.8 800.6,589.9 801.3,590.2 803.3,589.7 803.7,590.3 804.1,590.8 804,591.6 805.7,591.3 805.9,591.9 806.6,592.3 807.9,592.2 809.8,591.7 811.5,591.4 813.6,590.9 813.1,592 813.8,592.4 812.2,593.9 812.7,594.3 814.6,593.9 813.9,595 812.4,596.4 811.2,596.1 808,597.1 804.7,598.2 800.7,600 799.3,600.2 796.8,601.2 794.8,601.8 792.5,602.7 791.8,602.5 790,603 788.8,603.1 789.2,602.4 786.8,603.5 784.4,604.7 782,605.9 779.4,607 780.6,607 781.2,607.3 781.2,607.9 779.2,609.2 779.7,609.4 780.8,609.3 780.6,609.7 781.8,609.6 783.8,609.1 786.3,608.3 785.1,609.2 786,609.2 787.9,608.9 789,608.9 791.3,608.3 793.1,608 793.8,608.2 793.2,609 792.8,609.6 791.5,610.6 792.1,610.8 794.1,610.4 797.2,609.4 799.2,609 800.2,609.1 801.7,608.9 803.9,608.5 802,609.7" fill="none" stroke="#000" stroke-width="1.15" stroke-linejoin="round"/>
<path d="M611.6,245.9 616,244.7 620.8,245 622.4,249.4 617.9,249.7 617.9,252.4 616.2,252.4 619.9,255.6 623.1,257.1 624.4,261.6 627.1,262.8 625.7,265.2 627.7,267.6 629.6,273 625.2,274.8 620.7,273.3 617.2,271.8 616.3,268.5 617,264.3 618.9,264 615.8,261.3 613.4,259.2 610.4,256.2 609.2,253.3 607.3,251.2 608.8,248.2Z M634.7,250.3 635.3,246.5 637.3,245.3 641,245.9 641.9,250.3 639.8,253.8 637.6,254.4 635.6,253.3Z M732.4,231.3 735.3,231.5 737,228.4 739.1,225.5 739.7,221.8 738,218.9 736.5,219.5 736.9,224.9 734.8,227.5 733.1,230.1Z M670.5,249.1 672,246.7 676.2,245.3 679.1,245.1 682,245 681.9,246.7 678.8,246.7 675.6,246.7 673.1,249.7Z M560,207.2 562.4,207.5 565.6,206.4 564.6,203.9 560.7,202.8 559.1,204.7Z M568,204.5 572.2,204.5 570.3,201.2 567.3,199.8 568.5,202.3Z M522.7,211.4 525.1,211.6 525.9,209.7 524.4,209.1 523.4,210Z M279.3,245.3 282.8,245.3 287.8,244.7 289.6,245.9 292.7,245.7 295.7,245.6 297.3,244.4 297.4,241.5 294.9,239.4 290.9,238.8 286.9,241.5 283.1,243.2Z M283.4,259.2 286.3,259.8 289,254.7 292.5,250.3 294.7,247.9 292.4,247.6 289.6,248.8 286.1,251.5 285.7,254.7Z M295.9,247.3 298.6,247 303.2,247.3 306.2,248.8 305,251.8 302.2,251.2 299.8,254.7 297.6,256.2 298.1,253.6 295,254.1 297.5,250.3 295.7,248.2Z M293.7,260.1 295.6,261 299.6,259.8 305.3,257.4 305.7,256.5 301.7,257.4 297.7,258.6 294.6,258.9Z M304.2,255.3 308.5,255.3 312.9,254.4 313.5,252.7 310.5,253.3 306.2,253.8Z M273.3,234.4 275.2,233.6 276.1,230.7 275.9,228.4 277,224.6 274.7,224.4 272.4,226.9 273.5,228.9 274.2,231.3Z M244.2,193.7 246.5,193.7 248.9,193.7 253.2,192.4 257.2,192.4 261.8,190.3 261.4,188.4 258.1,188.4 253.8,189.7 249.3,190.3 249.4,192.1Z M250.2,204.5 253.2,204.7 258.1,203.9 264.1,201.7 267.3,200.8 270.4,199.8 268.2,199.3 264.9,200.1 261.6,200.9 258.8,200.7 255.2,201.2 252.5,203.1Z M257.3,210.8 261.6,210 265.2,209.4 268.9,208.9 265.9,210 262.8,210.5 259.7,211.1Z M580.2,386.4 582.6,384.9 586.3,384.9 586.8,387 586,390 584.4,392.4 583.1,393 580.9,393 580.2,390Z M573.8,395.7 574.8,399 574.7,403.6 577.1,406.6 578.6,411.7 577,411.1 574.2,406 573.2,400.5Z M585.9,414.1 587.2,417.1 587.3,421.6 589,426.1 588.1,428.5 586.9,426.7 586.2,421.6 585.8,418Z M270.5,217 273.8,216.7 276.1,212.8 273.3,213.6Z" fill="none" stroke="#000" stroke-width="0.9" stroke-linejoin="round"/>
</g>
<path d="M241.6,628.2 222.5,622.4 199,613.5 174.2,602.4 152.5,590.2 132.9,577.3 114.3,563.8 96.9,549.8 81.1,535.4 67.6,520.7 55.5,505.8 45.4,490.8 37.1,475.8 30.9,460.7 26.5,445.7 22.8,430.6 20.2,415.6 18.7,400.5 18,385.5 18.7,370.5 20.2,355.4 22.8,340.4 26.5,325.3 30.9,310.3 37.1,295.2 45.4,280.2 55.5,265.2 67.6,250.3 81.1,235.6 96.9,221.2 114.3,207.2 132.9,193.7 152.5,180.8 174.2,168.6 199,157.5 222.5,148.6 241.6,142.8 750.4,142.8 769.5,148.6 793,157.5 817.8,168.6 839.5,180.8 859.1,193.7 877.7,207.2 895.1,221.2 910.9,235.6 924.4,250.3 936.5,265.2 946.6,280.2 954.9,295.2 961.1,310.3 965.5,325.3 969.2,340.4 971.8,355.4 973.3,370.5 974,385.5 973.3,400.5 971.8,415.6 969.2,430.6 965.5,445.7 961.1,460.7 954.9,475.8 946.6,490.8 936.5,505.8 924.4,520.7 910.9,535.4 895.1,549.8 877.7,563.8 859.1,577.3 839.5,590.2 817.8,602.4 793,613.5 769.5,622.4 750.4,628.2Z" fill="none" stroke="#000" stroke-width="1.4" stroke-linejoin="round"/>
<g shape-rendering="crispEdges">
<rect x="106.2" y="654.6" width="39.3" height="17.3" fill="#0a0acd"/>
<rect x="145.2" y="654.6" width="39.3" height="17.3" fill="#1f1fd3"/>
<rect x="184.1" y="654.6" width="39.3" height="17.3" fill="#3434d8"/>
<rect x="223.1" y="654.6" width="39.3" height="17.3" fill="#4949de"/>
<rect x="262" y="654.6" width="39.3" height="17.3" fill="#5e5ee3"/>
<rect x="301" y="654.6" width="39.3" height="17.3" fill="#7474e9"/>
<rect x="340" y="654.6" width="39.3" height="17.3" fill="#8989ee"/>
<rect x="378.9" y="654.6" width="39.3" height="17.3" fill="#9e9ef4"/>
<rect x="417.9" y="654.6" width="39.3" height="17.3" fill="#b3b3f9"/>
<rect x="456.8" y="654.6" width="39.3" height="17.3" fill="#c8c8ff"/>
<rect x="495.8" y="654.6" width="39.3" height="17.3" fill="#ffc8c8"/>
<rect x="534.8" y="654.6" width="39.3" height="17.3" fill="#f9b3b3"/>
<rect x="573.7" y="654.6" width="39.3" height="17.3" fill="#f49e9e"/>
<rect x="612.7" y="654.6" width="39.3" height="17.3" fill="#ee8989"/>
<rect x="651.6" y="654.6" width="39.3" height="17.3" fill="#e97474"/>
<rect x="690.6" y="654.6" width="39.3" height="17.3" fill="#e35e5e"/>
<rect x="729.6" y="654.6" width="39.3" height="17.3" fill="#de4949"/>
<rect x="768.5" y="654.6" width="39.3" height="17.3" fill="#d83434"/>
<rect x="807.5" y="654.6" width="39.3" height="17.3" fill="#d31f1f"/>
<rect x="846.4" y="654.6" width="39.3" height="17.3" fill="#cd0a0a"/>
</g>
<path d="M106.2,654.6L71,663.2L106.2,671.9Z" fill="#00008c" stroke="#000" stroke-width="1.3" stroke-linejoin="miter"/>
<path d="M885.4,654.6L921.2,663.2L885.4,671.9Z" fill="#6e0000" stroke="#000" stroke-width="1.3" stroke-linejoin="miter"/>
<rect x="106.2" y="654.6" width="779.2" height="17.3" fill="none" stroke="#000" stroke-width="1.3"/>
<path d="M106.2,671.9V679.6M184.1,671.9V679.6M262,671.9V679.6M340,671.9V679.6M417.9,671.9V679.6M495.8,671.9V679.6M573.7,671.9V679.6M651.6,671.9V679.6M729.6,671.9V679.6M807.5,671.9V679.6M885.4,671.9V679.6" stroke="#000" stroke-width="1" fill="none"/>
</svg>
<div class="t c" style="top:43.5px;left:0.4px;font-size:30.24px">Land−Only Temperature Departure from Average Mar 2014</div>
<div class="t c" style="top:80.8px;left:4.6px;font-size:24.97px">(with respect to a 1981−2010 base period)</div>
<div class="t c" style="top:117px;left:4.6px;font-size:18.6px">Data Source: GHCN−M version 3.2.2</div>
<div class="cl" style="left:76.2px">−5</div><div class="cl" style="left:154.1px">−4</div><div class="cl" style="left:232px">−3</div><div class="cl" style="left:310px">−2</div><div class="cl" style="left:387.9px">−1</div><div class="cl" style="left:465.8px">0</div><div class="cl" style="left:543.7px">1</div><div class="cl" style="left:621.6px">2</div><div class="cl" style="left:699.6px">3</div><div class="cl" style="left:777.5px">4</div><div class="cl" style="left:855.4px">5</div>
<div class="t c" style="top:712.9px;left:0.8px;font-size:18.5px">Degrees Celsius</div>
<div class="t" style="left:69.4px;top:718px;font-size:12.62px">NOAA’s National Climatic Data Center</div>
<div class="t" style="left:79.6px;top:735.3px;font-size:12.6px">Tue Apr 15 07:35:48 EDT 2014</div>
<div class="t" style="left:704.4px;top:718px;font-size:12.6px">Please Note: Gray areas represent missing data</div>
<div class="t" style="left:704.4px;top:735.3px;font-size:12.6px">Map Projection: Robinson</div>
<svg width="990" height="765" viewBox="0 0 990 765" style="position:absolute;left:0;top:0;pointer-events:none">
<defs><clipPath id="lg"><circle cx="37.1" cy="723.0" r="20.7"/></clipPath>
<path id="ringT" d="M 16.14,730.63 A 22.3,22.3 0 1 1 58.06,730.63"/>
<path id="ringB" d="M 14.99,733.31 A 24.4,24.4 0 0 0 59.21,733.31"/></defs>
<g clip-path="url(#lg)">
<circle cx="37.1" cy="723.0" r="20.7" fill="#12a3e6"/>
<polygon points="15.2,715.4 20.7,710.7 24.1,714.1 27.9,719.2 31.8,723.2 36.9,725.8 42.4,723.5 46.6,720.1 50.5,715.8 53.4,710.7 58.1,715.0 54.7,718.4 50.0,722.6 44.9,726.3 39.0,728.8 33.0,728.6 27.9,726.1 22.0,721.0 15.6,717.5" fill="#fff"/>
<polygon points="20.7,710.7 17.7,700.1 56.0,700.1 53.4,710.7 50.5,715.8 46.6,720.1 42.4,723.5 36.9,725.8 31.8,723.2 27.9,719.2 24.1,714.1" fill="#1f5cab"/>
<polygon points="30.1,730.5 33.9,729.0 40.7,727.1 46.0,726.1 45.6,727.1 40.7,728.6 34.3,730.5 30.5,731.1" fill="#fff"/>
</g>
<text x="36.7" y="715.7" text-anchor="middle" font-family="Liberation Sans, sans-serif" font-weight="700" font-size="6.6" fill="#fff" textLength="16.5" lengthAdjust="spacingAndGlyphs">NOAA</text>
<text font-family="Liberation Sans, sans-serif" font-size="2.9" fill="#2a5db5" letter-spacing="0.05"><textPath href="#ringT" startOffset="1%" textLength="83" lengthAdjust="spacing">NATIONAL OCEANIC AND ATMOSPHERIC ADMINISTRATION</textPath></text>
<text font-family="Liberation Sans, sans-serif" font-size="2.9" fill="#2a5db5"><textPath href="#ringB" startOffset="3%" textLength="51" lengthAdjust="spacing">U.S. DEPARTMENT OF COMMERCE</textPath></text>
</svg>
</body></html>
